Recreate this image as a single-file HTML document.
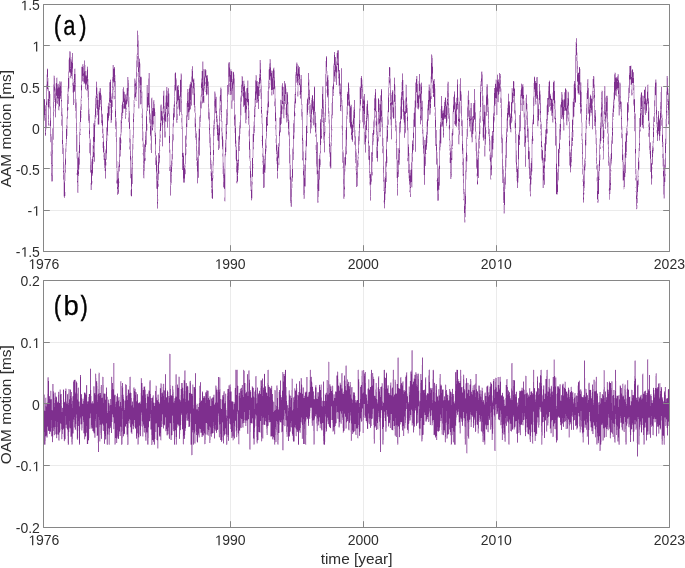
<!DOCTYPE html>
<html><head><meta charset="utf-8"><style>
html,body{margin:0;padding:0;background:#fff;width:685px;height:568px;overflow:hidden}
svg{display:block;will-change:transform}
text{font-family:"Liberation Sans",sans-serif;fill:#2e2e2e}
</style></head><body>
<svg width="685" height="568" viewBox="0 0 685 568">
<rect width="685" height="568" fill="#fff"/>
<line x1="43.7" y1="45.5" x2="669.4" y2="45.5" stroke="#ebebeb" stroke-width="1"/>
<line x1="43.7" y1="86.5" x2="669.4" y2="86.5" stroke="#ebebeb" stroke-width="1"/>
<line x1="43.7" y1="127.5" x2="669.4" y2="127.5" stroke="#ebebeb" stroke-width="1"/>
<line x1="43.7" y1="168.5" x2="669.4" y2="168.5" stroke="#ebebeb" stroke-width="1"/>
<line x1="43.7" y1="210.5" x2="669.4" y2="210.5" stroke="#ebebeb" stroke-width="1"/>
<line x1="230.5" y1="4.6" x2="230.5" y2="251.1" stroke="#ebebeb" stroke-width="1"/>
<line x1="363.5" y1="4.6" x2="363.5" y2="251.1" stroke="#ebebeb" stroke-width="1"/>
<line x1="496.5" y1="4.6" x2="496.5" y2="251.1" stroke="#ebebeb" stroke-width="1"/>
<line x1="43.7" y1="342.5" x2="669.4" y2="342.5" stroke="#ebebeb" stroke-width="1"/>
<line x1="43.7" y1="403.5" x2="669.4" y2="403.5" stroke="#ebebeb" stroke-width="1"/>
<line x1="43.7" y1="465.5" x2="669.4" y2="465.5" stroke="#ebebeb" stroke-width="1"/>
<line x1="230.5" y1="280.6" x2="230.5" y2="527.2" stroke="#ebebeb" stroke-width="1"/>
<line x1="363.5" y1="280.6" x2="363.5" y2="527.2" stroke="#ebebeb" stroke-width="1"/>
<line x1="496.5" y1="280.6" x2="496.5" y2="527.2" stroke="#ebebeb" stroke-width="1"/>
<path d="M46.5 74v1M46.5 129v1M47.5 105v2M49.5 123v1M50.5 142v1M50.5 151v1M53.5 75v1M53.5 143v2M54.5 75v1M54.5 105v1M54.5 109v1M54.5 111v1M55.5 83v1M56.5 77v1M56.5 105v1M57.5 77v1M58.5 83v1M58.5 110v1M59.5 110v1M63.5 144v1M63.5 196v1M64.5 164v1M67.5 87v1M68.5 59v1M69.5 88v1M70.5 78v1M71.5 78v1M72.5 92v1M74.5 68v1M75.5 68v1M75.5 111v2M75.5 118v1M76.5 152v1M76.5 158v1M77.5 134v1M79.5 169v1M80.5 98v1M81.5 66v1M81.5 113v1M87.5 97v1M89.5 108v1M89.5 153v1M90.5 138v1M92.5 183v1M95.5 95v1M95.5 126v1M96.5 110v1M96.5 117v1M97.5 87v1M97.5 115v1M97.5 124v1M98.5 91v1M99.5 124v1M100.5 105v1M101.5 94v1M102.5 113v1M103.5 128v1M106.5 165v1M108.5 102v1M108.5 121v1M108.5 134v2M110.5 113v1M111.5 93v1M113.5 99v1M114.5 99v1M115.5 129v1M119.5 181v1M121.5 135v1M121.5 139v1M121.5 143v1M122.5 119v1M124.5 91v1M127.5 103v1M128.5 122v1M130.5 129v1M130.5 178v1M130.5 195v1M131.5 157v1M133.5 143v1M133.5 149v1M134.5 113v4M135.5 78v1M136.5 54v1M137.5 67v1M137.5 76v1M139.5 108v1M140.5 63v1M141.5 76v1M141.5 108v1M141.5 113v1M141.5 115v1M142.5 91v1M142.5 142v2M142.5 154v1M143.5 131v1M143.5 178v1M144.5 178v1M145.5 130v1M147.5 130v1M149.5 123v1M150.5 140v1M150.5 143v1M151.5 97v1M152.5 97v1M153.5 127v1M154.5 136v1M158.5 199v2M159.5 129v1M159.5 164v1M159.5 170v1M160.5 104v1M160.5 144v2M160.5 150v1M161.5 126v1M162.5 107v1M163.5 90v1M164.5 90v1M165.5 95v1M166.5 86v1M167.5 86v1M168.5 117v1M168.5 121v1M169.5 93v1M170.5 149v1M172.5 123v1M172.5 166v1M173.5 104v1M173.5 141v1M174.5 73v1M175.5 91v1M177.5 120v1M178.5 109v1M179.5 94v1M180.5 73v1M183.5 152v1M184.5 163v1M185.5 174v1M186.5 148v1M186.5 154v1M189.5 119v1M190.5 81v1M194.5 78v1M194.5 117v1M197.5 150v1M198.5 128v1M199.5 115v1M200.5 95v1M200.5 122v1M200.5 127v1M203.5 61v1M204.5 91v1M204.5 95v1M208.5 120v1M209.5 108v1M209.5 147v1M210.5 169v1M212.5 161v1M213.5 120v1M213.5 173v1M213.5 178v1M215.5 91v1M215.5 113v1M216.5 96v1M219.5 96v1M220.5 119v1M221.5 87v1M221.5 139v1M223.5 139v1M224.5 201v1M225.5 201v1M232.5 71v1M233.5 71v1M234.5 74v1M235.5 159v1M236.5 140v1M236.5 183v1M237.5 159v1M237.5 183v1M240.5 95v1M241.5 115v1M242.5 96v1M243.5 80v1M244.5 80v1M245.5 123v1M246.5 120v1M246.5 123v1M247.5 105v1M248.5 80v1M248.5 130v1M248.5 136v1M249.5 110v1M252.5 198v1M253.5 121v1M253.5 165v2M253.5 168v1M254.5 98v1M254.5 133v1M254.5 135v1M261.5 79v1M261.5 136v1M262.5 113v1M262.5 167v1M264.5 155v1M265.5 138v1M266.5 110v1M266.5 151v1M268.5 69v1M269.5 89v1M270.5 85v1M272.5 70v1M272.5 95v1M273.5 67v1M274.5 67v1M274.5 106v1M275.5 138v1M280.5 99v1M281.5 85v1M283.5 86v1M283.5 118v1M284.5 118v1M285.5 107v1M286.5 88v1M287.5 122v1M288.5 136v1M289.5 120v1M289.5 179v1M290.5 154v1M290.5 206v1M292.5 147v1M292.5 183v1M294.5 138v1M297.5 62v1M298.5 96v1M305.5 140v1M306.5 103v1M306.5 160v1M307.5 97v1M308.5 105v1M309.5 79v1M312.5 117v1M314.5 127v1M315.5 111v1M316.5 174v1M321.5 108v1M321.5 141v2M322.5 122v1M324.5 112v1M325.5 133v1M326.5 86v1M326.5 89v1M328.5 123v1M329.5 161v1M329.5 166v1M332.5 118v1M332.5 130v1M333.5 63v1M337.5 72v1M341.5 111v1M341.5 125v1M341.5 128v1M342.5 166v1M342.5 168v1M345.5 171v1M346.5 106v1M346.5 158v1M347.5 91v1M350.5 104v1M351.5 104v1M352.5 120v1M355.5 163v1M355.5 170v1M357.5 186v1M359.5 86v1M359.5 144v1M360.5 111v1M360.5 123v1M362.5 79v1M362.5 122v1M367.5 129v2M368.5 110v1M369.5 185v1M371.5 184v1M373.5 119v1M375.5 120v1M375.5 125v1M376.5 98v1M377.5 118v1M379.5 136v1M382.5 100v1M382.5 153v1M383.5 200v1M383.5 202v1M386.5 125v1M387.5 110v1M387.5 156v1M389.5 95v1M389.5 100v2M390.5 67v1M390.5 125v1M393.5 90v1M394.5 118v1M395.5 85v1M395.5 131v1M395.5 141v1M400.5 98v1M400.5 133v1M402.5 104v1M403.5 120v3M404.5 100v1M405.5 84v1M405.5 133v1M406.5 84v1M406.5 118v1M407.5 103v1M407.5 161v1M408.5 178v1M409.5 192v1M410.5 169v1M411.5 187v1M412.5 187v1M413.5 150v1M414.5 100v1M414.5 127v1M416.5 107v1M419.5 107v1M420.5 83v1M422.5 100v1M423.5 129v1M425.5 168v1M426.5 121v1M427.5 104v1M428.5 84v1M430.5 76v1M432.5 55v1M434.5 107v1M434.5 109v1M434.5 112v1M435.5 88v1M436.5 181v1M438.5 166v1M440.5 150v1M441.5 143v1M443.5 108v1M446.5 100v1M446.5 126v1M447.5 81v1M447.5 121v1M448.5 81v1M448.5 126v1M448.5 128v1M449.5 152v1M449.5 157v1M450.5 140v1M452.5 111v1M452.5 149v2M453.5 96v1M454.5 124v1M456.5 97v1M458.5 97v1M458.5 144v1M459.5 144v1M460.5 101v1M460.5 113v1M461.5 91v1M462.5 119v1M463.5 200v1M465.5 217v1M465.5 219v1M465.5 222v1M466.5 179v1M467.5 95v1M467.5 144v1M467.5 161v1M469.5 130v2M471.5 142v1M472.5 142v1M476.5 131v1M476.5 173v1M476.5 176v1M477.5 151v1M478.5 135v1M479.5 151v1M479.5 153v1M480.5 125v1M481.5 87v1M481.5 89v1M481.5 93v1M482.5 71v1M482.5 121v1M482.5 137v1M483.5 95v1M484.5 104v1M485.5 105v1M485.5 156v1M486.5 133v1M487.5 112v1M487.5 115v1M488.5 98v1M488.5 136v1M489.5 128v1M489.5 154v1M490.5 140v1M491.5 135v1M491.5 178v2M493.5 105v1M493.5 149v1M494.5 122v1M495.5 79v1M498.5 102v1M500.5 104v1M501.5 88v1M501.5 153v1M502.5 134v1M503.5 204v1M503.5 213v1M504.5 176v1M505.5 141v1M506.5 118v1M506.5 167v1M507.5 104v1M507.5 132v1M507.5 134v1M510.5 132v1M511.5 123v1M511.5 127v1M511.5 132v1M512.5 111v1M512.5 116v1M512.5 121v1M513.5 103v1M514.5 81v1M514.5 114v1M514.5 120v1M514.5 128v1M515.5 162v1M518.5 132v1M518.5 182v1M520.5 131v1M523.5 117v1M524.5 100v1M526.5 135v1M528.5 126v1M528.5 168v1M529.5 183v1M529.5 191v1M531.5 184v1M532.5 119v1M532.5 171v1M533.5 138v1M536.5 100v1M536.5 104v1M537.5 126v1M538.5 126v1M540.5 90v1M540.5 129v1M540.5 133v1M540.5 135v1M541.5 121v1M541.5 160v1M543.5 157v1M546.5 105v1M550.5 93v1M552.5 92v1M553.5 80v1M553.5 122v1M554.5 80v1M554.5 119v1M555.5 100v1M557.5 168v1M558.5 148v1M558.5 181v1M559.5 166v1M560.5 148v1M562.5 119v1M564.5 122v1M564.5 130v1M566.5 89v1M566.5 125v1M567.5 91v1M567.5 125v1M568.5 91v1M568.5 126v1M568.5 128v1M568.5 136v2M569.5 112v1M570.5 149v1M571.5 166v1M572.5 101v1M573.5 84v1M574.5 116v1M577.5 52v1M577.5 93v1M581.5 82v1M581.5 140v1M582.5 122v1M582.5 185v1M584.5 192v1M584.5 194v1M585.5 120v1M585.5 170v1M586.5 141v1M586.5 145v1M587.5 114v1M588.5 117v1M589.5 97v1M590.5 116v1M591.5 115v1M593.5 101v1M594.5 76v1M596.5 177v1M596.5 181v1M599.5 138v1M600.5 113v1M600.5 154v1M601.5 90v1M602.5 90v1M602.5 138v1M602.5 158v2M604.5 137v1M606.5 95v1M606.5 122v1M607.5 95v1M607.5 136v1M607.5 144v1M608.5 189v2M609.5 156v1M611.5 136v1M611.5 165v1M611.5 171v1M612.5 108v1M613.5 92v1M613.5 118v1M614.5 72v1M614.5 103v1M614.5 108v1M615.5 72v1M616.5 96v1M617.5 90v1M617.5 95v2M618.5 115v1M620.5 82v1M620.5 111v1M621.5 101v1M621.5 138v1M622.5 126v1M622.5 180v1M623.5 154v1M623.5 189v1M626.5 125v1M627.5 141v1M628.5 85v1M628.5 120v1M630.5 65v1M631.5 65v1M632.5 95v1M634.5 131v1M636.5 168v1M636.5 209v1M637.5 170v1M637.5 203v1M637.5 208v1M639.5 157v1M639.5 160v1M639.5 169v1M640.5 94v1M643.5 95v1M644.5 113v1M646.5 98v1M647.5 84v1M647.5 105v1M648.5 84v1M649.5 107v1M652.5 169v1M652.5 178v1M653.5 153v1M654.5 86v1M654.5 126v1M655.5 106v1M655.5 112v1M656.5 79v1M658.5 134v1M662.5 114v1M662.5 166v1M663.5 198v1M664.5 159v1M667.5 106v1M667.5 110v1M667.5 113v1M667.5 115v1M668.5 88v1" stroke="#f0e6f1" stroke-width="1" fill="none"/>
<path d="M46.5 75v9M46.5 127v2M47.5 68v1M47.5 90v1M47.5 99v6M48.5 78v10M49.5 108v1M49.5 124v2M50.5 94v12M50.5 152v4M51.5 134v2M51.5 181v1M52.5 181v1M53.5 76v8M54.5 100v1M54.5 110v1M55.5 84v4M55.5 117v1M56.5 103v2M57.5 78v6M59.5 107v3M60.5 81v1M61.5 81v1M61.5 116v3M62.5 108v6M63.5 145v3M63.5 180v16M64.5 165v8M65.5 143v5M65.5 173v8M65.5 192v4M66.5 117v8M66.5 146v6M67.5 88v6M67.5 119v7M67.5 128v8M68.5 60v11M68.5 92v4M68.5 107v3M69.5 76v12M70.5 51v1M71.5 57v2M71.5 76v2M72.5 79v4M72.5 86v6M73.5 79v3M74.5 99v4M75.5 69v5M75.5 113v5M76.5 99v3M76.5 153v5M76.5 173v2M77.5 135v17M78.5 151v5M78.5 176v9M78.5 186v7M79.5 122v10M79.5 165v4M80.5 99v7M80.5 122v7M80.5 131v3M81.5 99v1M81.5 101v3M81.5 111v2M81.5 114v4M82.5 81v1M83.5 64v2M83.5 82v2M85.5 65v6M85.5 89v1M86.5 71v4M86.5 85v4M86.5 90v1M87.5 66v1M87.5 91v6M88.5 79v6M88.5 121v2M89.5 109v5M89.5 139v4M90.5 183v7M91.5 159v2M92.5 145v11M92.5 181v2M93.5 158v2M93.5 161v3M94.5 115v5M95.5 96v2M95.5 119v2M95.5 122v4M96.5 81v1M96.5 108v1M96.5 111v6M97.5 88v6M97.5 118v6M98.5 92v8M99.5 88v3M99.5 110v14M100.5 104v1M100.5 106v1M101.5 123v2M102.5 134v2M102.5 142v6M103.5 129v5M103.5 153v2M103.5 157v3M104.5 146v7M104.5 168v3M105.5 149v1M106.5 162v3M107.5 106v7M107.5 136v5M110.5 79v1M110.5 103v1M110.5 108v5M110.5 114v9M111.5 94v2M112.5 65v12M112.5 99v1M112.5 110v3M113.5 83v3M113.5 90v6M113.5 97v2M114.5 87v4M114.5 92v4M115.5 75v6M115.5 132v5M116.5 118v3M116.5 168v12M116.5 183v1M117.5 161v10M118.5 162v4M119.5 171v1M119.5 182v1M120.5 120v14M120.5 156v1M121.5 105v7M121.5 133v2M121.5 140v3M122.5 89v12M122.5 116v1M122.5 118v1M123.5 103v1M123.5 109v4M126.5 88v5M126.5 105v3M126.5 110v1M126.5 113v2M127.5 102v1M128.5 77v3M128.5 107v10M129.5 97v14M129.5 129v9M129.5 143v3M129.5 149v1M130.5 130v9M130.5 190v5M131.5 158v9M131.5 196v1M132.5 135v9M133.5 100v13M133.5 138v5M133.5 144v5M134.5 78v1M134.5 100v2M134.5 103v1M134.5 107v6M135.5 79v1M135.5 98v3M136.5 55v5M136.5 94v6M137.5 30v1M137.5 55v1M137.5 73v3M138.5 35v5M138.5 108v1M139.5 58v1M139.5 88v20M140.5 64v12M140.5 104v1M141.5 104v4M141.5 114v1M141.5 116v2M142.5 92v16M142.5 141v1M142.5 144v3M142.5 153v1M143.5 132v10M144.5 171v7M145.5 131v1M145.5 152v6M146.5 85v26M147.5 124v6M148.5 73v5M148.5 107v1M150.5 113v1M150.5 136v4M150.5 144v6M152.5 98v10M153.5 125v2M154.5 100v4M154.5 116v15M154.5 132v4M155.5 112v20M155.5 156v1M157.5 165v8M158.5 180v4M159.5 130v9M159.5 163v1M159.5 171v3M160.5 131v3M160.5 138v2M161.5 104v1M161.5 121v5M162.5 108v3M162.5 146v1M163.5 114v4M163.5 120v3M164.5 91v15M164.5 137v1M165.5 96v6M165.5 122v9M165.5 137v1M166.5 109v13M167.5 87v4M168.5 114v2M168.5 118v3M169.5 94v19M169.5 153v14M170.5 150v15M171.5 154v6M171.5 183v2M172.5 124v10M172.5 160v3M172.5 164v2M173.5 105v3M173.5 128v6M173.5 140v1M174.5 74v11M174.5 117v1M176.5 78v1M177.5 85v1M177.5 103v3M177.5 109v5M177.5 121v2M178.5 108v1M179.5 95v1M180.5 74v5M181.5 73v1M181.5 115v3M181.5 123v5M182.5 114v12M184.5 164v1M185.5 135v1M185.5 164v2M185.5 167v2M186.5 103v12M186.5 140v3M186.5 149v5M187.5 117v10M188.5 89v3M189.5 84v1M189.5 112v7M190.5 109v1M191.5 69v7M192.5 83v3M192.5 94v1M193.5 78v1M193.5 95v10M194.5 79v4M194.5 112v1M194.5 118v9M195.5 106v7M195.5 138v2M196.5 131v2M196.5 162v4M197.5 151v6M197.5 183v1M198.5 129v8M199.5 116v1M200.5 96v4M200.5 123v4M201.5 71v7M201.5 97v4M201.5 108v1M202.5 61v1M202.5 103v1M203.5 62v7M204.5 90v1M204.5 96v7M205.5 78v4M205.5 84v7M206.5 70v5M206.5 95v1M207.5 94v1M208.5 81v1M208.5 119v1M209.5 109v3M209.5 143v4M210.5 134v3M210.5 171v5M211.5 160v4M211.5 188v1M211.5 193v5M212.5 162v9M213.5 121v4M213.5 166v7M213.5 175v3M214.5 91v1M214.5 130v6M215.5 92v1M216.5 122v7M217.5 115v4M217.5 140v1M219.5 97v11M219.5 148v1M220.5 87v1M220.5 103v2M220.5 111v4M220.5 120v1M221.5 88v1M221.5 122v5M221.5 132v7M222.5 121v11M222.5 150v3M222.5 157v17M223.5 140v22M223.5 187v1M224.5 154v14M224.5 189v8M225.5 124v16M225.5 157v44M226.5 140v12M228.5 62v1M228.5 94v1M229.5 82v1M229.5 87v8M231.5 69v2M231.5 95v5M232.5 72v7M232.5 102v7M233.5 100v1M234.5 75v3M234.5 126v7M235.5 114v1M235.5 147v12M236.5 141v5M236.5 173v8M237.5 182v1M238.5 170v3M239.5 122v3M239.5 145v1M240.5 96v1M240.5 129v5M241.5 76v8M241.5 102v13M244.5 81v3M244.5 106v7M245.5 91v1M246.5 121v2M247.5 80v1M247.5 103v2M248.5 81v12M248.5 131v5M249.5 111v14M249.5 159v2M249.5 166v3M250.5 149v12M250.5 187v3M251.5 174v7M251.5 200v1M252.5 134v24M252.5 177v5M252.5 185v13M253.5 122v4M253.5 150v8M253.5 164v1M253.5 167v1M254.5 99v7M254.5 134v1M255.5 75v5M255.5 107v1M255.5 109v8M259.5 60v14M259.5 88v2M260.5 84v5M260.5 93v6M261.5 80v5M261.5 114v1M261.5 118v6M261.5 140v1M262.5 114v9M262.5 148v5M262.5 157v4M262.5 163v2M262.5 168v6M263.5 148v7M264.5 156v3M264.5 187v1M265.5 170v3M266.5 111v6M266.5 139v6M266.5 148v3M267.5 91v12M268.5 70v10M268.5 108v5M269.5 59v4M269.5 80v3M269.5 88v1M270.5 81v4M271.5 70v1M271.5 95v1M272.5 90v5M273.5 94v1M274.5 68v2M274.5 90v11M275.5 86v12M275.5 122v3M275.5 130v6M275.5 139v4M276.5 118v17M276.5 154v3M276.5 161v3M277.5 145v5M278.5 159v3M278.5 165v3M279.5 117v1M279.5 147v18M280.5 132v1M281.5 86v14M282.5 104v2M282.5 110v4M284.5 110v8M285.5 108v7M286.5 89v3M286.5 122v1M287.5 121v1M288.5 102v12M288.5 135v1M289.5 121v11M289.5 164v15M290.5 155v10M290.5 203v3M291.5 176v2M292.5 148v1M292.5 184v4M293.5 120v3M294.5 94v7M294.5 133v5M295.5 72v2M295.5 104v4M295.5 113v3M296.5 62v1M297.5 63v1M297.5 85v6M297.5 96v1M298.5 65v1M298.5 83v13M299.5 85v2M299.5 91v4M300.5 75v4M301.5 105v4M301.5 117v3M302.5 104v8M302.5 160v1M303.5 140v11M303.5 195v4M304.5 164v1M305.5 141v9M305.5 186v1M306.5 104v21M306.5 147v13M307.5 115v16M308.5 106v4M309.5 80v9M309.5 104v1M309.5 114v3M310.5 103v2M310.5 133v1M311.5 98v2M311.5 128v1M312.5 110v2M312.5 118v5M313.5 99v2M313.5 125v1M314.5 125v2M315.5 133v2M315.5 145v5M316.5 123v11M316.5 167v7M318.5 159v11M318.5 197v4M318.5 202v1M319.5 153v2M319.5 180v11M320.5 154v5M320.5 165v2M322.5 117v3M323.5 86v13M323.5 140v3M324.5 113v5M324.5 152v1M325.5 61v13M325.5 126v7M326.5 74v7M326.5 90v3M327.5 71v4M327.5 97v1M328.5 75v5M328.5 114v1M328.5 117v6M328.5 137v1M329.5 111v8M329.5 154v3M329.5 162v4M330.5 142v3M331.5 103v11M331.5 146v22M332.5 116v1M332.5 129v1M333.5 64v1M335.5 79v3M336.5 53v8M337.5 65v7M338.5 79v7M339.5 94v2M340.5 83v1M341.5 106v5M341.5 126v2M342.5 100v5M342.5 150v1M342.5 167v1M343.5 150v2M344.5 197v2M345.5 130v16M345.5 166v5M346.5 107v9M346.5 154v1M347.5 115v4M349.5 88v6M350.5 105v1M350.5 128v1M351.5 139v1M352.5 121v3M353.5 107v3M353.5 128v3M354.5 138v3M355.5 130v6M355.5 166v4M356.5 149v3M357.5 155v5M358.5 131v5M358.5 155v2M358.5 159v4M358.5 165v2M359.5 87v21M359.5 141v3M360.5 78v8M360.5 106v3M360.5 110v1M360.5 120v3M362.5 80v4M364.5 125v7M364.5 144v1M365.5 121v4M366.5 104v2M366.5 130v5M366.5 138v1M367.5 119v2M368.5 111v3M369.5 145v1M369.5 178v4M369.5 184v1M370.5 172v2M371.5 182v2M372.5 162v10M372.5 175v1M373.5 120v1M373.5 142v3M374.5 95v3M374.5 128v6M375.5 112v3M375.5 117v1M375.5 121v4M376.5 99v12M376.5 135v2M376.5 138v9M377.5 119v12M378.5 125v12M378.5 141v1M379.5 100v4M379.5 132v4M380.5 132v3M380.5 136v1M381.5 123v4M382.5 101v16M382.5 147v1M383.5 138v8M383.5 182v8M383.5 201v1M384.5 177v2M384.5 208v1M385.5 161v1M385.5 194v6M386.5 126v10M386.5 167v5M387.5 111v5M387.5 157v6M388.5 77v10M388.5 113v6M389.5 85v3M389.5 93v2M390.5 68v10M390.5 120v5M391.5 93v2M391.5 139v1M392.5 113v4M393.5 91v9M394.5 77v1M394.5 102v16M395.5 86v9M395.5 142v1M396.5 121v4M396.5 160v18M397.5 148v12M400.5 99v7M400.5 132v1M401.5 82v10M401.5 119v1M402.5 100v4M402.5 109v3M403.5 80v11M404.5 101v10M405.5 85v13M407.5 104v4M407.5 131v27M408.5 128v16M408.5 173v5M409.5 153v11M409.5 185v5M411.5 153v9M412.5 162v25M413.5 113v6M414.5 101v6M415.5 82v1M416.5 93v1M416.5 95v12M417.5 76v8M418.5 81v14M418.5 109v1M419.5 99v8M420.5 124v1M421.5 82v1M421.5 120v1M422.5 134v11M423.5 130v6M423.5 154v21M425.5 138v2M426.5 122v10M426.5 153v1M427.5 105v3M427.5 135v1M427.5 138v5M428.5 85v5M429.5 84v1M430.5 77v11M430.5 114v1M431.5 83v13M432.5 56v2M432.5 81v4M432.5 89v4M433.5 79v1M434.5 108v1M434.5 113v3M435.5 89v18M436.5 180v1M437.5 152v6M438.5 167v1M439.5 129v11M439.5 186v4M440.5 109v13M440.5 147v3M441.5 127v16M442.5 106v4M443.5 109v1M444.5 100v2M446.5 101v3M447.5 82v1M447.5 115v6M448.5 127v1M449.5 108v5M449.5 141v4M449.5 146v3M449.5 150v1M449.5 153v2M449.5 158v5M450.5 141v7M451.5 133v11M451.5 177v2M452.5 112v17M452.5 146v2M452.5 151v9M453.5 114v21M454.5 110v11M457.5 109v1M458.5 98v6M458.5 130v4M459.5 84v17M459.5 135v9M460.5 102v11M461.5 92v2M461.5 126v10M462.5 154v8M462.5 165v11M463.5 148v10M463.5 194v5M464.5 189v3M464.5 222v1M465.5 157v13M465.5 220v2M466.5 129v8M466.5 172v7M467.5 96v10M467.5 137v1M467.5 145v1M467.5 155v6M468.5 90v1M468.5 117v2M469.5 100v10M469.5 127v1M470.5 103v5M470.5 131v1M471.5 138v4M473.5 131v3M475.5 100v12M475.5 132v3M475.5 139v12M476.5 132v10M476.5 174v2M477.5 152v5M478.5 136v2M479.5 111v7M479.5 140v1M479.5 148v1M479.5 152v1M480.5 81v3M480.5 112v4M480.5 126v8M481.5 71v1M481.5 86v1M481.5 88v1M481.5 90v3M482.5 72v2M482.5 128v9M483.5 96v9M484.5 128v6M484.5 139v7M484.5 156v1M485.5 106v6M485.5 145v11M486.5 84v2M486.5 130v3M487.5 114v1M488.5 99v8M488.5 134v2M489.5 151v1M489.5 155v5M490.5 141v11M490.5 179v1M491.5 175v1M492.5 157v1M493.5 106v7M493.5 143v6M494.5 116v1M494.5 121v1M495.5 80v3M495.5 104v2M496.5 79v1M497.5 74v1M497.5 102v13M499.5 92v2M500.5 92v5M500.5 105v3M501.5 89v9M501.5 143v10M502.5 135v3M503.5 166v3M503.5 205v8M504.5 213v1M505.5 142v13M505.5 185v4M506.5 119v9M506.5 158v9M507.5 105v3M507.5 135v2M508.5 93v1M508.5 117v1M509.5 118v1M509.5 126v2M510.5 113v1M511.5 88v14M511.5 128v4M512.5 104v7M512.5 117v4M513.5 98v1M513.5 102v1M514.5 82v6M514.5 121v7M515.5 103v7M515.5 143v19M516.5 134v16M516.5 172v4M516.5 177v4M517.5 166v1M518.5 133v1M518.5 178v4M520.5 90v4M521.5 83v1M521.5 98v5M521.5 105v6M523.5 84v2M523.5 105v12M524.5 101v11M525.5 98v22M526.5 94v1M526.5 112v3M526.5 120v5M526.5 136v2M527.5 104v7M527.5 138v4M528.5 127v1M528.5 160v8M529.5 147v4M529.5 184v7M530.5 163v5M530.5 196v1M531.5 139v19M531.5 176v1M531.5 180v4M532.5 120v2M532.5 144v27M533.5 83v13M533.5 124v1M533.5 139v2M534.5 76v1M534.5 92v4M534.5 97v9M535.5 104v1M536.5 101v3M538.5 98v5M538.5 121v5M539.5 104v1M539.5 109v6M540.5 91v3M540.5 122v2M540.5 131v2M540.5 134v1M541.5 122v2M541.5 148v1M541.5 159v1M542.5 146v4M542.5 163v25M545.5 129v1M545.5 161v1M546.5 106v13M546.5 144v1M547.5 121v1M547.5 124v5M547.5 133v1M548.5 82v4M548.5 112v3M549.5 80v1M550.5 106v1M551.5 98v1M552.5 93v6M552.5 122v1M553.5 81v1M553.5 101v3M553.5 106v16M554.5 109v7M555.5 101v8M555.5 168v1M556.5 123v13M556.5 194v1M557.5 169v3M557.5 194v1M558.5 180v1M559.5 124v5M559.5 153v12M560.5 104v1M562.5 92v2M562.5 118v1M563.5 99v1M563.5 130v1M564.5 111v4M564.5 123v7M567.5 92v6M567.5 119v6M568.5 115v2M568.5 121v1M568.5 127v1M569.5 113v9M569.5 165v1M570.5 150v2M570.5 172v1M571.5 132v5M571.5 163v2M572.5 102v17M572.5 141v1M573.5 85v13M573.5 118v7M573.5 130v7M574.5 107v9M575.5 42v13M576.5 56v1M576.5 61v12M577.5 53v8M577.5 82v3M577.5 91v2M578.5 72v1M578.5 94v1M579.5 103v1M580.5 69v13M581.5 83v9M581.5 123v10M581.5 136v4M581.5 143v1M582.5 123v16M582.5 167v1M582.5 174v1M582.5 179v3M583.5 165v9M584.5 158v1M584.5 188v3M584.5 193v1M585.5 121v12M585.5 159v2M585.5 167v3M586.5 93v11M586.5 129v12M586.5 142v3M587.5 99v15M588.5 79v9M588.5 118v6M589.5 98v5M590.5 94v1M590.5 113v3M591.5 96v2M591.5 113v2M592.5 79v12M592.5 129v1M593.5 89v2M593.5 92v1M593.5 99v2M594.5 77v7M595.5 135v9M596.5 130v8M596.5 164v1M596.5 169v1M596.5 178v3M597.5 164v1M597.5 200v1M598.5 164v7M598.5 194v5M598.5 202v1M599.5 139v5M599.5 171v8M600.5 114v8M600.5 144v3M600.5 155v5M601.5 91v1M601.5 129v12M602.5 127v10M602.5 146v2M603.5 111v12M603.5 159v1M604.5 115v4M604.5 121v3M604.5 130v7M605.5 86v11M606.5 118v4M607.5 133v1M607.5 137v7M608.5 122v11M609.5 157v5M610.5 154v4M610.5 190v4M611.5 137v3M611.5 164v1M611.5 170v1M612.5 109v4M613.5 93v6M613.5 119v1M614.5 73v1M614.5 101v2M614.5 104v4M615.5 95v1M617.5 74v2M618.5 102v3M618.5 107v8M619.5 82v1M619.5 115v1M620.5 109v2M621.5 130v2M622.5 127v7M622.5 162v18M623.5 155v7M623.5 181v5M623.5 187v2M624.5 153v11M624.5 187v2M625.5 133v8M625.5 173v4M626.5 126v2M626.5 152v1M626.5 155v3M627.5 127v4M627.5 135v1M628.5 86v2M628.5 112v1M628.5 118v2M629.5 93v5M630.5 80v5M631.5 66v4M631.5 85v4M631.5 95v1M632.5 83v10M633.5 91v1M633.5 93v6M633.5 105v1M634.5 85v14M635.5 113v1M635.5 174v4M635.5 180v1M635.5 187v1M635.5 191v1M636.5 169v6M637.5 171v9M637.5 197v1M637.5 205v3M638.5 148v9M638.5 171v5M638.5 177v2M638.5 185v2M639.5 151v6M639.5 161v8M640.5 95v2M640.5 127v2M640.5 131v1M641.5 109v1M641.5 115v10M642.5 95v1M644.5 89v1M644.5 110v3M645.5 86v1M647.5 104v1M648.5 85v13M648.5 121v3M648.5 127v6M649.5 108v14M649.5 150v4M651.5 159v4M652.5 141v5M652.5 167v2M652.5 175v3M653.5 116v1M653.5 143v4M653.5 151v2M654.5 87v13M654.5 125v1M655.5 79v1M655.5 96v10M656.5 80v2M656.5 124v3M656.5 130v3M657.5 117v5M659.5 118v1M660.5 92v10M660.5 131v5M661.5 86v1M661.5 118v2M662.5 115v3M662.5 147v7M662.5 158v8M663.5 142v11M663.5 195v3M664.5 160v4M664.5 198v1M665.5 119v19M665.5 168v6M665.5 176v6M666.5 76v15M666.5 127v17M667.5 95v4M667.5 102v1M667.5 107v1M667.5 111v2M667.5 114v1M668.5 89v4M668.5 124v1" stroke="#dfcbe3" stroke-width="1" fill="none"/>
<path d="M44.5 120v1M45.5 105v1M46.5 84v1M47.5 89v1M48.5 125v1M49.5 107v1M50.5 106v1M51.5 136v1M52.5 128v1M53.5 84v1M53.5 139v1M54.5 101v1M55.5 88v1M56.5 96v1M58.5 105v1M59.5 81v1M61.5 119v1M61.5 125v1M62.5 114v1M65.5 148v1M66.5 142v1M66.5 144v2M67.5 126v1M68.5 71v1M69.5 51v1M69.5 72v1M71.5 59v1M72.5 85v1M76.5 102v1M77.5 152v1M77.5 192v1M78.5 156v1M78.5 185v1M80.5 106v1M80.5 130v1M81.5 83v1M81.5 98v1M82.5 64v1M84.5 60v1M84.5 83v1M89.5 138v1M90.5 139v1M90.5 156v1M90.5 172v1M91.5 161v1M92.5 175v1M93.5 123v1M93.5 157v1M93.5 160v1M94.5 120v1M95.5 121v1M101.5 95v1M102.5 133v1M103.5 155v2M105.5 150v1M105.5 178v1M106.5 127v1M106.5 159v1M107.5 135v1M108.5 120v1M109.5 82v1M109.5 115v1M110.5 106v1M111.5 96v1M111.5 122v1M112.5 88v1M112.5 100v1M113.5 86v1M113.5 96v1M115.5 99v1M116.5 121v1M116.5 180v1M119.5 137v1M121.5 112v1M121.5 132v1M122.5 101v1M123.5 102v1M125.5 94v1M126.5 93v1M126.5 109v1M126.5 111v1M127.5 101v1M128.5 117v1M129.5 142v1M129.5 146v1M131.5 167v1M134.5 99v1M134.5 102v1M135.5 80v1M135.5 97v1M136.5 60v1M136.5 93v1M136.5 100v1M138.5 40v1M140.5 76v1M142.5 108v1M143.5 142v1M144.5 144v1M145.5 160v1M146.5 144v1M148.5 78v1M149.5 122v1M150.5 114v1M152.5 130v1M153.5 100v1M153.5 124v1M154.5 131v1M155.5 132v1M155.5 155v1M155.5 157v1M156.5 155v1M156.5 188v1M157.5 208v1M158.5 186v1M160.5 105v1M160.5 134v1M160.5 140v2M162.5 111v1M163.5 113v1M163.5 119v1M165.5 102v1M165.5 131v1M169.5 113v1M170.5 195v1M171.5 160v1M172.5 159v1M172.5 163v1M173.5 127v1M173.5 134v1M174.5 96v1M175.5 72v1M176.5 79v1M176.5 122v1M177.5 102v1M177.5 106v1M178.5 107v1M180.5 79v1M181.5 98v1M181.5 122v1M181.5 128v1M182.5 126v1M183.5 182v1M184.5 182v1M185.5 166v1M185.5 169v1M186.5 139v1M186.5 143v1M189.5 85v1M191.5 76v1M191.5 105v1M192.5 82v1M192.5 93v1M194.5 108v1M194.5 111v1M196.5 160v1M198.5 137v1M199.5 155v1M200.5 100v1M201.5 78v1M201.5 101v1M204.5 69v1M204.5 89v1M205.5 91v1M209.5 112v1M210.5 137v1M213.5 165v1M214.5 124v1M214.5 126v1M214.5 129v1M215.5 93v1M218.5 125v1M219.5 108v1M220.5 102v1M220.5 110v1M221.5 127v1M221.5 131v1M222.5 132v1M222.5 149v1M222.5 153v1M222.5 156v1M223.5 162v1M224.5 168v1M224.5 197v1M225.5 156v1M226.5 109v1M226.5 139v1M227.5 124v1M230.5 69v1M231.5 100v1M231.5 108v1M232.5 101v1M234.5 78v1M234.5 102v1M236.5 146v1M236.5 172v1M238.5 136v1M239.5 125v1M240.5 97v1M240.5 128v1M241.5 84v1M242.5 76v1M246.5 88v1M246.5 119v1M247.5 102v1M248.5 124v1M249.5 158v1M250.5 186v1M250.5 190v1M252.5 184v1M253.5 126v1M253.5 149v1M254.5 106v1M255.5 108v1M256.5 75v1M257.5 102v1M260.5 83v1M260.5 92v1M261.5 85v1M261.5 115v1M261.5 117v1M262.5 123v1M262.5 153v1M262.5 162v1M263.5 155v1M264.5 173v1M265.5 139v1M265.5 169v1M266.5 138v1M266.5 145v1M267.5 103v1M268.5 80v1M268.5 107v1M269.5 63v1M269.5 84v2M270.5 59v1M270.5 80v1M271.5 90v2M274.5 70v1M274.5 89v1M274.5 101v1M275.5 98v1M275.5 121v1M275.5 129v1M276.5 157v1M277.5 150v1M277.5 178v1M278.5 143v1M278.5 158v1M278.5 162v1M279.5 146v1M281.5 123v1M282.5 106v1M282.5 109v1M284.5 109v1M285.5 83v1M288.5 114v1M289.5 163v1M291.5 178v1M292.5 181v1M294.5 101v1M294.5 132v1M295.5 74v1M295.5 87v1M296.5 82v1M297.5 91v1M300.5 98v1M301.5 116v1M303.5 151v1M303.5 166v1M304.5 198v1M305.5 150v1M306.5 125v1M307.5 98v1M307.5 131v1M309.5 89v1M309.5 105v1M309.5 113v1M314.5 86v1M314.5 124v1M315.5 136v1M316.5 166v1M317.5 202v1M318.5 170v1M318.5 201v1M320.5 153v1M320.5 159v1M322.5 86v1M322.5 120v1M323.5 99v1M323.5 139v1M325.5 87v1M325.5 120v1M326.5 73v1M326.5 81v1M328.5 106v1M328.5 116v1M329.5 119v1M329.5 153v1M330.5 145v1M330.5 168v1M331.5 114v1M331.5 141v2M332.5 86v1M332.5 115v1M332.5 117v1M333.5 65v1M333.5 93v1M334.5 81v1M335.5 78v1M336.5 61v1M337.5 50v1M338.5 78v1M341.5 104v1M342.5 105v1M342.5 149v1M342.5 151v1M342.5 162v1M343.5 152v1M343.5 198v1M344.5 157v1M345.5 146v1M348.5 82v1M348.5 105v1M349.5 94v1M349.5 122v1M353.5 110v1M353.5 131v1M354.5 137v1M354.5 141v1M354.5 144v1M356.5 152v1M358.5 154v1M358.5 158v1M358.5 163v2M359.5 108v1M360.5 109v1M361.5 98v1M362.5 84v1M363.5 96v1M363.5 128v1M365.5 152v1M366.5 106v1M366.5 135v1M367.5 100v1M367.5 118v1M368.5 159v1M369.5 173v1M369.5 182v2M370.5 200v1M373.5 121v1M373.5 137v1M373.5 141v1M374.5 127v1M375.5 115v1M376.5 137v1M377.5 131v1M377.5 161v1M378.5 124v1M380.5 95v1M381.5 122v1M382.5 146v1M382.5 148v1M383.5 190v1M384.5 179v1M386.5 136v1M387.5 116v1M388.5 87v1M388.5 112v1M388.5 119v1M388.5 124v1M389.5 84v1M390.5 78v1M390.5 119v1M392.5 105v2M392.5 112v1M393.5 100v1M395.5 128v1M395.5 130v1M396.5 125v1M396.5 159v1M397.5 195v1M398.5 148v1M399.5 122v1M399.5 164v1M400.5 106v1M402.5 73v1M403.5 119v1M405.5 98v1M407.5 130v1M409.5 190v1M412.5 140v1M413.5 119v1M414.5 107v1M416.5 94v1M417.5 108v1M420.5 84v1M422.5 127v1M423.5 136v1M427.5 108v1M427.5 136v2M428.5 90v1M428.5 120v1M429.5 114v1M430.5 88v1M430.5 113v1M431.5 54v1M432.5 80v1M432.5 88v1M435.5 107v1M436.5 164v1M437.5 158v1M437.5 200v1M438.5 168v1M438.5 200v1M439.5 140v1M442.5 110v1M442.5 126v1M443.5 137v1M445.5 97v1M446.5 104v1M447.5 83v1M448.5 118v1M449.5 113v1M449.5 140v1M449.5 149v1M451.5 144v1M453.5 112v2M454.5 91v1M455.5 102v1M457.5 79v1M458.5 134v1M459.5 101v1M461.5 94v1M461.5 118v1M462.5 120v1M465.5 170v1M466.5 137v1M467.5 106v1M467.5 138v1M469.5 126v1M471.5 137v1M472.5 116v1M473.5 130v1M475.5 135v1M476.5 142v1M476.5 168v1M477.5 157v1M477.5 184v1M478.5 138v1M479.5 118v1M480.5 84v1M480.5 122v1M482.5 74v1M483.5 140v1M484.5 127v1M484.5 134v1M486.5 86v1M487.5 84v1M490.5 152v1M494.5 120v1M495.5 83v1M496.5 99v1M498.5 79v1M500.5 85v1M500.5 97v1M501.5 98v1M503.5 169v1M504.5 177v1M506.5 128v1M508.5 115v2M509.5 101v1M509.5 117v1M509.5 119v1M509.5 125v1M512.5 88v1M512.5 103v1M513.5 99v1M514.5 113v1M515.5 110v1M516.5 150v1M516.5 176v1M517.5 167v1M518.5 134v1M518.5 169v1M520.5 94v1M521.5 103v1M522.5 84v1M523.5 86v1M524.5 112v1M526.5 111v1M526.5 115v1M526.5 119v1M527.5 111v1M528.5 128v1M528.5 159v1M531.5 175v1M531.5 177v1M531.5 179v1M532.5 122v1M533.5 96v1M534.5 96v1M536.5 77v1M538.5 103v1M540.5 94v1M540.5 124v1M541.5 147v1M541.5 158v1M544.5 143v1M547.5 123v1M550.5 110v1M551.5 115v1M553.5 100v1M553.5 104v1M554.5 116v1M555.5 109v1M555.5 145v1M559.5 165v1M560.5 118v1M560.5 139v1M562.5 94v1M562.5 117v1M564.5 92v1M567.5 118v1M568.5 117v1M571.5 137v1M571.5 162v1M571.5 165v1M573.5 98v1M573.5 117v1M577.5 90v1M579.5 94v1M580.5 113v1M581.5 102v1M581.5 122v1M581.5 133v1M582.5 165v2M582.5 168v1M583.5 174v1M583.5 202v1M584.5 159v1M585.5 162v1M585.5 166v1M587.5 79v1M588.5 113v1M592.5 104v1M593.5 88v1M593.5 93v3M594.5 84v1M595.5 134v1M596.5 156v1M596.5 165v1M597.5 202v1M598.5 199v1M598.5 201v1M599.5 144v1M600.5 122v1M601.5 128v1M603.5 123v1M604.5 119v1M605.5 97v1M606.5 117v1M607.5 128v1M608.5 133v1M608.5 165v1M609.5 162v1M609.5 199v1M610.5 158v1M611.5 140v1M611.5 163v1M613.5 99v1M614.5 100v1M618.5 74v1M618.5 101v1M618.5 105v2M620.5 83v1M621.5 132v1M623.5 186v1M624.5 164v1M626.5 153v1M627.5 126v1M628.5 103v1M631.5 70v1M631.5 89v1M632.5 94v1M633.5 90v1M633.5 92v1M633.5 99v1M633.5 104v1M635.5 168v1M636.5 175v1M637.5 196v1M638.5 157v1M638.5 170v1M638.5 179v1M640.5 97v1M640.5 129v1M642.5 127v1M643.5 128v1M644.5 109v1M646.5 99v1M648.5 124v1M648.5 136v1M649.5 122v1M650.5 142v1M651.5 184v1M652.5 164v1M653.5 147v1M654.5 112v1M655.5 95v1M656.5 82v1M659.5 140v1M661.5 125v1M663.5 153v1M663.5 194v1M664.5 164v1M665.5 138v1M666.5 91v1M667.5 103v1" stroke="#cbacd2" stroke-width="1" fill="none"/>
<path d="M44.5 118v2M45.5 106v3M45.5 111v3M45.5 115v3M45.5 135v1M46.5 85v16M46.5 105v22M48.5 88v11M48.5 108v7M48.5 119v2M48.5 122v1M49.5 101v1M49.5 103v4M50.5 107v11M50.5 126v8M50.5 136v6M51.5 137v17M51.5 164v9M51.5 176v5M52.5 129v21M52.5 154v11M52.5 166v9M53.5 85v17M53.5 108v4M53.5 116v23M54.5 76v2M54.5 92v2M54.5 98v2M55.5 89v4M56.5 78v5M56.5 97v6M57.5 84v1M57.5 99v2M57.5 103v1M58.5 84v2M58.5 101v4M58.5 106v4M59.5 82v3M59.5 106v1M60.5 82v1M60.5 98v1M61.5 82v9M61.5 93v7M61.5 102v10M61.5 120v5M62.5 115v16M62.5 144v10M63.5 148v14M63.5 169v1M63.5 173v2M63.5 179v1M64.5 173v8M64.5 197v1M65.5 149v9M65.5 165v5M65.5 172v1M66.5 125v4M66.5 139v3M66.5 143v1M67.5 94v6M67.5 111v5M67.5 118v1M67.5 127v1M68.5 72v6M68.5 91v1M68.5 96v8M69.5 52v5M70.5 52v7M70.5 73v3M70.5 77v1M71.5 60v1M72.5 72v7M72.5 83v2M73.5 82v1M74.5 69v5M74.5 91v1M75.5 74v9M75.5 84v1M75.5 87v16M75.5 108v3M76.5 103v20M76.5 131v1M76.5 133v2M76.5 151v1M77.5 153v5M77.5 183v9M79.5 132v10M79.5 153v6M79.5 164v1M80.5 107v3M80.5 129v1M80.5 134v1M81.5 67v16M81.5 84v1M81.5 91v5M81.5 100v1M81.5 104v6M82.5 65v2M83.5 66v2M83.5 77v1M83.5 81v1M86.5 75v1M86.5 84v1M86.5 89v1M87.5 90v1M88.5 85v6M88.5 97v1M88.5 100v10M88.5 120v1M89.5 114v2M89.5 123v5M89.5 143v10M90.5 140v3M90.5 155v1M90.5 157v8M91.5 162v8M91.5 185v5M92.5 156v1M92.5 174v1M93.5 124v13M94.5 121v2M94.5 142v11M94.5 161v1M95.5 98v6M95.5 117v2M96.5 98v2M96.5 105v3M97.5 94v3M97.5 112v3M98.5 100v5M98.5 124v1M99.5 91v1M99.5 109v1M100.5 88v1M100.5 100v4M101.5 96v4M101.5 117v3M102.5 114v1M102.5 126v3M102.5 136v2M103.5 134v7M103.5 152v1M104.5 165v3M105.5 151v8M106.5 128v10M106.5 154v5M108.5 103v3M109.5 83v9M109.5 102v2M109.5 105v2M109.5 109v6M110.5 104v2M110.5 107v1M111.5 97v3M111.5 120v2M112.5 77v2M112.5 81v5M112.5 89v4M112.5 98v1M112.5 101v6M113.5 65v3M113.5 82v1M113.5 87v3M114.5 86v1M114.5 91v1M114.5 96v3M115.5 81v18M115.5 100v9M115.5 117v3M115.5 126v3M116.5 122v16M116.5 142v26M116.5 181v2M117.5 171v2M117.5 189v3M117.5 194v1M118.5 166v12M118.5 193v1M119.5 138v16M119.5 157v3M119.5 167v4M120.5 134v3M120.5 150v6M121.5 129v3M122.5 113v3M122.5 117v1M123.5 87v1M123.5 104v2M123.5 108v1M124.5 92v2M125.5 109v8M125.5 118v1M126.5 94v3M126.5 104v1M126.5 108v1M127.5 77v11M128.5 80v3M128.5 91v10M128.5 118v4M129.5 111v2M129.5 138v4M129.5 147v2M130.5 139v12M130.5 161v17M131.5 168v6M132.5 144v12M132.5 158v5M132.5 164v4M132.5 169v15M133.5 113v1M133.5 122v5M133.5 130v8M134.5 79v5M134.5 87v7M134.5 98v1M134.5 104v3M135.5 81v2M136.5 61v11M136.5 77v5M136.5 90v3M137.5 47v6M137.5 59v8M138.5 41v15M138.5 59v3M138.5 72v6M138.5 82v26M139.5 77v3M139.5 83v5M141.5 77v1M141.5 85v7M141.5 93v3M141.5 98v6M142.5 109v6M142.5 118v6M142.5 126v1M142.5 129v9M142.5 140v1M143.5 143v6M143.5 156v5M143.5 163v2M143.5 168v1M143.5 175v3M144.5 164v7M145.5 132v4M145.5 147v5M145.5 158v2M146.5 111v5M146.5 131v13M147.5 85v8M147.5 108v1M148.5 79v14M148.5 105v2M149.5 73v30M149.5 115v2M149.5 120v2M150.5 115v4M150.5 124v2M151.5 98v1M151.5 108v12M151.5 124v12M153.5 101v1M153.5 117v4M154.5 104v4M155.5 145v6M155.5 154v1M155.5 158v7M156.5 173v3M156.5 179v9M157.5 173v1M158.5 174v6M158.5 184v2M159.5 139v7M159.5 151v4M159.5 162v1M160.5 106v17M160.5 135v3M161.5 105v6M162.5 112v4M163.5 91v4M163.5 109v2M163.5 118v1M164.5 106v8M164.5 128v9M165.5 103v6M165.5 132v5M166.5 87v3M167.5 91v5M167.5 127v1M168.5 88v1M168.5 107v4M169.5 114v22M169.5 143v7M169.5 152v1M169.5 167v4M170.5 165v4M170.5 171v1M170.5 182v4M171.5 172v3M171.5 176v7M172.5 134v6M172.5 151v3M173.5 108v5M173.5 120v3M173.5 126v1M173.5 135v5M174.5 85v11M174.5 97v4M174.5 107v1M175.5 90v1M176.5 80v21M176.5 104v15M176.5 120v2M177.5 101v1M177.5 107v2M177.5 114v6M178.5 85v5M178.5 100v7M179.5 115v1M180.5 97v15M181.5 74v1M181.5 92v6M181.5 99v2M181.5 103v12M181.5 118v4M182.5 127v26M182.5 157v2M183.5 153v2M184.5 165v3M185.5 156v8M185.5 170v4M186.5 115v1M186.5 127v12M186.5 144v3M187.5 89v4M187.5 116v1M188.5 92v8M188.5 113v6M189.5 86v2M189.5 111v1M190.5 82v2M191.5 77v5M192.5 66v1M192.5 86v7M193.5 89v6M194.5 83v5M194.5 107v1M194.5 109v2M195.5 113v6M195.5 131v5M195.5 137v1M196.5 133v1M196.5 144v2M196.5 151v8M197.5 157v1M198.5 138v9M198.5 154v5M198.5 177v1M199.5 117v12M200.5 101v1M200.5 108v7M200.5 118v4M201.5 79v3M201.5 88v6M201.5 96v1M201.5 102v6M202.5 62v9M202.5 95v2M203.5 69v16M203.5 102v1M204.5 70v6M204.5 86v1M204.5 88v1M205.5 69v1M205.5 77v1M205.5 82v2M206.5 75v1M207.5 75v1M207.5 88v6M208.5 82v5M208.5 95v9M208.5 107v5M208.5 118v1M209.5 113v4M209.5 120v4M209.5 134v9M210.5 138v8M210.5 155v3M210.5 165v4M211.5 164v8M211.5 181v5M211.5 187v1M211.5 189v4M212.5 171v7M213.5 125v3M213.5 136v7M213.5 145v5M213.5 155v2M213.5 161v4M214.5 92v9M214.5 106v13M214.5 125v1M214.5 127v2M215.5 94v3M216.5 97v14M217.5 119v5M217.5 135v5M218.5 126v3M218.5 141v4M219.5 109v7M219.5 121v2M219.5 136v12M220.5 88v2M220.5 101v1M220.5 105v5M221.5 89v11M221.5 112v2M221.5 118v4M221.5 128v3M222.5 133v3M222.5 154v2M223.5 163v3M223.5 178v4M224.5 169v4M224.5 198v3M225.5 140v3M225.5 155v1M226.5 110v8M227.5 96v4M227.5 102v11M227.5 116v8M228.5 63v1M228.5 77v7M228.5 92v2M229.5 62v1M229.5 81v1M229.5 83v4M230.5 70v1M231.5 82v6M231.5 94v1M231.5 101v7M232.5 79v2M232.5 91v10M233.5 85v15M234.5 79v23M234.5 103v12M234.5 125v1M235.5 115v11M235.5 144v1M235.5 146v1M236.5 147v3M236.5 161v5M236.5 181v2M237.5 160v3M238.5 137v5M238.5 151v8M238.5 166v4M239.5 126v2M239.5 142v3M239.5 146v5M240.5 98v6M240.5 115v5M241.5 93v3M241.5 101v1M242.5 89v7M243.5 81v5M243.5 106v1M244.5 84v2M244.5 105v1M245.5 92v1M245.5 113v10M246.5 89v9M246.5 110v9M247.5 81v7M248.5 93v6M248.5 118v6M249.5 125v4M249.5 136v3M249.5 150v6M249.5 157v1M250.5 161v7M250.5 178v8M251.5 181v8M252.5 182v2M253.5 127v7M253.5 142v5M254.5 107v2M254.5 117v8M254.5 128v1M254.5 131v2M255.5 80v1M255.5 100v5M256.5 76v5M256.5 95v8M257.5 81v5M258.5 82v4M259.5 74v4M259.5 84v4M259.5 90v6M260.5 60v3M260.5 89v3M261.5 86v7M261.5 99v8M261.5 116v1M262.5 124v11M262.5 154v3M262.5 161v1M264.5 159v4M264.5 174v13M265.5 140v3M265.5 160v9M266.5 132v1M266.5 136v2M266.5 146v2M267.5 104v6M267.5 125v1M268.5 81v6M268.5 89v2M269.5 64v3M269.5 83v1M269.5 86v2M270.5 60v3M270.5 77v3M271.5 71v2M271.5 92v3M272.5 71v6M273.5 68v1M274.5 71v6M274.5 102v4M275.5 99v8M275.5 125v4M276.5 135v9M276.5 152v1M276.5 158v3M277.5 151v1M277.5 171v2M278.5 144v3M278.5 163v2M279.5 118v12M279.5 136v10M280.5 100v11M280.5 125v2M281.5 100v5M281.5 119v4M282.5 83v1M282.5 107v2M283.5 87v15M283.5 109v9M284.5 101v1M284.5 106v3M285.5 94v10M286.5 92v12M286.5 118v4M287.5 92v1M287.5 105v8M287.5 116v5M288.5 115v4M288.5 129v2M288.5 134v1M289.5 132v7M289.5 146v2M290.5 165v5M290.5 201v2M291.5 179v10M291.5 197v3M291.5 206v1M292.5 149v20M292.5 178v3M293.5 123v1M293.5 139v13M293.5 154v6M294.5 102v3M294.5 117v15M295.5 75v12M295.5 88v4M295.5 103v1M296.5 63v1M296.5 76v1M296.5 78v4M297.5 64v9M297.5 92v4M298.5 77v2M298.5 80v3M300.5 79v5M300.5 95v1M301.5 75v4M301.5 92v13M301.5 109v7M302.5 112v23M302.5 141v1M302.5 144v14M303.5 152v14M303.5 167v2M303.5 176v19M304.5 165v10M304.5 187v3M304.5 193v5M305.5 151v2M305.5 160v5M305.5 171v15M306.5 146v1M307.5 132v1M308.5 99v6M309.5 103v1M309.5 106v7M310.5 105v10M310.5 123v1M311.5 100v4M311.5 119v2M311.5 122v6M313.5 101v1M313.5 115v4M314.5 113v11M315.5 112v4M315.5 132v1M315.5 135v1M316.5 134v11M316.5 164v2M317.5 142v1M317.5 174v10M317.5 189v13M318.5 191v6M319.5 155v3M319.5 179v1M320.5 119v1M320.5 145v6M320.5 160v5M321.5 109v6M321.5 122v7M321.5 138v1M322.5 87v7M322.5 109v1M322.5 114v3M322.5 121v1M323.5 100v7M323.5 114v4M323.5 123v1M323.5 126v7M323.5 134v5M324.5 118v14M324.5 137v4M325.5 74v13M325.5 88v14M325.5 103v1M325.5 116v4M325.5 121v1M326.5 56v1M326.5 71v2M327.5 75v1M328.5 80v9M328.5 95v11M328.5 107v1M328.5 113v1M328.5 115v1M329.5 120v13M329.5 147v1M329.5 152v1M330.5 146v6M331.5 115v10M331.5 130v5M331.5 137v4M331.5 143v3M332.5 87v11M333.5 66v17M333.5 90v2M333.5 94v2M334.5 65v5M334.5 77v4M335.5 72v6M336.5 62v4M338.5 50v1M338.5 72v5M339.5 86v6M339.5 93v1M340.5 84v5M341.5 68v1M341.5 94v1M341.5 96v2M341.5 102v2M341.5 105v1M342.5 106v20M342.5 131v2M342.5 135v14M342.5 152v10M343.5 153v8M343.5 168v11M343.5 184v14M344.5 158v11M344.5 175v11M344.5 190v4M344.5 196v1M345.5 147v6M345.5 165v1M346.5 116v11M346.5 146v5M347.5 92v2M347.5 106v6M347.5 114v1M348.5 100v2M349.5 95v5M349.5 107v4M349.5 117v5M350.5 127v1M351.5 105v2M351.5 135v4M352.5 124v1M352.5 141v1M353.5 111v4M353.5 127v1M354.5 118v19M354.5 142v2M355.5 136v1M355.5 146v5M355.5 157v2M355.5 160v3M356.5 153v16M356.5 170v1M357.5 160v1M357.5 167v5M357.5 178v8M358.5 136v1M358.5 145v3M358.5 153v1M358.5 157v1M359.5 109v11M359.5 133v8M360.5 86v1M360.5 105v1M361.5 88v1M361.5 90v8M362.5 85v4M362.5 92v7M362.5 108v14M363.5 97v2M364.5 114v1M364.5 124v1M364.5 132v12M365.5 125v1M366.5 107v9M366.5 136v2M367.5 117v1M368.5 114v15M368.5 130v1M368.5 132v8M368.5 144v6M368.5 151v8M369.5 165v6M369.5 174v4M370.5 185v5M370.5 196v1M371.5 152v1M371.5 175v4M371.5 181v1M372.5 133v8M372.5 145v7M372.5 156v1M372.5 161v1M372.5 172v3M373.5 122v8M373.5 135v2M373.5 138v3M374.5 98v1M374.5 110v7M374.5 118v9M375.5 111v1M375.5 116v1M376.5 132v3M376.5 147v11M377.5 132v3M378.5 98v1M378.5 112v6M378.5 137v4M379.5 104v4M379.5 110v5M379.5 124v7M380.5 96v8M380.5 122v6M380.5 131v1M380.5 135v1M381.5 117v1M382.5 117v7M382.5 127v11M382.5 149v4M383.5 146v20M383.5 173v7M383.5 181v1M384.5 180v7M385.5 162v14M385.5 193v1M386.5 137v12M386.5 166v1M386.5 172v10M387.5 117v9M387.5 141v1M388.5 88v7M388.5 120v4M389.5 83v1M390.5 79v11M390.5 101v2M390.5 110v7M391.5 95v7M391.5 125v4M392.5 90v1M392.5 107v5M393.5 101v6M393.5 118v1M395.5 95v8M395.5 104v2M395.5 118v1M395.5 123v2M395.5 127v1M395.5 129v1M396.5 126v13M396.5 143v1M396.5 145v3M397.5 160v1M397.5 182v2M397.5 188v1M398.5 149v5M398.5 165v5M398.5 174v3M399.5 123v4M399.5 133v15M399.5 160v4M400.5 107v9M400.5 120v1M400.5 128v4M403.5 91v8M403.5 116v3M404.5 125v2M404.5 128v1M404.5 137v1M405.5 99v7M405.5 108v1M405.5 114v2M405.5 132v1M406.5 85v12M407.5 108v8M407.5 158v3M408.5 144v1M408.5 161v9M409.5 164v6M409.5 184v1M409.5 191v1M410.5 170v3M410.5 188v6M411.5 162v1M411.5 182v5M412.5 154v3M412.5 161v1M413.5 120v12M413.5 138v7M413.5 146v4M414.5 108v4M415.5 83v9M415.5 151v1M416.5 76v3M416.5 92v1M417.5 103v5M419.5 91v3M419.5 98v1M420.5 85v8M420.5 111v4M421.5 94v7M422.5 101v6M422.5 111v14M422.5 126v1M422.5 128v2M422.5 131v1M422.5 133v1M423.5 153v1M424.5 140v14M424.5 184v1M425.5 140v4M425.5 154v3M425.5 164v2M426.5 132v3M426.5 149v1M427.5 109v10M427.5 134v1M428.5 91v9M428.5 111v9M429.5 85v2M429.5 106v8M430.5 89v4M430.5 108v5M431.5 82v1M431.5 96v3M432.5 58v8M432.5 79v1M432.5 85v3M433.5 80v1M434.5 79v5M435.5 108v9M435.5 138v8M436.5 130v14M437.5 159v19M437.5 191v9M438.5 169v8M438.5 190v4M439.5 141v6M439.5 150v15M439.5 185v1M440.5 144v3M441.5 118v5M441.5 126v1M443.5 110v1M444.5 118v1M445.5 118v1M446.5 105v1M446.5 123v3M447.5 84v7M447.5 97v2M447.5 105v10M448.5 82v11M448.5 97v6M448.5 106v2M448.5 113v5M449.5 114v2M449.5 130v9M449.5 145v1M450.5 148v3M450.5 163v9M450.5 173v6M451.5 145v6M451.5 160v14M451.5 175v2M452.5 129v2M452.5 136v4M452.5 148v1M453.5 97v7M454.5 109v1M454.5 121v3M455.5 103v6M455.5 125v1M456.5 98v5M456.5 126v1M458.5 104v13M458.5 121v2M458.5 126v4M458.5 135v9M459.5 113v5M459.5 122v9M459.5 134v1M460.5 78v1M461.5 95v11M461.5 116v2M461.5 119v2M462.5 121v9M462.5 136v5M462.5 162v3M463.5 158v1M463.5 176v3M463.5 183v6M463.5 190v4M463.5 199v1M464.5 192v12M464.5 213v9M465.5 171v23M465.5 209v8M466.5 138v14M466.5 162v10M467.5 107v1M467.5 117v1M467.5 120v9M467.5 136v1M468.5 116v1M469.5 110v1M470.5 108v8M470.5 124v7M471.5 103v5M471.5 120v10M472.5 134v8M473.5 103v2M473.5 126v4M474.5 119v1M475.5 112v1M475.5 122v1M475.5 131v1M475.5 136v3M476.5 156v3M476.5 167v1M477.5 158v1M477.5 176v4M478.5 139v11M478.5 153v2M478.5 157v1M479.5 119v4M479.5 139v1M479.5 141v7M480.5 85v7M480.5 107v3M480.5 116v6M482.5 75v12M482.5 91v5M482.5 101v2M482.5 105v16M483.5 105v12M484.5 105v6M484.5 126v1M484.5 135v4M484.5 146v10M485.5 112v15M485.5 144v1M486.5 87v8M486.5 115v1M487.5 85v1M487.5 105v7M488.5 107v4M488.5 119v2M488.5 123v3M488.5 127v5M489.5 129v6M489.5 136v1M489.5 145v4M490.5 153v2M490.5 162v6M490.5 170v9M491.5 136v19M491.5 159v6M492.5 150v7M493.5 113v1M493.5 132v7M493.5 140v3M494.5 106v6M494.5 115v1M494.5 117v3M495.5 98v6M496.5 80v6M496.5 100v15M497.5 92v10M498.5 95v7M499.5 91v1M500.5 74v2M500.5 78v2M500.5 84v1M500.5 86v1M500.5 91v1M500.5 98v5M501.5 99v10M501.5 117v20M501.5 139v4M502.5 138v1M502.5 153v6M502.5 174v9M503.5 170v9M503.5 183v4M503.5 191v1M503.5 200v3M504.5 178v4M504.5 205v8M505.5 155v5M505.5 167v1M505.5 171v2M505.5 184v1M506.5 129v3M507.5 108v5M507.5 131v1M509.5 120v5M510.5 114v2M510.5 129v3M511.5 122v1M512.5 89v3M513.5 96v2M513.5 100v2M514.5 88v1M514.5 96v14M515.5 111v8M515.5 128v3M515.5 134v9M516.5 151v4M517.5 168v1M518.5 160v8M518.5 170v8M519.5 115v12M519.5 140v2M520.5 95v5M520.5 105v7M520.5 128v3M521.5 96v2M521.5 104v1M522.5 99v12M523.5 87v8M523.5 99v2M524.5 113v1M524.5 117v10M524.5 130v12M524.5 146v1M525.5 120v14M525.5 143v12M525.5 166v1M526.5 110v1M526.5 116v3M527.5 112v6M527.5 125v1M527.5 137v1M528.5 129v11M528.5 142v5M529.5 151v1M529.5 175v2M529.5 178v1M530.5 168v3M530.5 191v3M531.5 158v3M531.5 178v1M532.5 123v9M533.5 97v1M533.5 106v8M534.5 90v2M535.5 102v2M536.5 78v5M536.5 98v1M537.5 77v14M537.5 100v16M537.5 117v9M538.5 104v1M539.5 103v1M540.5 95v8M540.5 115v3M540.5 125v4M541.5 124v9M541.5 135v6M541.5 149v9M542.5 161v2M543.5 158v7M543.5 181v7M544.5 144v11M544.5 169v3M544.5 184v1M545.5 130v5M545.5 151v3M545.5 157v4M546.5 134v2M546.5 139v5M547.5 120v1M547.5 122v1M547.5 129v4M548.5 86v5M549.5 106v1M550.5 94v1M550.5 100v3M550.5 107v3M551.5 111v4M552.5 99v1M552.5 116v3M552.5 120v2M553.5 105v1M554.5 81v10M554.5 104v5M554.5 117v2M555.5 110v8M556.5 136v27M557.5 172v1M557.5 192v2M558.5 167v2M558.5 172v8M559.5 129v14M559.5 149v4M560.5 105v13M560.5 119v5M560.5 135v4M561.5 92v6M561.5 108v7M562.5 95v4M563.5 100v1M563.5 120v10M564.5 93v6M565.5 88v1M565.5 110v1M566.5 90v18M566.5 121v4M567.5 98v5M567.5 115v3M568.5 92v1M568.5 106v5M568.5 114v1M568.5 118v3M569.5 122v14M569.5 137v3M569.5 146v6M569.5 156v9M570.5 152v1M571.5 138v6M571.5 156v1M571.5 158v1M572.5 119v1M572.5 142v4M573.5 99v3M575.5 55v29M575.5 102v1M576.5 38v1M576.5 55v1M576.5 57v4M577.5 61v5M577.5 69v4M577.5 85v5M578.5 93v1M579.5 85v9M580.5 82v1M580.5 107v2M581.5 92v10M581.5 103v2M581.5 107v2M581.5 112v10M581.5 134v2M582.5 139v5M582.5 154v3M582.5 159v6M582.5 169v5M583.5 175v1M584.5 160v4M584.5 171v10M584.5 184v4M585.5 146v13M585.5 161v1M585.5 163v3M586.5 104v4M586.5 114v1M586.5 120v6M586.5 128v1M587.5 80v3M588.5 98v9M589.5 103v2M589.5 124v2M590.5 112v1M591.5 98v1M592.5 91v8M592.5 103v1M592.5 105v1M593.5 91v1M593.5 96v3M594.5 85v4M594.5 98v8M594.5 107v8M594.5 118v1M594.5 121v5M595.5 110v3M595.5 126v8M596.5 138v6M596.5 145v3M596.5 153v3M596.5 157v1M596.5 161v1M596.5 163v1M596.5 166v3M597.5 165v12M597.5 181v1M597.5 199v1M597.5 201v1M598.5 171v1M598.5 200v1M599.5 145v10M599.5 179v1M600.5 123v3M600.5 143v1M600.5 147v2M601.5 92v6M601.5 99v3M601.5 117v11M602.5 91v13M602.5 109v11M602.5 124v1M602.5 126v1M602.5 137v1M603.5 143v1M603.5 151v8M604.5 86v5M604.5 104v1M604.5 114v1M604.5 120v1M605.5 98v12M605.5 122v5M605.5 128v1M606.5 116v1M607.5 96v2M607.5 111v2M607.5 119v4M607.5 127v1M607.5 129v4M608.5 134v7M608.5 144v3M608.5 149v3M608.5 157v4M608.5 163v2M609.5 163v17M609.5 194v5M610.5 159v10M610.5 171v2M610.5 176v1M611.5 141v3M611.5 161v2M612.5 113v9M612.5 143v1M613.5 100v2M613.5 112v5M614.5 74v1M615.5 73v4M616.5 77v1M616.5 91v5M617.5 76v1M617.5 89v1M618.5 75v5M618.5 94v7M619.5 83v12M619.5 105v1M619.5 109v6M620.5 84v12M620.5 98v3M620.5 107v2M621.5 102v7M621.5 112v4M621.5 129v1M621.5 133v5M622.5 134v11M622.5 147v2M622.5 160v2M623.5 162v6M623.5 180v1M625.5 141v1M625.5 158v4M626.5 128v5M626.5 154v1M627.5 102v1M627.5 122v4M627.5 131v4M628.5 88v9M628.5 101v2M628.5 104v1M628.5 110v2M629.5 66v7M630.5 79v1M631.5 71v6M631.5 90v5M632.5 69v1M632.5 93v1M633.5 72v1M633.5 83v5M633.5 100v4M634.5 112v4M634.5 119v12M635.5 114v35M635.5 154v14M635.5 169v5M635.5 178v2M636.5 176v16M636.5 206v2M637.5 180v1M637.5 192v4M637.5 198v5M638.5 176v1M638.5 180v5M639.5 118v12M639.5 138v5M640.5 98v10M640.5 111v2M640.5 130v1M641.5 92v1M641.5 110v5M642.5 96v5M642.5 125v2M643.5 96v11M643.5 123v2M644.5 104v5M646.5 100v1M646.5 111v2M647.5 85v6M647.5 103v1M648.5 98v1M648.5 125v2M648.5 133v3M649.5 137v9M649.5 148v2M650.5 159v13M652.5 146v2M653.5 117v7M653.5 126v1M653.5 137v6M653.5 148v3M654.5 100v1M654.5 106v6M654.5 114v4M655.5 80v2M656.5 83v24M656.5 118v6M657.5 122v1M658.5 131v3M659.5 119v1M660.5 102v4M660.5 109v2M660.5 129v2M661.5 109v7M661.5 117v1M661.5 120v5M662.5 118v16M662.5 144v1M662.5 154v4M663.5 154v5M663.5 166v5M663.5 177v8M663.5 186v8M664.5 186v12M665.5 153v5M665.5 167v1M665.5 174v2M666.5 92v13M666.5 119v5M666.5 126v1M667.5 76v2M667.5 99v3M667.5 104v1M668.5 93v6M668.5 115v2M668.5 118v3" stroke="#b88dc1" stroke-width="1" fill="none"/>
<path d="M44.5 115v3M45.5 109v2M45.5 114v1M45.5 118v12M45.5 131v2M46.5 101v1M47.5 77v4M48.5 107v1M48.5 115v4M48.5 121v1M48.5 123v2M49.5 99v1M49.5 102v1M50.5 118v2M50.5 134v2M51.5 154v9M51.5 173v3M52.5 150v4M52.5 175v6M53.5 102v6M53.5 112v4M54.5 78v8M54.5 91v1M54.5 94v4M55.5 93v5M55.5 109v8M57.5 85v3M57.5 98v1M57.5 101v2M58.5 86v1M58.5 99v2M59.5 85v2M60.5 83v3M60.5 96v2M61.5 91v2M61.5 101v1M61.5 112v4M62.5 131v9M63.5 162v7M63.5 170v1M63.5 172v1M63.5 175v4M64.5 181v1M64.5 196v1M65.5 158v1M65.5 170v2M67.5 100v7M67.5 116v2M68.5 89v2M69.5 57v1M70.5 59v8M70.5 68v1M70.5 76v1M71.5 61v1M72.5 53v10M72.5 69v3M73.5 83v2M73.5 93v12M74.5 83v2M75.5 83v1M75.5 85v2M75.5 103v5M76.5 123v8M76.5 132v1M76.5 135v16M77.5 158v12M77.5 175v6M77.5 182v1M78.5 157v1M78.5 170v1M78.5 174v2M79.5 142v3M79.5 159v5M80.5 110v1M81.5 90v1M81.5 96v2M82.5 76v5M83.5 68v5M83.5 76v1M83.5 78v3M84.5 61v10M85.5 71v4M85.5 85v4M87.5 67v2M87.5 82v2M87.5 89v1M88.5 91v6M88.5 98v2M88.5 110v10M89.5 116v7M89.5 128v2M89.5 134v4M90.5 143v12M90.5 165v7M92.5 157v2M92.5 173v1M93.5 142v4M93.5 149v3M94.5 123v2M94.5 153v8M95.5 104v4M96.5 82v5M96.5 95v1M96.5 100v5M97.5 97v3M97.5 109v3M98.5 105v2M99.5 92v1M99.5 107v2M100.5 89v4M101.5 100v6M101.5 111v6M101.5 120v3M102.5 115v5M102.5 129v4M103.5 141v1M104.5 153v5M104.5 160v5M105.5 166v2M105.5 171v7M106.5 138v3M106.5 153v1M107.5 132v3M108.5 118v2M109.5 92v6M109.5 104v1M109.5 107v2M110.5 80v2M112.5 79v2M112.5 86v2M112.5 93v5M113.5 68v1M114.5 67v1M114.5 82v4M115.5 109v2M115.5 120v6M116.5 138v4M117.5 173v6M117.5 184v3M117.5 192v2M118.5 187v3M118.5 192v1M119.5 154v3M119.5 160v4M120.5 137v1M121.5 113v8M121.5 123v6M122.5 102v1M123.5 88v3M123.5 106v2M124.5 94v4M124.5 108v1M125.5 95v5M125.5 117v1M126.5 97v2M127.5 96v5M128.5 83v8M128.5 101v6M129.5 113v9M130.5 151v5M130.5 160v1M131.5 187v2M132.5 156v2M132.5 168v1M133.5 114v5M133.5 127v3M134.5 84v3M134.5 94v4M135.5 86v6M136.5 72v5M136.5 82v5M136.5 89v1M137.5 31v13M137.5 53v2M137.5 56v3M138.5 56v3M138.5 62v5M138.5 78v4M139.5 59v3M139.5 68v8M139.5 80v3M140.5 85v5M140.5 93v11M141.5 78v7M141.5 92v1M141.5 96v2M142.5 115v3M142.5 124v2M142.5 127v2M142.5 138v2M143.5 149v7M143.5 161v2M143.5 165v3M143.5 169v6M144.5 145v13M144.5 161v3M145.5 136v4M147.5 93v4M147.5 107v1M147.5 109v2M149.5 103v2M149.5 108v1M149.5 114v1M149.5 117v3M150.5 119v5M150.5 135v1M151.5 99v9M151.5 120v4M151.5 136v17M152.5 108v3M152.5 125v3M153.5 102v6M153.5 116v1M153.5 121v3M155.5 133v2M155.5 144v1M155.5 151v3M156.5 156v4M156.5 172v1M156.5 176v3M157.5 174v7M157.5 189v6M157.5 196v6M157.5 204v4M158.5 153v9M159.5 146v5M159.5 158v4M161.5 120v1M162.5 125v21M163.5 95v1M163.5 111v2M164.5 121v7M165.5 109v3M165.5 121v1M166.5 90v5M167.5 96v6M167.5 106v7M167.5 117v10M168.5 89v4M168.5 111v3M169.5 150v2M170.5 169v2M170.5 172v10M170.5 186v9M171.5 161v6M171.5 175v1M172.5 140v11M172.5 154v5M173.5 123v3M174.5 101v3M174.5 108v9M176.5 101v1M176.5 119v1M179.5 96v3M179.5 110v5M181.5 75v17M181.5 101v2M182.5 159v11M183.5 155v1M183.5 179v3M184.5 179v3M185.5 136v17M185.5 155v1M186.5 116v7M187.5 93v8M187.5 107v9M188.5 100v3M188.5 107v1M188.5 112v1M188.5 119v1M189.5 110v1M190.5 100v2M190.5 104v5M191.5 82v1M191.5 88v17M192.5 67v4M193.5 79v1M193.5 88v1M194.5 88v5M194.5 105v2M195.5 119v4M195.5 127v4M195.5 136v1M196.5 134v10M196.5 146v5M196.5 159v1M197.5 158v3M197.5 172v11M198.5 147v7M198.5 159v18M199.5 141v14M200.5 102v6M200.5 115v3M201.5 82v1M201.5 94v2M202.5 91v4M202.5 97v6M203.5 85v3M203.5 95v1M204.5 76v1M204.5 87v1M206.5 94v1M207.5 76v2M207.5 86v2M208.5 87v8M208.5 104v3M208.5 112v6M209.5 117v3M209.5 124v4M209.5 130v4M210.5 146v6M210.5 158v7M211.5 172v1M211.5 186v1M212.5 181v8M212.5 198v1M213.5 128v8M213.5 143v2M213.5 157v4M214.5 101v5M214.5 119v5M215.5 97v2M215.5 108v5M216.5 113v3M216.5 118v4M217.5 124v1M218.5 129v4M218.5 145v5M219.5 116v5M219.5 123v4M219.5 135v1M220.5 90v5M221.5 100v11M221.5 114v4M222.5 147v2M223.5 166v9M223.5 176v2M223.5 182v5M224.5 173v1M225.5 143v4M225.5 152v2M226.5 118v6M226.5 125v6M226.5 134v5M227.5 85v11M227.5 100v2M227.5 113v3M228.5 64v13M228.5 84v8M229.5 63v4M229.5 77v4M230.5 71v4M230.5 91v4M231.5 88v6M232.5 81v1M232.5 89v2M233.5 84v1M234.5 115v1M234.5 120v5M235.5 126v2M235.5 145v1M236.5 166v6M237.5 175v1M237.5 181v1M238.5 142v9M238.5 159v1M238.5 161v5M239.5 128v7M239.5 140v2M240.5 104v11M240.5 120v8M241.5 85v6M241.5 92v1M241.5 96v5M242.5 77v4M242.5 87v2M243.5 86v1M243.5 91v1M243.5 98v8M245.5 93v5M246.5 98v1M246.5 101v5M246.5 109v1M248.5 106v2M248.5 109v7M249.5 129v7M249.5 139v2M249.5 156v1M250.5 168v3M251.5 189v1M251.5 198v2M253.5 147v2M254.5 109v6M254.5 125v3M254.5 129v2M255.5 81v10M255.5 105v2M256.5 94v1M257.5 99v3M258.5 86v1M258.5 96v3M258.5 101v8M260.5 63v6M260.5 73v1M260.5 81v2M261.5 93v6M261.5 108v2M261.5 113v1M262.5 135v1M262.5 146v2M263.5 156v9M263.5 174v14M264.5 163v1M264.5 172v1M265.5 143v6M265.5 154v6M266.5 133v3M267.5 110v1M267.5 115v9M268.5 87v2M268.5 91v10M269.5 67v2M270.5 63v4M270.5 76v1M272.5 77v1M273.5 78v9M273.5 89v5M274.5 77v3M275.5 107v5M276.5 144v1M276.5 151v1M276.5 153v1M277.5 152v4M277.5 173v5M279.5 130v1M280.5 111v6M280.5 127v5M281.5 114v5M282.5 84v2M282.5 96v5M283.5 102v1M283.5 104v5M284.5 81v14M284.5 102v4M285.5 84v1M286.5 115v1M286.5 117v1M287.5 93v1M287.5 104v1M287.5 113v3M288.5 119v1M288.5 121v1M288.5 131v3M289.5 139v7M289.5 148v15M290.5 170v7M290.5 180v21M291.5 189v8M291.5 200v6M293.5 124v11M293.5 152v2M294.5 105v6M294.5 116v1M295.5 92v2M295.5 95v3M296.5 64v2M296.5 77v1M297.5 73v1M297.5 82v3M298.5 66v2M298.5 76v1M298.5 79v1M299.5 67v7M299.5 79v4M300.5 84v1M300.5 96v2M301.5 79v12M302.5 135v3M302.5 142v2M302.5 158v2M303.5 169v2M303.5 175v1M304.5 175v3M304.5 186v1M304.5 190v3M305.5 153v5M305.5 165v6M307.5 113v2M308.5 73v9M308.5 86v8M308.5 95v4M309.5 90v7M309.5 100v3M310.5 115v4M310.5 122v1M310.5 124v9M311.5 104v5M311.5 114v5M311.5 121v1M312.5 95v1M312.5 109v1M313.5 102v4M313.5 119v6M314.5 111v2M315.5 116v7M316.5 145v7M316.5 153v11M317.5 143v27M317.5 184v5M318.5 171v8M319.5 158v1M319.5 169v10M320.5 120v2M320.5 151v2M321.5 115v7M321.5 129v7M322.5 108v1M322.5 110v4M323.5 107v7M323.5 118v4M323.5 124v2M323.5 133v1M324.5 136v1M324.5 141v11M325.5 102v1M325.5 104v12M326.5 67v4M326.5 82v4M327.5 76v1M327.5 96v1M328.5 89v6M328.5 108v5M329.5 133v11M329.5 148v4M330.5 167v1M331.5 125v5M331.5 135v2M332.5 98v4M332.5 103v12M333.5 83v1M333.5 89v1M333.5 92v1M334.5 52v3M334.5 76v1M335.5 57v7M336.5 73v12M337.5 51v2M337.5 59v4M338.5 51v12M338.5 71v1M338.5 77v1M339.5 70v3M339.5 85v1M339.5 92v1M340.5 89v3M340.5 95v10M340.5 107v4M341.5 69v25M341.5 95v1M341.5 98v4M342.5 126v5M342.5 133v2M343.5 161v7M343.5 179v5M344.5 169v6M344.5 186v1M344.5 189v1M344.5 194v2M345.5 153v4M346.5 140v6M346.5 151v3M347.5 112v2M348.5 102v3M349.5 100v1M349.5 106v1M349.5 111v6M350.5 106v1M351.5 107v15M351.5 129v3M352.5 133v2M352.5 140v1M353.5 115v3M353.5 124v3M354.5 100v9M355.5 137v9M355.5 151v6M355.5 159v1M356.5 169v1M356.5 171v2M356.5 175v12M357.5 161v6M357.5 172v6M358.5 137v8M358.5 148v3M359.5 120v4M359.5 128v5M360.5 87v1M360.5 99v1M360.5 104v1M361.5 76v2M361.5 89v1M362.5 89v3M362.5 99v7M363.5 99v1M363.5 104v2M363.5 111v17M364.5 94v6M364.5 115v9M365.5 126v9M365.5 142v10M366.5 116v2M366.5 119v1M367.5 101v3M367.5 115v2M368.5 129v1M368.5 131v1M368.5 140v1M368.5 143v1M368.5 150v1M369.5 146v10M369.5 160v5M369.5 171v2M370.5 190v6M370.5 197v3M371.5 153v22M371.5 179v2M372.5 141v4M372.5 152v1M372.5 154v2M372.5 157v4M374.5 99v9M374.5 117v1M375.5 89v3M376.5 111v10M376.5 126v6M377.5 135v3M377.5 146v5M377.5 158v3M378.5 118v6M379.5 108v2M379.5 115v4M379.5 123v1M379.5 131v1M380.5 121v1M380.5 128v3M381.5 89v1M381.5 101v9M381.5 116v1M381.5 118v4M382.5 124v3M382.5 138v8M383.5 166v2M383.5 169v4M383.5 180v1M384.5 187v5M384.5 204v4M385.5 176v2M385.5 188v5M386.5 163v3M387.5 128v2M387.5 139v2M388.5 95v2M389.5 76v4M390.5 90v11M390.5 106v4M390.5 117v2M391.5 105v20M391.5 129v10M392.5 91v1M394.5 78v6M394.5 91v3M395.5 103v1M395.5 106v12M395.5 119v4M395.5 125v2M396.5 139v4M396.5 144v1M396.5 148v11M397.5 161v11M397.5 178v4M397.5 185v3M397.5 189v6M398.5 154v6M398.5 163v2M398.5 170v4M399.5 127v6M399.5 148v2M399.5 153v7M400.5 116v4M400.5 124v4M401.5 92v5M402.5 74v6M402.5 90v1M402.5 96v4M403.5 99v1M403.5 112v4M404.5 111v1M404.5 123v2M404.5 127v1M404.5 129v8M405.5 106v2M405.5 109v2M405.5 116v16M406.5 102v3M407.5 116v1M407.5 121v9M408.5 145v2M408.5 156v5M408.5 170v3M409.5 170v5M409.5 181v3M410.5 173v2M410.5 183v4M410.5 194v3M411.5 163v6M412.5 141v3M412.5 153v1M412.5 157v4M413.5 132v1M413.5 145v1M414.5 112v1M415.5 92v8M415.5 108v43M417.5 84v10M418.5 95v1M418.5 108v1M419.5 74v9M419.5 94v1M419.5 97v1M420.5 93v1M420.5 103v8M420.5 115v1M420.5 118v6M421.5 83v3M421.5 101v6M421.5 109v11M422.5 107v4M422.5 125v1M422.5 130v1M422.5 132v1M423.5 137v8M423.5 149v4M424.5 154v2M424.5 175v9M425.5 144v1M425.5 157v7M426.5 147v2M427.5 127v7M428.5 110v1M429.5 87v4M429.5 102v4M430.5 93v3M430.5 103v1M431.5 55v8M431.5 79v3M432.5 66v1M432.5 74v5M433.5 93v1M435.5 117v3M435.5 127v11M436.5 151v13M438.5 177v5M438.5 194v6M439.5 147v3M439.5 165v1M439.5 169v16M440.5 122v2M440.5 143v1M441.5 96v10M441.5 123v3M442.5 111v2M442.5 120v1M442.5 125v1M443.5 111v2M443.5 120v9M443.5 131v2M443.5 135v2M444.5 102v4M445.5 106v9M445.5 117v1M447.5 91v6M447.5 101v1M448.5 93v4M448.5 103v1M448.5 105v1M448.5 108v5M449.5 116v9M449.5 129v1M449.5 139v1M450.5 151v1M450.5 172v1M451.5 151v7M451.5 174v1M452.5 131v2M452.5 140v6M453.5 104v1M454.5 92v2M455.5 109v1M456.5 103v1M456.5 111v3M456.5 124v2M457.5 80v4M457.5 105v4M458.5 117v2M458.5 123v3M459.5 102v11M459.5 118v1M459.5 131v3M460.5 79v12M461.5 106v10M461.5 121v5M462.5 130v6M462.5 141v3M462.5 151v3M463.5 159v15M463.5 179v4M463.5 189v1M464.5 204v2M465.5 194v2M465.5 204v5M466.5 152v1M466.5 161v1M467.5 108v9M467.5 118v1M467.5 129v7M468.5 91v9M468.5 105v11M469.5 111v7M469.5 121v5M470.5 116v3M470.5 121v3M471.5 108v10M471.5 130v7M472.5 117v5M473.5 105v11M473.5 118v1M473.5 123v3M474.5 89v14M475.5 113v9M475.5 123v8M476.5 143v13M476.5 159v8M477.5 159v1M477.5 180v1M478.5 150v3M478.5 155v2M478.5 158v20M479.5 123v8M479.5 134v5M480.5 110v2M481.5 72v6M481.5 82v4M482.5 87v4M482.5 96v5M482.5 103v2M483.5 117v2M483.5 138v2M484.5 111v1M484.5 125v1M485.5 139v5M486.5 95v1M486.5 106v9M487.5 86v8M488.5 111v8M488.5 121v2M488.5 126v1M488.5 132v2M489.5 135v1M489.5 137v2M489.5 141v4M489.5 149v2M490.5 155v2M490.5 168v2M491.5 155v4M491.5 170v5M492.5 131v4M492.5 149v1M493.5 114v2M493.5 139v1M494.5 88v5M494.5 112v3M496.5 86v1M496.5 98v1M497.5 75v5M498.5 80v2M499.5 73v10M499.5 89v2M500.5 76v2M500.5 80v4M500.5 87v4M501.5 109v8M501.5 137v2M502.5 139v14M502.5 159v15M503.5 179v4M503.5 187v4M503.5 192v8M504.5 182v10M505.5 160v7M505.5 168v3M505.5 173v11M506.5 132v5M506.5 143v15M507.5 121v10M508.5 94v7M509.5 102v3M510.5 116v1M511.5 118v4M512.5 92v1M513.5 91v3M514.5 110v3M515.5 119v4M515.5 131v3M516.5 155v7M516.5 165v7M517.5 183v5M518.5 159v1M518.5 168v1M519.5 127v3M519.5 132v4M519.5 142v3M520.5 100v5M520.5 112v16M521.5 84v4M522.5 85v1M523.5 101v4M524.5 114v3M524.5 129v1M524.5 142v4M525.5 134v2M525.5 155v11M526.5 95v8M526.5 109v1M527.5 118v7M527.5 126v3M527.5 131v6M528.5 140v2M528.5 147v4M529.5 152v15M529.5 169v6M529.5 177v1M530.5 171v5M530.5 185v6M530.5 194v2M531.5 161v2M531.5 172v3M532.5 132v4M532.5 141v3M533.5 98v8M533.5 114v1M534.5 89v1M535.5 81v2M535.5 97v5M536.5 96v2M537.5 91v4M537.5 99v1M537.5 116v1M538.5 105v4M538.5 120v1M539.5 84v7M539.5 100v3M540.5 103v8M540.5 113v2M540.5 118v4M541.5 133v2M542.5 160v1M543.5 165v1M543.5 173v2M543.5 180v1M544.5 155v3M544.5 162v3M544.5 168v1M544.5 172v12M545.5 135v2M545.5 154v3M546.5 119v10M546.5 136v3M547.5 98v6M547.5 115v5M548.5 91v7M548.5 100v12M549.5 81v1M549.5 99v7M550.5 95v1M550.5 103v3M551.5 110v1M552.5 100v3M552.5 113v3M552.5 119v1M554.5 103v1M555.5 120v1M555.5 124v21M556.5 163v1M557.5 173v11M558.5 166v1M558.5 169v3M560.5 132v3M561.5 98v4M561.5 107v1M561.5 115v4M562.5 99v1M562.5 115v2M563.5 101v6M563.5 119v1M564.5 107v4M566.5 111v10M567.5 103v2M567.5 109v6M568.5 93v5M568.5 111v3M569.5 136v1M569.5 140v1M569.5 152v4M570.5 153v4M570.5 168v4M571.5 144v5M571.5 151v5M571.5 157v1M571.5 159v3M572.5 132v6M574.5 81v2M574.5 100v7M575.5 84v4M576.5 39v4M577.5 66v3M577.5 73v1M577.5 81v1M580.5 83v7M580.5 109v4M581.5 105v2M581.5 111v1M582.5 144v8M582.5 157v2M583.5 176v5M583.5 186v7M583.5 195v2M583.5 200v2M584.5 164v2M584.5 170v1M584.5 181v3M585.5 133v7M585.5 145v1M586.5 108v6M586.5 126v2M587.5 83v7M588.5 88v10M588.5 107v6M589.5 105v4M589.5 121v3M590.5 95v1M590.5 108v4M591.5 110v3M592.5 99v4M592.5 106v23M593.5 76v3M594.5 89v6M594.5 106v1M594.5 115v3M594.5 119v2M595.5 113v3M595.5 122v4M596.5 144v1M596.5 148v5M596.5 158v3M596.5 162v1M597.5 177v4M597.5 182v9M598.5 172v4M599.5 155v5M599.5 166v5M600.5 126v2M600.5 141v2M601.5 98v1M601.5 102v5M601.5 110v2M602.5 104v5M602.5 120v4M602.5 125v1M603.5 124v6M603.5 139v1M603.5 144v7M604.5 91v13M604.5 105v7M605.5 110v2M605.5 115v1M605.5 119v3M605.5 127v1M606.5 96v6M606.5 112v4M607.5 98v13M607.5 113v6M607.5 123v4M608.5 141v3M608.5 147v2M608.5 152v5M608.5 161v2M609.5 180v8M609.5 191v2M610.5 169v2M610.5 173v3M610.5 177v6M610.5 185v5M611.5 144v9M611.5 159v2M612.5 122v6M612.5 131v1M612.5 136v7M613.5 102v3M614.5 75v7M614.5 99v1M615.5 77v1M615.5 91v4M616.5 89v2M617.5 77v1M617.5 81v1M617.5 88v1M618.5 88v2M619.5 95v8M619.5 104v1M619.5 106v3M620.5 96v2M620.5 104v3M621.5 109v3M621.5 116v2M621.5 119v10M622.5 145v2M622.5 149v5M623.5 168v3M624.5 165v8M624.5 177v10M625.5 162v11M626.5 142v10M627.5 121v1M628.5 97v4M628.5 105v5M629.5 73v2M629.5 80v13M631.5 84v1M633.5 73v5M633.5 88v2M634.5 116v3M635.5 153v1M636.5 192v3M636.5 199v7M636.5 208v1M638.5 158v4M638.5 169v1M639.5 130v8M639.5 145v6M640.5 108v3M641.5 107v1M642.5 101v14M643.5 107v9M643.5 117v6M643.5 125v3M644.5 98v3M645.5 87v11M645.5 105v10M646.5 101v2M647.5 91v1M647.5 101v2M648.5 99v2M648.5 104v7M649.5 123v4M649.5 130v7M649.5 146v2M650.5 143v8M651.5 179v5M652.5 148v2M652.5 157v7M653.5 124v2M653.5 127v1M653.5 130v2M654.5 101v5M654.5 113v1M654.5 118v4M655.5 82v1M656.5 107v3M656.5 115v3M657.5 123v4M657.5 136v5M658.5 111v4M659.5 136v4M660.5 106v3M660.5 111v2M660.5 120v9M661.5 87v22M661.5 116v1M662.5 134v1M662.5 142v2M662.5 145v2M663.5 159v7M663.5 176v1M663.5 185v1M664.5 165v12M664.5 182v4M665.5 139v4M665.5 158v9M666.5 105v6M666.5 113v6M666.5 124v2M667.5 78v9M668.5 99v2M668.5 110v5M668.5 117v1M668.5 121v3" stroke="#a56db0" stroke-width="1" fill="none"/>
<path d="M44.5 99v1M45.5 130v1M45.5 134v1M46.5 102v1M47.5 69v1M47.5 81v1M49.5 91v1M49.5 98v1M49.5 100v1M50.5 120v1M51.5 163v1M52.5 165v1M54.5 86v1M54.5 90v1M55.5 98v1M55.5 108v1M56.5 95v1M57.5 88v1M58.5 87v1M58.5 96v1M58.5 98v1M59.5 87v1M64.5 182v1M65.5 159v1M65.5 164v1M67.5 107v1M67.5 110v1M68.5 88v1M69.5 71v1M70.5 67v1M70.5 72v1M71.5 74v2M72.5 68v1M73.5 92v1M74.5 80v1M74.5 82v1M74.5 90v1M78.5 169v1M78.5 171v1M81.5 85v1M83.5 73v1M83.5 75v1M84.5 71v1M84.5 82v1M85.5 75v1M85.5 84v1M86.5 76v1M86.5 83v1M87.5 69v1M87.5 78v1M87.5 81v1M87.5 84v1M89.5 130v1M91.5 184v1M93.5 141v1M93.5 148v1M95.5 108v1M95.5 115v2M96.5 87v1M96.5 94v1M98.5 107v1M101.5 106v1M101.5 110v1M102.5 120v1M102.5 125v1M104.5 158v1M105.5 165v1M105.5 168v1M107.5 113v1M107.5 131v1M108.5 106v1M109.5 98v2M109.5 101v1M110.5 102v1M113.5 81v1M114.5 68v1M114.5 77v1M117.5 179v1M117.5 183v1M118.5 178v1M118.5 190v2M119.5 164v1M120.5 143v2M121.5 121v1M122.5 103v1M123.5 91v1M124.5 98v1M125.5 100v1M125.5 108v1M126.5 99v1M127.5 95v1M129.5 122v1M129.5 128v1M130.5 159v1M131.5 186v1M132.5 163v1M135.5 83v1M135.5 92v1M136.5 87v2M137.5 44v1M137.5 46v1M138.5 67v1M139.5 67v1M139.5 76v1M140.5 92v1M144.5 158v1M146.5 116v1M146.5 130v1M149.5 105v1M149.5 107v1M149.5 109v1M149.5 113v1M150.5 134v1M152.5 124v1M154.5 108v1M155.5 136v2M156.5 160v1M156.5 171v1M157.5 195v1M157.5 203v1M158.5 173v1M159.5 155v1M162.5 116v1M163.5 108v1M164.5 114v1M164.5 120v1M166.5 95v1M167.5 102v1M167.5 113v1M168.5 93v1M173.5 113v1M174.5 104v1M174.5 106v1M176.5 102v1M177.5 86v1M177.5 100v1M179.5 109v1M180.5 96v1M183.5 165v1M183.5 178v1M184.5 178v1M185.5 153v1M186.5 123v1M188.5 108v1M189.5 88v1M190.5 84v1M190.5 102v2M191.5 87v1M192.5 81v1M194.5 93v1M195.5 123v1M197.5 171v1M199.5 140v1M201.5 83v1M202.5 80v2M202.5 87v1M202.5 90v1M203.5 88v1M203.5 101v1M204.5 77v1M204.5 85v1M205.5 70v1M205.5 76v1M206.5 88v1M207.5 78v1M212.5 180v1M212.5 189v1M215.5 107v1M216.5 116v1M217.5 131v1M219.5 127v1M222.5 136v1M222.5 146v1M223.5 175v1M224.5 174v1M224.5 188v1M225.5 147v1M225.5 154v1M226.5 131v1M229.5 67v1M229.5 76v1M231.5 71v1M232.5 82v1M232.5 88v1M233.5 72v1M233.5 83v1M234.5 116v1M234.5 119v1M235.5 143v1M239.5 135v1M239.5 139v1M242.5 86v1M243.5 92v1M243.5 97v1M245.5 112v1M246.5 100v1M248.5 105v1M248.5 108v1M248.5 116v1M249.5 141v1M249.5 149v1M250.5 177v1M252.5 176v1M255.5 91v1M256.5 81v1M256.5 93v1M258.5 99v1M260.5 69v1M260.5 74v1M260.5 76v1M260.5 80v1M261.5 112v1M262.5 145v1M264.5 164v1M266.5 131v1M268.5 101v1M269.5 79v1M270.5 67v1M272.5 78v1M272.5 89v1M273.5 69v1M273.5 87v1M274.5 80v1M274.5 88v1M275.5 112v1M276.5 150v1M277.5 156v1M278.5 157v1M279.5 131v1M280.5 117v1M281.5 105v1M282.5 86v1M282.5 90v2M283.5 103v1M285.5 85v1M286.5 116v1M287.5 94v1M288.5 120v1M288.5 128v1M290.5 179v1M292.5 177v1M293.5 135v1M294.5 111v1M295.5 98v1M296.5 66v1M296.5 75v1M297.5 81v1M298.5 68v1M300.5 85v1M300.5 94v1M301.5 91v1M302.5 140v1M307.5 99v1M307.5 112v1M308.5 82v1M308.5 85v1M308.5 94v1M310.5 119v1M311.5 109v1M312.5 108v1M313.5 106v1M313.5 114v1M314.5 87v1M315.5 128v2M315.5 131v1M317.5 170v1M318.5 179v1M319.5 167v1M320.5 122v1M321.5 137v1M323.5 122v1M324.5 133v1M324.5 135v1M326.5 57v1M327.5 77v1M327.5 95v1M329.5 146v1M330.5 152v1M330.5 166v1M332.5 102v1M333.5 84v1M334.5 70v2M335.5 64v1M335.5 71v1M336.5 66v1M336.5 72v1M337.5 58v1M337.5 63v1M338.5 63v1M339.5 73v1M340.5 94v1M344.5 187v1M345.5 164v1M346.5 127v1M346.5 139v1M347.5 105v1M348.5 83v1M348.5 99v1M349.5 101v1M350.5 107v1M350.5 126v1M351.5 128v1M351.5 132v1M352.5 135v1M353.5 118v1M354.5 109v1M354.5 111v1M356.5 174v1M358.5 151v2M363.5 100v1M364.5 100v1M366.5 120v1M368.5 141v1M370.5 174v1M370.5 184v1M372.5 153v1M374.5 108v1M375.5 92v1M376.5 121v1M376.5 125v1M377.5 138v1M380.5 104v1M380.5 120v1M381.5 90v1M381.5 110v1M383.5 168v1M384.5 202v2M386.5 149v1M387.5 127v1M387.5 138v1M388.5 97v1M389.5 67v1M389.5 80v1M389.5 82v1M390.5 105v1M391.5 102v1M391.5 104v1M392.5 104v1M393.5 107v1M394.5 90v1M394.5 101v1M397.5 184v1M398.5 160v1M398.5 162v1M400.5 123v1M401.5 118v1M402.5 95v1M403.5 100v1M404.5 122v1M405.5 111v1M406.5 97v1M406.5 101v1M406.5 112v1M409.5 175v1M409.5 178v1M410.5 175v1M410.5 182v1M411.5 169v1M412.5 152v1M414.5 126v1M415.5 100v1M415.5 107v1M417.5 94v1M418.5 107v1M419.5 83v1M419.5 95v2M420.5 116v1M421.5 86v1M421.5 90v1M421.5 93v1M421.5 107v1M423.5 145v1M423.5 148v1M424.5 156v1M426.5 135v1M426.5 146v1M427.5 119v1M427.5 126v1M429.5 101v1M430.5 96v1M430.5 102v1M432.5 73v1M433.5 94v1M433.5 96v1M434.5 106v1M436.5 144v1M436.5 146v1M436.5 150v1M437.5 178v1M437.5 181v1M437.5 190v1M438.5 189v1M440.5 124v1M442.5 113v1M442.5 121v1M442.5 124v1M443.5 129v2M443.5 133v2M444.5 117v1M446.5 106v1M447.5 100v1M447.5 104v1M448.5 104v1M449.5 128v1M450.5 152v1M452.5 135v1M453.5 105v1M454.5 94v1M455.5 110v1M455.5 124v1M456.5 110v1M456.5 114v1M456.5 123v1M457.5 84v1M457.5 101v1M460.5 100v1M462.5 150v1M463.5 175v1M468.5 104v1M469.5 119v1M470.5 120v1M471.5 118v2M472.5 122v1M473.5 117v1M473.5 122v1M477.5 181v1M479.5 131v1M481.5 78v1M481.5 81v1M483.5 119v1M483.5 137v1M484.5 124v1M485.5 127v1M486.5 96v1M486.5 105v1M487.5 94v1M487.5 104v1M489.5 139v2M490.5 157v1M490.5 161v1M491.5 165v1M491.5 169v1M492.5 135v1M493.5 116v1M494.5 105v1M496.5 87v1M497.5 80v1M497.5 91v1M498.5 94v1M499.5 83v1M499.5 88v1M506.5 142v1M507.5 120v1M508.5 101v1M508.5 114v1M509.5 105v1M509.5 116v1M510.5 117v1M511.5 102v1M512.5 102v1M513.5 81v1M513.5 94v2M516.5 162v1M516.5 164v1M517.5 182v1M519.5 130v2M519.5 139v1M521.5 88v1M522.5 86v1M522.5 98v1M523.5 98v1M524.5 127v1M525.5 142v1M527.5 129v1M529.5 167v2M530.5 184v1M531.5 171v1M534.5 77v1M535.5 96v1M536.5 95v1M537.5 98v1M539.5 91v1M541.5 141v1M541.5 143v2M542.5 150v1M544.5 161v1M544.5 165v1M546.5 133v1M547.5 104v1M548.5 99v1M549.5 98v1M551.5 109v1M553.5 82v1M555.5 119v1M555.5 121v1M555.5 123v1M556.5 169v1M557.5 184v1M558.5 149v1M559.5 143v1M560.5 128v2M560.5 131v1M564.5 99v1M566.5 108v1M567.5 105v1M567.5 108v1M568.5 98v1M568.5 105v1M570.5 167v1M571.5 149v2M573.5 116v1M574.5 83v1M574.5 99v1M576.5 43v1M576.5 47v1M577.5 74v1M578.5 85v1M579.5 67v1M579.5 74v1M579.5 84v1M580.5 90v1M581.5 109v2M582.5 152v2M583.5 181v1M583.5 194v1M583.5 197v1M583.5 199v1M584.5 166v1M586.5 115v3M586.5 119v1M587.5 90v1M589.5 109v1M593.5 87v1M594.5 97v1M595.5 116v1M598.5 176v1M599.5 160v1M601.5 107v1M601.5 109v1M601.5 112v1M601.5 116v1M603.5 130v1M603.5 142v1M604.5 112v2M605.5 112v1M605.5 116v1M605.5 118v1M606.5 111v1M609.5 190v1M609.5 193v1M612.5 130v1M612.5 135v1M613.5 105v1M613.5 108v2M615.5 90v1M616.5 78v1M617.5 78v1M618.5 80v1M618.5 90v1M619.5 103v1M620.5 101v1M622.5 154v1M625.5 157v1M626.5 133v1M627.5 103v1M627.5 120v1M629.5 79v1M632.5 77v1M634.5 99v1M636.5 195v1M639.5 143v1M640.5 113v1M640.5 126v1M641.5 106v1M643.5 116v1M644.5 101v1M645.5 98v1M645.5 104v1M646.5 110v1M648.5 101v1M648.5 103v1M648.5 111v1M648.5 120v1M650.5 158v1M651.5 163v1M651.5 178v1M652.5 153v1M656.5 114v1M657.5 135v1M658.5 115v1M659.5 120v1M660.5 119v1M664.5 177v1M665.5 143v1M665.5 145v1M666.5 112v1M667.5 87v1M667.5 94v1" stroke="#914e9f" stroke-width="1" fill="none"/>
<path d="M44.5 100v15M45.5 133v1M46.5 103v2M47.5 70v7M47.5 82v7M48.5 99v8M49.5 92v6M50.5 121v5M54.5 87v3M55.5 99v9M56.5 83v12M57.5 89v9M58.5 88v8M58.5 97v1M59.5 88v18M60.5 86v10M61.5 100v1M62.5 140v4M63.5 171v1M64.5 183v13M65.5 160v4M66.5 129v10M67.5 108v2M68.5 78v10M69.5 58v13M70.5 69v3M71.5 62v12M72.5 63v5M73.5 85v7M74.5 74v6M74.5 81v1M74.5 85v5M77.5 170v5M77.5 181v1M78.5 158v11M78.5 172v2M79.5 145v8M80.5 111v11M81.5 86v4M82.5 67v9M83.5 74v1M84.5 72v10M85.5 76v8M86.5 77v6M87.5 70v8M87.5 79v2M87.5 85v4M89.5 131v3M91.5 170v14M92.5 159v14M93.5 137v4M93.5 146v2M93.5 152v5M94.5 125v17M95.5 109v6M96.5 88v6M96.5 96v2M97.5 100v9M98.5 108v16M99.5 93v14M100.5 93v7M101.5 107v3M102.5 121v4M103.5 142v10M104.5 159v1M105.5 159v6M105.5 169v2M106.5 141v12M107.5 114v17M108.5 107v11M109.5 100v1M110.5 82v20M111.5 100v20M113.5 69v12M114.5 69v8M114.5 78v4M115.5 111v6M117.5 180v3M117.5 187v2M118.5 179v8M119.5 165v2M120.5 138v5M120.5 145v5M121.5 122v1M122.5 104v9M123.5 92v10M124.5 99v9M125.5 101v7M126.5 100v4M127.5 88v7M129.5 123v5M130.5 156v3M131.5 174v12M131.5 189v7M133.5 119v3M135.5 84v2M135.5 93v4M137.5 45v1M138.5 68v4M139.5 62v5M140.5 77v8M140.5 90v2M144.5 159v2M145.5 140v7M146.5 117v13M147.5 97v10M148.5 93v12M149.5 106v1M149.5 110v3M150.5 126v8M152.5 111v13M152.5 128v2M153.5 108v8M154.5 109v7M155.5 135v1M155.5 138v6M156.5 161v10M157.5 181v8M157.5 202v1M158.5 162v11M159.5 156v2M160.5 123v8M161.5 111v9M162.5 117v8M163.5 96v12M164.5 115v5M165.5 112v9M166.5 96v13M167.5 103v3M167.5 114v3M168.5 94v13M169.5 136v7M171.5 167v5M173.5 114v6M174.5 105v1M175.5 73v17M176.5 103v1M177.5 87v13M178.5 90v10M179.5 99v10M180.5 80v16M182.5 153v4M183.5 156v9M183.5 166v12M184.5 168v10M185.5 154v1M186.5 124v3M187.5 101v6M188.5 103v4M188.5 109v3M189.5 89v21M190.5 85v15M191.5 83v4M192.5 71v10M193.5 80v8M194.5 94v11M195.5 124v3M197.5 161v10M199.5 129v11M201.5 84v4M202.5 71v9M202.5 82v5M202.5 88v2M203.5 89v6M203.5 96v5M204.5 78v7M205.5 71v5M206.5 76v12M206.5 89v5M207.5 79v7M209.5 128v2M210.5 152v3M211.5 173v8M212.5 178v2M212.5 190v8M213.5 150v5M215.5 99v8M216.5 111v2M216.5 117v1M217.5 125v6M217.5 132v3M218.5 133v8M219.5 128v7M220.5 95v6M221.5 111v1M222.5 137v9M224.5 175v13M225.5 148v4M226.5 124v1M226.5 132v2M229.5 68v8M230.5 75v16M231.5 72v10M232.5 83v5M233.5 73v10M234.5 117v2M235.5 128v15M236.5 150v11M237.5 163v12M237.5 176v5M238.5 160v1M239.5 136v3M241.5 91v1M242.5 81v5M243.5 87v4M243.5 93v4M244.5 86v19M245.5 98v14M246.5 99v1M246.5 106v3M247.5 88v14M248.5 99v6M248.5 117v1M249.5 142v7M250.5 171v6M251.5 190v8M252.5 158v18M253.5 134v8M254.5 115v2M255.5 92v8M256.5 82v11M257.5 86v13M258.5 87v9M258.5 100v1M259.5 78v6M260.5 70v3M260.5 75v1M260.5 77v3M261.5 107v1M261.5 110v2M262.5 136v9M263.5 165v9M264.5 165v7M265.5 149v5M266.5 117v14M267.5 111v4M267.5 124v1M268.5 102v5M269.5 69v10M270.5 68v8M271.5 73v17M272.5 79v10M273.5 70v8M273.5 88v1M274.5 81v7M275.5 113v8M276.5 145v5M277.5 157v14M278.5 147v10M279.5 132v4M280.5 118v7M281.5 106v8M282.5 87v3M282.5 92v4M282.5 101v3M284.5 95v6M285.5 86v8M286.5 104v11M287.5 95v9M288.5 122v6M290.5 177v2M292.5 169v8M293.5 136v3M294.5 112v4M295.5 94v1M295.5 99v4M296.5 67v8M297.5 74v7M298.5 69v7M299.5 74v5M299.5 83v2M300.5 86v8M302.5 138v2M303.5 171v4M304.5 178v8M305.5 158v2M306.5 126v20M307.5 100v12M308.5 83v2M309.5 97v3M310.5 120v2M311.5 110v4M312.5 96v12M313.5 107v7M314.5 88v23M315.5 123v5M315.5 130v1M316.5 152v1M317.5 171v3M318.5 180v11M319.5 159v8M319.5 168v1M320.5 123v22M321.5 136v1M322.5 94v14M324.5 132v1M324.5 134v1M326.5 58v9M327.5 78v17M329.5 144v2M330.5 153v13M333.5 85v4M334.5 55v10M334.5 72v4M335.5 65v6M336.5 67v5M337.5 53v5M337.5 64v1M338.5 64v7M339.5 74v11M340.5 92v2M340.5 105v2M344.5 188v1M345.5 157v7M346.5 128v11M347.5 94v11M348.5 84v15M349.5 102v4M350.5 108v18M351.5 122v6M351.5 133v2M352.5 125v8M352.5 136v4M353.5 119v5M354.5 110v1M354.5 112v6M356.5 173v1M359.5 124v4M360.5 88v11M360.5 100v4M361.5 78v10M362.5 106v2M363.5 101v3M363.5 106v5M364.5 101v13M365.5 135v7M366.5 118v1M366.5 121v9M367.5 104v11M368.5 142v1M369.5 156v4M370.5 175v9M373.5 130v5M374.5 109v1M375.5 93v18M376.5 122v3M377.5 139v7M377.5 151v7M378.5 99v13M379.5 119v4M380.5 105v15M381.5 91v10M381.5 111v5M384.5 192v10M385.5 178v10M386.5 150v13M387.5 126v1M387.5 130v8M388.5 98v14M389.5 68v8M389.5 81v1M390.5 103v2M391.5 103v1M392.5 92v12M393.5 108v10M394.5 84v6M394.5 94v7M397.5 172v6M398.5 161v1M399.5 150v3M400.5 121v2M401.5 97v21M402.5 80v10M402.5 91v4M403.5 101v11M404.5 112v10M405.5 112v2M406.5 98v3M406.5 105v7M407.5 117v4M408.5 147v9M409.5 176v2M409.5 179v2M410.5 176v6M410.5 187v1M411.5 170v12M412.5 144v8M413.5 133v5M414.5 113v13M415.5 101v6M416.5 79v13M417.5 95v8M418.5 96v11M419.5 84v7M420.5 94v9M420.5 117v1M421.5 87v3M421.5 91v2M421.5 108v1M423.5 146v2M424.5 157v18M425.5 145v9M426.5 136v10M427.5 120v6M428.5 100v10M429.5 91v10M430.5 97v5M430.5 104v4M431.5 63v16M432.5 67v6M433.5 81v12M433.5 95v1M434.5 84v22M435.5 120v7M436.5 145v1M436.5 147v3M437.5 179v2M437.5 182v8M438.5 182v7M439.5 166v3M440.5 125v18M441.5 106v12M442.5 114v6M442.5 122v2M443.5 113v7M444.5 106v11M445.5 98v8M445.5 115v2M446.5 107v16M447.5 99v1M447.5 102v2M449.5 125v3M450.5 153v10M451.5 158v2M452.5 133v2M453.5 106v6M454.5 95v14M455.5 111v13M456.5 104v6M456.5 115v8M457.5 85v16M457.5 102v3M458.5 119v2M459.5 119v3M460.5 91v9M462.5 144v6M463.5 174v1M464.5 206v7M465.5 196v8M466.5 153v8M467.5 119v1M468.5 100v4M469.5 118v1M469.5 120v1M470.5 119v1M472.5 123v11M473.5 116v1M473.5 119v3M474.5 103v16M477.5 160v16M477.5 182v2M479.5 132v2M480.5 92v15M481.5 79v2M483.5 120v17M484.5 112v12M485.5 128v11M486.5 97v8M487.5 95v9M490.5 158v3M491.5 166v3M492.5 136v13M493.5 117v15M494.5 93v12M495.5 84v14M496.5 88v10M497.5 81v10M498.5 82v12M499.5 84v4M504.5 192v13M506.5 137v5M507.5 113v7M508.5 102v12M509.5 106v10M510.5 118v11M511.5 103v15M512.5 93v9M513.5 82v9M514.5 89v7M515.5 123v5M516.5 163v1M517.5 169v13M518.5 135v24M519.5 136v3M521.5 89v7M522.5 87v11M523.5 95v3M524.5 128v1M525.5 136v6M526.5 103v6M527.5 130v1M528.5 151v8M530.5 176v8M531.5 163v8M532.5 136v5M533.5 115v9M534.5 78v11M535.5 83v13M536.5 83v12M537.5 95v3M538.5 109v11M539.5 92v8M540.5 111v2M541.5 142v1M541.5 145v2M542.5 151v9M543.5 166v7M543.5 175v5M544.5 158v3M544.5 166v2M545.5 137v14M546.5 129v4M547.5 105v10M548.5 98v1M549.5 82v16M550.5 96v4M551.5 99v10M552.5 103v10M553.5 83v17M554.5 91v12M555.5 118v1M555.5 122v1M556.5 164v5M556.5 170v24M557.5 185v7M558.5 150v16M559.5 144v5M560.5 124v4M560.5 130v1M561.5 102v5M562.5 100v15M563.5 107v12M564.5 100v7M565.5 89v21M566.5 109v2M567.5 106v2M568.5 99v6M569.5 141v5M570.5 157v10M572.5 120v12M572.5 138v3M573.5 102v14M574.5 84v15M575.5 88v14M576.5 44v3M576.5 48v7M577.5 75v6M578.5 73v12M578.5 86v7M579.5 68v6M579.5 75v9M580.5 91v16M583.5 182v4M583.5 193v1M583.5 198v1M584.5 167v3M585.5 140v5M586.5 118v1M587.5 91v8M589.5 110v11M590.5 96v12M591.5 99v11M593.5 79v8M594.5 95v2M595.5 117v5M597.5 191v8M598.5 177v17M599.5 161v5M600.5 128v13M601.5 108v1M601.5 113v3M603.5 131v8M603.5 140v2M605.5 113v2M605.5 117v1M606.5 102v9M609.5 188v2M610.5 183v2M611.5 153v6M612.5 128v2M612.5 132v3M613.5 106v2M613.5 110v2M614.5 82v17M615.5 78v12M616.5 79v10M617.5 79v2M617.5 82v6M618.5 81v7M618.5 91v3M620.5 102v2M621.5 118v1M622.5 155v5M623.5 171v9M624.5 173v4M625.5 142v15M626.5 134v8M627.5 104v16M629.5 75v4M630.5 66v13M631.5 77v7M632.5 70v7M632.5 78v5M633.5 78v5M634.5 100v12M635.5 149v4M636.5 196v3M637.5 181v11M638.5 162v7M639.5 144v1M640.5 114v12M641.5 93v13M641.5 108v1M642.5 115v10M644.5 90v8M644.5 102v2M645.5 99v5M646.5 103v7M647.5 92v9M648.5 102v1M648.5 112v8M649.5 127v3M650.5 151v7M651.5 164v14M652.5 150v3M652.5 154v3M653.5 128v2M653.5 132v5M655.5 83v12M656.5 110v4M657.5 127v8M658.5 116v15M659.5 121v15M660.5 113v6M662.5 135v7M663.5 171v5M664.5 178v4M665.5 144v1M665.5 146v7M666.5 111v1M667.5 88v6M668.5 101v9" stroke="#7e2f8e" stroke-width="1" fill="none"/>
<path d="M45.5 397v1M46.5 397v1M50.5 390v1M50.5 432v2M52.5 442v1M53.5 435v2M54.5 392v1M54.5 435v1M55.5 434v1M56.5 438v1M57.5 435v3M58.5 391v1M59.5 389v1M60.5 431v1M61.5 439v1M62.5 407v1M63.5 437v4M64.5 399v2M64.5 441v1M65.5 439v1M66.5 388v1M66.5 428v1M67.5 443v2M74.5 379v1M74.5 428v2M75.5 379v1M76.5 431v8M78.5 431v7M80.5 425v4M82.5 398v1M82.5 430v1M83.5 397v1M83.5 433v1M85.5 392v1M85.5 437v2M86.5 436v8M87.5 385v16M88.5 394v3M88.5 441v3M89.5 429v9M91.5 390v6M93.5 433v1M96.5 374v4M97.5 381v2M97.5 436v7M98.5 372v1M99.5 372v1M100.5 385v2M100.5 441v1M102.5 376v1M102.5 430v1M105.5 393v1M106.5 444v1M107.5 396v1M108.5 444v1M109.5 399v4M110.5 428v2M111.5 376v1M112.5 377v6M113.5 429v1M115.5 394v1M117.5 439v4M122.5 444v1M123.5 387v7M124.5 434v1M126.5 384v1M127.5 389v4M130.5 376v1M130.5 432v1M133.5 429v1M134.5 427v1M135.5 388v1M138.5 402v1M139.5 437v1M140.5 378v15M140.5 436v1M141.5 426v1M143.5 386v1M143.5 436v1M145.5 386v3M147.5 393v1M152.5 395v1M153.5 442v3M154.5 402v1M155.5 385v1M156.5 385v1M157.5 394v1M158.5 448v1M159.5 388v14M160.5 440v1M161.5 440v1M162.5 384v3M163.5 383v1M164.5 384v6M165.5 431v1M166.5 394v3M166.5 435v1M168.5 435v3M169.5 353v1M172.5 385v1M173.5 386v3M173.5 431v1M175.5 439v6M178.5 376v1M178.5 426v1M179.5 376v1M180.5 431v3M181.5 421v4M182.5 430v14M185.5 431v4M186.5 421v4M187.5 385v1M188.5 386v1M190.5 380v1M191.5 455v1M193.5 384v1M196.5 441v1M198.5 437v1M199.5 385v1M204.5 444v1M207.5 435v1M208.5 390v1M213.5 394v1M214.5 394v1M216.5 385v1M217.5 387v2M218.5 432v5M220.5 377v1M225.5 434v1M226.5 394v14M227.5 444v1M229.5 384v1M230.5 429v3M232.5 440v1M233.5 401v1M233.5 440v1M234.5 388v2M235.5 369v1M235.5 431v1M236.5 369v1M236.5 437v1M237.5 369v1M237.5 435v2M238.5 444v1M239.5 389v3M239.5 444v1M240.5 429v2M241.5 385v2M243.5 369v1M244.5 370v1M246.5 384v7M251.5 386v6M253.5 387v1M255.5 426v1M256.5 443v1M262.5 439v2M263.5 384v3M263.5 438v1M264.5 373v1M268.5 369v1M269.5 386v1M270.5 387v1M271.5 385v1M272.5 386v8M275.5 443v2M281.5 395v2M281.5 432v1M282.5 450v1M283.5 450v1M284.5 372v2M284.5 426v1M285.5 369v1M287.5 404v1M288.5 390v1M291.5 378v1M291.5 428v5M292.5 378v1M292.5 436v4M295.5 388v1M296.5 436v1M297.5 388v6M301.5 424v15M302.5 385v2M304.5 392v3M305.5 391v1M306.5 435v10M307.5 419v1M309.5 370v10M310.5 369v1M310.5 413v6M311.5 376v1M311.5 423v3M312.5 382v1M313.5 389v2M314.5 395v1M317.5 431v1M319.5 384v1M320.5 384v1M320.5 428v1M322.5 400v1M322.5 430v1M324.5 394v7M325.5 434v8M328.5 361v1M328.5 425v1M329.5 427v1M330.5 428v1M333.5 386v8M335.5 426v8M336.5 423v1M338.5 372v7M338.5 427v1M339.5 382v1M340.5 382v1M342.5 428v5M343.5 381v10M345.5 365v1M347.5 421v1M348.5 381v1M348.5 430v1M349.5 430v1M350.5 432v9M353.5 433v1M357.5 438v1M358.5 369v1M358.5 438v1M359.5 379v3M360.5 385v1M361.5 370v1M363.5 369v1M363.5 433v1M364.5 370v2M367.5 388v1M368.5 424v5M369.5 379v1M369.5 424v1M370.5 374v13M371.5 369v1M373.5 373v3M373.5 439v5M377.5 387v1M377.5 429v1M378.5 429v1M379.5 376v13M379.5 428v12M381.5 413v5M384.5 369v1M384.5 418v3M385.5 377v1M389.5 424v4M391.5 382v1M392.5 370v9M392.5 430v1M393.5 369v1M393.5 430v1M394.5 379v1M394.5 435v1M395.5 379v1M395.5 436v1M397.5 357v1M398.5 444v1M399.5 437v1M401.5 423v4M404.5 429v7M405.5 375v1M405.5 428v1M406.5 418v10M407.5 372v21M407.5 433v1M408.5 386v1M409.5 381v5M409.5 423v1M411.5 425v1M413.5 378v1M414.5 374v1M414.5 427v3M417.5 373v1M418.5 423v5M419.5 390v1M420.5 435v1M421.5 365v9M422.5 441v1M426.5 377v17M427.5 419v1M429.5 422v3M430.5 387v1M431.5 425v1M432.5 425v1M433.5 369v1M434.5 382v1M434.5 435v1M435.5 384v1M437.5 395v1M437.5 432v8M440.5 423v4M441.5 384v1M441.5 434v1M443.5 435v1M444.5 433v9M446.5 385v5M447.5 393v1M449.5 430v4M450.5 389v1M450.5 436v9M452.5 388v1M452.5 435v7M454.5 394v7M456.5 369v1M456.5 420v6M457.5 369v1M458.5 422v1M459.5 433v1M460.5 369v1M461.5 370v6M463.5 420v1M464.5 375v5M464.5 439v6M466.5 453v1M467.5 382v1M467.5 453v1M469.5 384v1M469.5 429v10M471.5 379v2M472.5 385v1M474.5 425v1M476.5 425v6M477.5 433v1M480.5 422v9M481.5 387v1M482.5 387v1M483.5 442v1M484.5 392v1M485.5 444v1M488.5 385v1M488.5 432v1M489.5 386v1M491.5 382v1M492.5 385v10M493.5 429v5M495.5 377v1M496.5 377v1M499.5 420v1M500.5 376v1M500.5 425v1M501.5 429v11M502.5 392v1M507.5 422v1M510.5 395v1M513.5 429v1M515.5 392v2M515.5 427v1M519.5 390v1M519.5 433v2M520.5 390v1M520.5 435v1M521.5 387v1M522.5 387v1M522.5 425v1M523.5 425v1M524.5 389v1M524.5 420v10M525.5 375v1M525.5 436v1M529.5 440v2M530.5 388v3M531.5 432v1M532.5 391v2M533.5 369v1M533.5 432v12M534.5 370v18M535.5 391v3M537.5 425v9M539.5 425v3M541.5 369v1M542.5 389v5M542.5 444v1M544.5 385v1M547.5 369v1M547.5 426v6M548.5 425v1M549.5 378v1M549.5 417v12M550.5 386v2M550.5 433v1M551.5 385v1M551.5 433v1M553.5 359v1M555.5 376v1M555.5 430v8M556.5 377v1M560.5 425v1M562.5 383v1M562.5 424v2M563.5 383v1M564.5 381v1M564.5 422v1M565.5 381v1M567.5 391v1M568.5 437v1M569.5 389v1M570.5 424v1M571.5 386v1M572.5 391v1M572.5 417v7M574.5 420v1M577.5 385v1M577.5 429v1M578.5 381v1M578.5 417v7M579.5 432v1M581.5 389v1M582.5 442v1M584.5 428v4M585.5 378v10M586.5 430v7M588.5 382v1M589.5 382v1M590.5 389v1M590.5 427v1M591.5 390v3M591.5 431v1M593.5 379v1M594.5 379v1M595.5 377v4M596.5 376v1M598.5 443v1M601.5 394v4M601.5 444v1M606.5 382v15M607.5 430v1M608.5 383v6M608.5 430v1M609.5 429v9M615.5 369v1M616.5 381v14M619.5 385v1M621.5 428v2M622.5 383v1M623.5 383v1M624.5 384v1M626.5 389v3M627.5 424v2M628.5 380v9M628.5 427v1M629.5 396v1M629.5 428v4M630.5 396v1M631.5 389v1M631.5 430v5M633.5 392v3M634.5 360v1M636.5 430v13M637.5 384v1M638.5 384v1M639.5 396v1M640.5 427v1M641.5 394v1M642.5 373v1M642.5 425v5M643.5 373v1M648.5 359v30M653.5 387v1M653.5 435v1M654.5 422v1M655.5 373v1M655.5 422v1M659.5 433v1M661.5 444v1M663.5 397v4M663.5 444v1M664.5 387v4M667.5 390v8" stroke="#f0e6f1" stroke-width="1" fill="none"/>
<path d="M44.5 394v1M45.5 444v1M46.5 398v5M46.5 437v1M47.5 377v1M47.5 437v1M51.5 391v8M51.5 436v1M53.5 431v4M55.5 392v1M56.5 396v1M57.5 401v1M58.5 440v1M59.5 390v2M59.5 440v1M60.5 389v1M60.5 430v1M62.5 434v5M63.5 430v7M64.5 401v1M65.5 388v1M67.5 436v7M69.5 429v3M71.5 444v1M72.5 444v1M73.5 380v1M73.5 433v1M76.5 426v5M77.5 383v5M78.5 387v1M78.5 426v5M79.5 401v1M80.5 424v1M81.5 430v1M82.5 428v2M83.5 398v1M84.5 439v1M86.5 433v3M90.5 368v1M90.5 428v1M94.5 386v1M95.5 373v1M95.5 437v1M96.5 378v3M96.5 428v8M97.5 383v3M98.5 373v1M99.5 441v1M100.5 387v6M100.5 435v6M102.5 425v5M106.5 439v5M108.5 399v1M108.5 435v9M114.5 363v31M114.5 444v1M115.5 444v1M117.5 438v1M119.5 434v2M121.5 381v5M123.5 394v1M123.5 436v1M124.5 400v1M126.5 434v1M127.5 393v2M128.5 444v1M129.5 423v1M130.5 428v4M132.5 429v5M133.5 387v1M134.5 387v1M137.5 444v1M138.5 444v1M139.5 435v2M140.5 393v8M142.5 436v1M143.5 432v4M145.5 389v1M146.5 394v9M146.5 440v1M148.5 390v1M148.5 444v1M149.5 380v1M149.5 421v1M150.5 429v1M152.5 396v1M152.5 444v1M155.5 386v5M155.5 432v7M157.5 448v1M158.5 394v1M158.5 428v20M160.5 383v1M161.5 383v1M161.5 427v13M162.5 387v5M162.5 424v3M164.5 425v1M167.5 435v1M168.5 392v4M168.5 434v1M173.5 389v1M175.5 374v1M175.5 437v2M177.5 427v1M180.5 389v6M180.5 430v1M181.5 415v6M183.5 380v8M183.5 444v1M184.5 370v1M185.5 370v1M188.5 387v3M189.5 381v1M190.5 444v1M191.5 393v1M192.5 384v1M193.5 385v2M194.5 443v1M195.5 443v1M196.5 404v1M196.5 435v6M198.5 404v3M198.5 436v1M199.5 437v1M206.5 434v1M209.5 396v1M210.5 440v3M215.5 385v1M217.5 389v1M218.5 429v3M219.5 437v1M220.5 378v11M221.5 399v1M222.5 440v1M223.5 391v1M225.5 393v1M226.5 408v2M227.5 437v7M228.5 385v1M231.5 391v1M232.5 438v2M234.5 390v12M235.5 427v4M237.5 433v2M238.5 386v7M239.5 392v1M239.5 431v13M240.5 388v1M240.5 428v1M241.5 387v1M242.5 427v1M243.5 427v1M246.5 391v1M246.5 423v3M248.5 370v1M248.5 420v14M249.5 370v1M249.5 449v1M250.5 449v1M251.5 392v5M251.5 423v1M252.5 423v1M253.5 444v1M254.5 391v1M254.5 444v1M255.5 420v6M256.5 442v1M257.5 443v1M259.5 390v1M259.5 432v1M260.5 380v1M260.5 432v1M261.5 441v1M263.5 425v13M265.5 422v3M266.5 433v2M269.5 422v1M270.5 436v1M272.5 439v1M273.5 401v1M273.5 439v1M275.5 442v1M276.5 385v1M277.5 385v1M277.5 444v1M278.5 392v15M278.5 444v1M280.5 422v1M283.5 372v2M286.5 434v3M288.5 391v9M290.5 395v1M291.5 379v11M294.5 441v1M295.5 389v1M295.5 429v7M296.5 383v1M297.5 394v1M299.5 432v1M300.5 378v11M301.5 423v1M302.5 387v1M304.5 395v1M306.5 420v15M309.5 380v11M310.5 411v2M311.5 418v5M312.5 383v3M313.5 444v1M314.5 396v3M314.5 444v1M315.5 416v1M316.5 385v2M316.5 424v7M318.5 425v1M319.5 422v6M320.5 385v2M321.5 384v1M321.5 430v1M323.5 444v1M325.5 393v1M325.5 432v2M326.5 380v12M327.5 422v2M328.5 424v1M329.5 362v22M330.5 384v1M331.5 386v1M332.5 385v1M332.5 431v1M333.5 431v1M334.5 434v1M336.5 375v1M337.5 371v1M338.5 379v6M339.5 383v3M339.5 427v1M340.5 423v1M342.5 420v8M343.5 391v1M345.5 428v1M346.5 365v1M346.5 428v1M349.5 382v4M350.5 421v11M354.5 431v1M355.5 396v4M357.5 370v30M358.5 429v9M359.5 382v21M360.5 386v1M360.5 431v1M361.5 371v5M362.5 370v1M362.5 421v12M364.5 372v1M365.5 418v3M366.5 422v1M368.5 423v1M369.5 380v9M373.5 376v1M373.5 425v14M374.5 379v16M375.5 383v6M375.5 427v1M377.5 388v11M378.5 419v10M379.5 426v2M381.5 383v3M381.5 411v2M382.5 444v1M383.5 370v18M383.5 444v1M386.5 372v1M386.5 431v1M387.5 385v1M389.5 423v1M390.5 382v1M391.5 383v5M392.5 379v8M393.5 426v4M394.5 380v14M394.5 429v6M396.5 384v9M398.5 357v1M398.5 427v17M400.5 424v1M401.5 377v6M401.5 422v1M402.5 381v1M403.5 381v1M405.5 376v1M405.5 425v3M406.5 409v9M407.5 393v1M407.5 430v3M408.5 387v15M408.5 433v1M409.5 421v2M410.5 371v1M410.5 420v1M411.5 350v1M411.5 417v8M412.5 425v1M413.5 379v2M416.5 372v1M417.5 423v1M418.5 373v1M419.5 391v9M419.5 435v1M420.5 429v6M421.5 441v1M424.5 389v1M425.5 421v1M426.5 394v1M428.5 370v5M429.5 369v1M429.5 421v1M431.5 416v9M432.5 370v9M435.5 385v1M437.5 431v1M439.5 374v4M440.5 421v2M441.5 430v4M443.5 389v1M445.5 384v1M445.5 442v1M446.5 438v1M447.5 394v1M447.5 438v1M448.5 395v5M448.5 434v1M450.5 390v1M450.5 435v1M453.5 442v1M456.5 418v2M458.5 417v5M459.5 428v5M460.5 433v1M461.5 376v11M463.5 374v1M463.5 418v2M464.5 380v9M464.5 427v12M465.5 383v1M467.5 436v17M469.5 422v7M470.5 420v7M471.5 381v10M472.5 386v2M474.5 384v1M474.5 420v5M476.5 424v1M477.5 425v8M478.5 385v1M478.5 433v1M479.5 385v1M481.5 388v2M485.5 392v1M485.5 429v15M486.5 386v1M487.5 385v1M488.5 386v6M491.5 429v11M492.5 395v1M493.5 415v14M496.5 414v1M497.5 377v8M501.5 428v1M503.5 434v1M504.5 399v1M504.5 441v1M505.5 385v13M508.5 444v1M509.5 444v1M510.5 396v2M513.5 428v1M514.5 429v1M516.5 391v1M517.5 402v1M526.5 428v4M527.5 392v1M528.5 394v1M528.5 434v1M529.5 439v1M530.5 391v1M533.5 425v7M534.5 433v8M535.5 394v1M536.5 434v2M537.5 423v2M539.5 382v1M542.5 394v1M542.5 436v8M544.5 386v7M548.5 379v8M548.5 423v2M549.5 416v1M550.5 388v1M552.5 377v14M553.5 360v17M554.5 359v1M555.5 429v1M556.5 378v16M557.5 440v1M558.5 417v1M559.5 384v1M564.5 382v5M565.5 422v7M567.5 392v1M568.5 387v1M568.5 424v13M569.5 437v1M570.5 387v5M573.5 392v7M576.5 429v1M577.5 386v7M578.5 416v1M579.5 380v1M579.5 427v5M580.5 432v1M581.5 390v1M581.5 427v3M582.5 437v5M583.5 442v1M585.5 388v1M589.5 421v9M591.5 393v3M594.5 426v3M595.5 381v1M595.5 437v1M596.5 444v1M597.5 444v1M601.5 442v2M602.5 440v1M603.5 370v19M603.5 440v1M605.5 428v9M607.5 429v1M608.5 389v1M610.5 438v1M612.5 381v1M612.5 434v3M614.5 442v1M615.5 442v1M616.5 395v1M617.5 395v1M617.5 441v1M618.5 444v1M619.5 386v9M621.5 427v1M622.5 430v1M623.5 384v11M623.5 431v1M624.5 385v1M625.5 384v1M625.5 444v1M626.5 392v6M626.5 444v1M629.5 427v1M630.5 397v4M632.5 429v3M634.5 431v1M635.5 360v1M635.5 429v1M636.5 397v1M638.5 444v1M639.5 444v1M640.5 425v2M643.5 374v18M643.5 444v1M644.5 444v1M645.5 390v1M645.5 427v1M648.5 434v1M649.5 434v1M651.5 394v2M654.5 390v3M655.5 374v2M656.5 436v1M659.5 429v4M660.5 383v4M660.5 429v1M661.5 439v5M663.5 436v8M666.5 426v2" stroke="#dfcbe3" stroke-width="1" fill="none"/>
<path d="M45.5 441v3M47.5 378v16M48.5 377v1M53.5 384v7M54.5 393v5M57.5 434v1M59.5 392v11M59.5 433v7M60.5 424v6M63.5 389v1M63.5 429v1M66.5 389v12M67.5 430v6M68.5 389v4M69.5 389v1M69.5 428v1M70.5 389v1M70.5 436v1M71.5 442v2M72.5 396v1M74.5 427v1M76.5 381v1M76.5 424v2M77.5 388v5M82.5 399v4M82.5 424v4M84.5 392v1M88.5 440v1M90.5 418v10M91.5 396v6M91.5 428v1M93.5 386v1M93.5 432v1M94.5 387v6M94.5 437v1M95.5 428v9M97.5 386v8M98.5 374v15M100.5 433v2M102.5 424v1M103.5 377v8M104.5 393v1M105.5 439v1M106.5 387v1M106.5 431v8M108.5 434v1M109.5 403v1M109.5 444v1M112.5 417v5M114.5 394v1M114.5 429v15M116.5 396v1M117.5 393v1M118.5 397v1M119.5 397v3M119.5 432v2M120.5 381v1M122.5 438v6M126.5 428v6M128.5 389v1M128.5 428v16M129.5 377v9M130.5 427v1M131.5 393v5M131.5 433v1M132.5 401v1M132.5 426v3M134.5 388v1M134.5 423v4M136.5 392v1M137.5 434v10M139.5 434v1M140.5 401v1M141.5 421v5M142.5 383v5M143.5 387v3M143.5 426v6M144.5 386v1M144.5 432v1M145.5 440v1M146.5 434v6M147.5 444v1M148.5 391v1M148.5 438v6M149.5 381v1M150.5 380v1M152.5 440v4M153.5 395v1M156.5 432v8M157.5 395v5M158.5 427v1M159.5 402v1M159.5 436v1M160.5 384v4M163.5 428v1M166.5 431v4M167.5 390v1M170.5 354v31M170.5 424v16M172.5 430v5M173.5 390v2M174.5 398v1M175.5 375v10M175.5 431v6M176.5 374v1M176.5 444v1M177.5 384v1M177.5 425v2M178.5 377v10M180.5 395v5M182.5 429v1M183.5 388v3M185.5 371v12M186.5 420v1M188.5 390v10M189.5 382v11M190.5 422v22M192.5 433v22M195.5 431v12M197.5 442v1M198.5 435v1M200.5 432v1M201.5 400v1M201.5 433v4M202.5 391v1M203.5 396v1M203.5 435v1M205.5 392v1M205.5 440v4M206.5 390v1M206.5 423v11M207.5 390v1M208.5 435v1M209.5 397v2M210.5 396v1M210.5 436v4M211.5 398v1M212.5 397v1M212.5 433v1M214.5 395v9M214.5 438v1M215.5 430v1M216.5 386v2M218.5 422v7M219.5 377v1M220.5 389v10M221.5 400v9M222.5 437v3M223.5 392v1M223.5 443v1M224.5 391v1M224.5 435v1M228.5 386v3M229.5 423v1M230.5 384v1M234.5 438v1M235.5 421v6M237.5 428v5M238.5 393v3M243.5 423v4M244.5 420v3M245.5 383v7M246.5 421v2M248.5 419v1M249.5 371v8M250.5 432v17M252.5 386v1M253.5 439v5M255.5 376v1M255.5 419v1M256.5 376v18M256.5 437v5M257.5 387v1M258.5 393v1M258.5 432v8M260.5 381v7M260.5 421v11M262.5 378v1M262.5 438v1M263.5 387v1M265.5 421v1M266.5 392v1M266.5 429v4M267.5 370v13M268.5 425v1M271.5 436v1M273.5 438v1M274.5 390v12M274.5 444v1M275.5 390v1M276.5 432v10M277.5 386v2M278.5 407v2M278.5 440v4M279.5 425v8M280.5 380v1M283.5 425v25M285.5 420v6M286.5 387v8M286.5 432v2M287.5 436v1M288.5 400v5M289.5 390v1M289.5 436v1M290.5 431v1M291.5 390v6M291.5 427v1M293.5 397v1M294.5 388v1M295.5 428v1M299.5 431v1M300.5 389v3M300.5 432v1M301.5 422v1M302.5 388v5M303.5 387v1M305.5 444v1M306.5 419v1M307.5 377v19M308.5 392v1M309.5 391v1M310.5 408v3M311.5 408v10M312.5 386v1M313.5 431v13M315.5 385v1M316.5 387v1M316.5 423v1M317.5 392v1M319.5 421v1M320.5 387v3M322.5 423v7M323.5 381v1M325.5 428v4M326.5 392v1M326.5 431v1M327.5 421v1M330.5 385v1M331.5 387v4M332.5 423v8M333.5 394v1M334.5 394v1M335.5 391v1M337.5 418v1M338.5 419v8M339.5 386v1M340.5 422v1M341.5 373v1M341.5 423v1M342.5 373v15M343.5 432v1M344.5 375v1M344.5 430v1M345.5 366v15M345.5 417v11M347.5 379v1M349.5 423v7M350.5 420v1M352.5 387v12M353.5 432v1M354.5 392v1M355.5 434v1M356.5 400v1M356.5 429v6M358.5 427v2M360.5 420v11M361.5 376v9M362.5 409v12M364.5 415v3M366.5 394v1M366.5 421v1M367.5 389v11M368.5 379v1M368.5 422v1M372.5 418v1M374.5 395v1M374.5 443v1M375.5 389v1M377.5 399v1M378.5 376v1M378.5 417v2M379.5 422v4M381.5 410v1M382.5 383v1M383.5 388v14M383.5 440v4M384.5 415v3M385.5 431v1M386.5 428v3M387.5 386v2M388.5 385v1M388.5 426v1M391.5 388v1M391.5 429v1M394.5 426v3M397.5 358v26M397.5 444v1M399.5 388v1M400.5 377v1M402.5 430v1M403.5 382v8M404.5 428v1M405.5 423v2M406.5 372v1M407.5 394v2M409.5 386v1M411.5 351v19M411.5 415v2M412.5 350v1M413.5 432v1M415.5 372v1M415.5 410v1M416.5 373v1M418.5 422v1M419.5 400v1M421.5 374v6M422.5 357v1M422.5 439v2M423.5 434v1M424.5 415v10M425.5 377v1M426.5 421v1M428.5 375v1M429.5 413v8M431.5 415v1M432.5 379v9M433.5 422v13M435.5 386v7M435.5 437v1M438.5 389v1M439.5 378v11M441.5 421v9M442.5 389v1M442.5 434v1M444.5 432v1M446.5 425v13M449.5 429v1M451.5 392v1M451.5 444v1M454.5 401v1M455.5 444v1M456.5 417v1M458.5 379v2M458.5 412v5M459.5 381v2M459.5 423v5M461.5 421v1M462.5 387v5M464.5 426v1M465.5 384v6M465.5 444v1M468.5 383v6M468.5 438v1M469.5 385v5M469.5 420v2M470.5 419v1M471.5 391v1M472.5 388v2M473.5 385v1M475.5 374v9M476.5 422v2M479.5 420v2M480.5 390v1M481.5 390v1M481.5 431v1M482.5 436v6M484.5 393v1M484.5 444v1M485.5 426v3M486.5 429v1M487.5 426v6M489.5 387v2M490.5 429v1M491.5 383v1M491.5 427v2M492.5 396v4M493.5 410v5M494.5 379v10M494.5 450v1M495.5 420v31M497.5 385v6M498.5 419v1M499.5 377v8M501.5 425v3M503.5 396v1M504.5 438v3M505.5 441v1M506.5 379v1M507.5 379v8M508.5 390v1M509.5 424v20M511.5 363v1M511.5 431v1M512.5 363v17M513.5 417v11M515.5 426v1M516.5 433v1M519.5 432v1M521.5 388v2M523.5 381v1M523.5 420v5M524.5 419v1M526.5 376v14M526.5 427v1M527.5 433v1M529.5 435v4M531.5 425v7M532.5 443v1M533.5 422v3M534.5 432v1M536.5 391v1M537.5 376v1M537.5 422v1M538.5 427v1M539.5 422v3M540.5 370v5M540.5 411v1M541.5 444v1M542.5 435v1M543.5 385v1M544.5 393v1M545.5 420v1M546.5 370v6M546.5 431v1M547.5 425v1M548.5 417v6M549.5 412v4M550.5 429v4M552.5 420v17M553.5 436v1M554.5 424v5M555.5 377v1M556.5 442v1M559.5 385v2M560.5 384v1M564.5 387v1M565.5 421v1M566.5 391v1M567.5 393v1M568.5 420v4M569.5 390v5M574.5 393v1M575.5 393v3M576.5 395v1M577.5 428v1M579.5 426v1M580.5 389v1M582.5 434v3M583.5 395v1M584.5 360v1M584.5 427v1M585.5 427v1M586.5 389v3M587.5 436v1M588.5 383v1M589.5 416v5M590.5 423v4M591.5 396v2M592.5 384v1M593.5 380v9M593.5 426v8M595.5 382v9M597.5 393v1M597.5 443v1M598.5 402v1M599.5 392v4M599.5 437v14M600.5 450v1M601.5 425v17M602.5 425v15M603.5 389v1M604.5 370v1M605.5 391v1M609.5 381v1M611.5 381v1M611.5 432v1M612.5 382v13M614.5 390v8M615.5 424v18M618.5 395v1M618.5 442v2M619.5 444v1M620.5 385v1M620.5 422v1M623.5 395v1M623.5 424v7M624.5 386v3M625.5 442v2M626.5 398v1M627.5 423v1M628.5 389v1M630.5 401v4M631.5 429v1M632.5 390v5M632.5 425v4M633.5 441v1M634.5 361v15M634.5 425v6M635.5 425v4M636.5 429v1M637.5 456v1M638.5 385v12M639.5 397v1M639.5 436v8M640.5 395v1M641.5 432v1M643.5 392v1M643.5 435v9M646.5 393v2M646.5 440v1M647.5 359v1M648.5 431v3M650.5 394v1M652.5 400v1M652.5 426v9M654.5 393v1M654.5 419v3M655.5 376v12M656.5 373v1M658.5 383v1M658.5 433v1M659.5 383v1M659.5 426v3M660.5 387v4M661.5 421v18M662.5 397v1M662.5 444v1M664.5 444v1M666.5 398v1M666.5 425v1M667.5 435v1" stroke="#cbacd2" stroke-width="1" fill="none"/>
<path d="M44.5 395v15M44.5 444v1M45.5 398v5M45.5 437v4M46.5 403v1M46.5 436v1M47.5 394v8M47.5 427v10M48.5 378v3M50.5 391v8M52.5 384v26M54.5 398v5M55.5 393v3M55.5 427v7M58.5 435v5M60.5 390v4M61.5 394v6M61.5 429v10M65.5 389v2M65.5 428v11M66.5 401v1M66.5 425v3M68.5 393v10M68.5 444v1M69.5 390v9M70.5 429v7M71.5 437v5M72.5 397v4M72.5 439v5M73.5 381v1M73.5 422v11M75.5 380v12M75.5 429v1M76.5 418v6M77.5 393v1M77.5 439v1M79.5 402v4M79.5 444v1M80.5 419v5M81.5 425v5M82.5 403v1M82.5 417v7M83.5 399v2M83.5 422v11M85.5 393v1M85.5 436v1M87.5 401v1M88.5 397v4M89.5 419v10M91.5 402v1M92.5 401v1M92.5 429v2M93.5 387v16M94.5 434v3M95.5 427v1M96.5 427v1M97.5 394v1M98.5 389v4M99.5 373v20M99.5 427v14M100.5 425v8M102.5 377v20M103.5 385v8M105.5 394v5M106.5 424v7M107.5 397v14M107.5 444v1M108.5 429v5M109.5 404v1M109.5 435v9M112.5 415v2M113.5 363v26M113.5 418v11M114.5 424v5M115.5 395v7M115.5 438v6M116.5 397v4M117.5 437v1M118.5 398v2M119.5 400v6M120.5 382v20M120.5 427v9M121.5 386v9M121.5 444v1M122.5 431v7M123.5 395v2M124.5 401v7M125.5 384v1M125.5 426v1M126.5 424v4M127.5 395v1M127.5 437v8M128.5 423v5M129.5 386v7M129.5 420v3M130.5 377v15M132.5 425v1M133.5 388v10M134.5 420v3M135.5 389v3M135.5 428v1M136.5 393v8M136.5 438v1M137.5 433v1M138.5 438v6M139.5 402v1M139.5 426v8M140.5 402v1M141.5 378v1M141.5 415v6M142.5 388v2M142.5 427v9M145.5 390v4M145.5 437v3M146.5 433v1M148.5 392v4M148.5 428v10M149.5 382v8M150.5 381v13M150.5 421v8M151.5 435v10M152.5 397v1M153.5 396v6M154.5 403v3M154.5 444v1M156.5 386v11M156.5 424v8M157.5 441v7M158.5 395v4M160.5 437v3M161.5 384v9M162.5 392v1M162.5 415v9M164.5 390v1M165.5 418v13M168.5 431v3M169.5 354v42M170.5 385v4M170.5 423v1M171.5 395v1M171.5 436v4M172.5 416v14M173.5 392v4M174.5 399v2M174.5 444v1M175.5 385v11M175.5 430v1M176.5 375v21M178.5 387v1M178.5 425v1M179.5 377v22M182.5 383v4M183.5 391v3M184.5 371v9M185.5 383v8M185.5 429v2M186.5 418v2M187.5 420v1M188.5 421v6M190.5 414v8M191.5 445v10M192.5 385v9M192.5 432v1M193.5 387v18M193.5 444v1M194.5 434v9M195.5 424v7M196.5 405v4M197.5 404v5M199.5 386v12M199.5 429v8M200.5 429v3M202.5 436v1M203.5 397v1M204.5 434v10M205.5 435v5M206.5 391v1M207.5 434v1M208.5 391v7M208.5 432v3M209.5 399v1M209.5 430v13M210.5 397v9M210.5 434v2M211.5 436v1M213.5 395v2M213.5 428v5M215.5 386v16M216.5 388v1M217.5 390v2M218.5 416v6M219.5 378v11M222.5 395v1M222.5 423v14M223.5 393v2M224.5 392v11M225.5 429v5M226.5 410v5M226.5 444v1M227.5 389v4M227.5 435v2M229.5 385v1M229.5 419v4M230.5 385v2M230.5 425v4M231.5 392v9M231.5 432v6M232.5 401v1M232.5 437v1M233.5 402v2M233.5 437v3M234.5 402v1M235.5 370v18M237.5 370v15M237.5 414v14M238.5 396v14M238.5 436v8M241.5 419v9M242.5 424v3M244.5 371v12M245.5 390v3M245.5 423v3M247.5 433v1M248.5 371v20M249.5 379v1M249.5 415v34M250.5 390v1M250.5 425v7M251.5 397v1M252.5 419v4M254.5 392v5M254.5 439v5M255.5 377v11M255.5 418v1M256.5 394v4M256.5 426v11M257.5 441v2M260.5 388v6M261.5 380v1M263.5 424v1M265.5 386v1M266.5 427v2M267.5 383v10M267.5 428v7M268.5 370v15M268.5 422v3M270.5 422v14M273.5 437v1M274.5 402v8M275.5 391v14M275.5 435v7M276.5 386v20M276.5 430v2M277.5 388v10M277.5 435v9M278.5 433v7M279.5 422v3M281.5 423v9M282.5 372v18M282.5 432v18M284.5 374v2M284.5 416v10M286.5 395v1M287.5 427v9M288.5 405v3M289.5 391v3M291.5 396v2M292.5 379v31M292.5 435v1M293.5 441v1M294.5 389v7M294.5 428v13M295.5 390v1M296.5 432v4M298.5 392v3M300.5 392v1M300.5 428v4M301.5 378v1M302.5 393v1M302.5 438v1M306.5 377v14M306.5 417v2M307.5 396v1M308.5 393v2M309.5 418v1M312.5 425v1M313.5 391v1M313.5 421v10M314.5 420v24M315.5 386v1M316.5 388v10M316.5 417v6M317.5 393v6M317.5 426v5M318.5 392v1M319.5 418v3M320.5 424v4M321.5 385v12M323.5 441v3M325.5 394v1M325.5 417v11M327.5 380v8M327.5 418v3M328.5 362v19M329.5 384v1M331.5 407v13M332.5 420v3M333.5 395v5M334.5 395v3M336.5 376v15M336.5 413v10M337.5 412v6M338.5 385v1M339.5 387v3M339.5 426v1M340.5 383v1M340.5 412v10M341.5 374v11M341.5 414v9M342.5 388v1M342.5 418v2M343.5 392v2M344.5 414v16M345.5 381v5M346.5 366v24M346.5 423v5M348.5 429v1M350.5 382v3M350.5 416v4M351.5 387v1M351.5 440v1M352.5 399v1M353.5 392v1M355.5 431v3M357.5 429v9M358.5 370v9M358.5 425v2M360.5 419v1M361.5 421v1M362.5 371v11M363.5 420v13M364.5 373v1M364.5 404v11M367.5 400v1M368.5 380v8M368.5 418v4M369.5 389v1M371.5 419v7M373.5 377v2M373.5 409v16M375.5 390v6M375.5 426v1M376.5 383v9M377.5 400v2M377.5 423v6M380.5 387v8M381.5 386v1M382.5 384v17M382.5 429v15M383.5 402v1M383.5 427v13M384.5 412v3M385.5 421v10M386.5 415v13M387.5 416v1M388.5 386v7M389.5 393v1M390.5 383v2M391.5 389v6M391.5 414v15M392.5 387v1M393.5 421v5M394.5 394v1M395.5 380v2M395.5 435v1M396.5 393v1M397.5 443v1M398.5 358v30M398.5 426v1M400.5 422v2M402.5 382v1M404.5 390v1M408.5 431v2M409.5 420v1M410.5 372v9M410.5 415v5M411.5 370v1M411.5 410v5M412.5 351v33M412.5 423v2M413.5 381v1M414.5 375v3M414.5 426v1M415.5 373v2M417.5 374v2M418.5 407v15M419.5 429v6M420.5 374v9M420.5 428v1M421.5 418v23M422.5 435v4M423.5 425v9M425.5 415v6M427.5 417v2M428.5 376v17M429.5 412v1M431.5 388v1M431.5 411v4M432.5 423v2M433.5 420v2M435.5 393v8M437.5 396v1M438.5 390v6M438.5 431v1M439.5 389v6M439.5 430v1M440.5 374v10M441.5 385v1M442.5 424v10M443.5 390v10M444.5 396v1M444.5 431v1M446.5 423v2M447.5 435v3M450.5 391v1M450.5 432v3M451.5 393v1M452.5 428v7M454.5 402v1M454.5 444v1M455.5 426v18M456.5 370v2M456.5 413v4M459.5 422v1M460.5 419v14M461.5 419v2M463.5 412v6M464.5 419v7M465.5 390v8M466.5 416v37M467.5 383v10M467.5 423v13M468.5 389v1M470.5 415v4M471.5 422v5M472.5 416v1M473.5 386v4M474.5 419v1M475.5 383v1M476.5 374v15M476.5 413v9M478.5 386v7M478.5 429v4M479.5 418v2M480.5 391v3M480.5 421v1M481.5 391v3M482.5 388v3M482.5 433v3M483.5 440v2M484.5 394v9M484.5 442v2M485.5 393v3M485.5 425v1M486.5 387v9M487.5 425v1M488.5 392v1M488.5 425v7M489.5 389v3M490.5 382v1M491.5 425v2M492.5 400v1M492.5 434v6M493.5 379v2M493.5 409v1M494.5 389v1M494.5 417v33M495.5 378v4M495.5 410v10M496.5 378v9M497.5 391v1M497.5 413v1M498.5 377v8M499.5 385v3M500.5 377v4M500.5 417v8M501.5 395v1M503.5 428v6M504.5 400v4M504.5 435v3M505.5 398v7M505.5 424v17M506.5 380v5M507.5 421v1M508.5 433v11M509.5 421v3M510.5 424v7M511.5 364v24M512.5 380v10M512.5 429v1M514.5 428v1M515.5 422v4M516.5 421v12M517.5 442v1M518.5 423v10M519.5 430v2M522.5 388v2M522.5 422v3M524.5 390v4M524.5 417v2M525.5 376v18M526.5 390v3M526.5 423v4M527.5 428v5M529.5 388v1M529.5 430v5M530.5 392v3M531.5 391v1M533.5 412v10M535.5 395v4M535.5 436v5M537.5 418v4M539.5 410v12M540.5 408v3M541.5 370v6M541.5 432v12M542.5 395v1M542.5 423v12M543.5 417v5M544.5 394v5M545.5 379v14M546.5 376v3M547.5 370v21M548.5 387v4M549.5 379v8M550.5 389v4M551.5 422v11M552.5 391v1M553.5 427v9M554.5 360v16M556.5 394v12M557.5 386v1M558.5 386v1M559.5 387v1M560.5 385v15M562.5 384v1M562.5 423v1M563.5 384v3M565.5 382v7M566.5 422v7M567.5 428v1M569.5 395v2M569.5 426v11M570.5 423v1M571.5 387v4M572.5 392v1M572.5 416v1M573.5 399v3M574.5 394v3M575.5 396v1M576.5 426v3M577.5 393v3M578.5 413v3M580.5 429v3M581.5 391v1M581.5 426v1M582.5 433v1M583.5 396v1M583.5 433v9M584.5 421v6M585.5 389v7M585.5 425v2M586.5 392v1M586.5 429v1M588.5 384v14M588.5 444v1M589.5 383v7M589.5 412v4M590.5 422v1M591.5 428v3M592.5 431v3M593.5 389v11M593.5 423v3M594.5 380v11M596.5 427v17M597.5 437v6M599.5 396v6M599.5 436v1M600.5 392v6M600.5 445v5M603.5 390v2M603.5 429v11M604.5 371v16M604.5 437v1M605.5 427v1M606.5 429v8M608.5 418v12M609.5 428v1M611.5 382v6M612.5 395v1M613.5 390v5M613.5 424v13M614.5 439v3M615.5 419v5M616.5 396v2M617.5 430v11M618.5 441v1M619.5 395v4M619.5 429v15M620.5 418v4M621.5 423v4M622.5 384v11M624.5 389v10M624.5 417v15M625.5 385v5M625.5 429v13M626.5 399v5M626.5 426v18M627.5 380v1M627.5 419v4M628.5 419v8M629.5 425v2M631.5 390v11M634.5 376v5M634.5 424v1M635.5 361v17M635.5 424v1M636.5 428v1M637.5 385v1M638.5 419v25M639.5 430v6M640.5 424v1M641.5 395v3M642.5 374v1M642.5 419v6M643.5 393v1M644.5 391v1M644.5 428v16M645.5 423v4M647.5 434v1M648.5 389v1M648.5 418v13M649.5 418v16M651.5 426v1M652.5 401v2M653.5 427v8M654.5 394v1M655.5 419v3M656.5 374v14M657.5 387v1M657.5 426v1M658.5 427v6M659.5 384v13M659.5 425v1M661.5 420v1M662.5 441v3M663.5 401v1M664.5 391v1M664.5 438v6M665.5 422v4M666.5 420v5M668.5 422v4" stroke="#b88dc1" stroke-width="1" fill="none"/>
<path d="M44.5 410v1M45.5 403v3M45.5 436v1M46.5 404v2M47.5 402v1M49.5 396v1M49.5 431v3M50.5 431v1M51.5 399v1M51.5 428v8M53.5 391v1M53.5 428v3M54.5 429v6M55.5 396v1M56.5 435v3M57.5 402v1M57.5 427v7M58.5 392v3M59.5 432v1M60.5 423v1M61.5 400v6M62.5 430v4M64.5 440v1M65.5 425v3M66.5 402v1M67.5 394v1M67.5 429v1M69.5 427v1M70.5 428v1M71.5 392v6M72.5 434v5M73.5 420v2M74.5 420v7M75.5 392v1M76.5 415v3M77.5 394v5M78.5 388v13M80.5 418v1M81.5 394v1M81.5 424v1M82.5 416v1M84.5 434v5M86.5 385v1M86.5 432v1M89.5 418v1M90.5 414v4M91.5 427v1M92.5 402v1M92.5 428v1M93.5 431v1M94.5 433v1M95.5 374v19M95.5 421v6M97.5 395v5M97.5 435v1M98.5 393v1M99.5 425v2M101.5 385v13M101.5 438v1M102.5 397v1M103.5 393v1M103.5 426v5M104.5 443v1M105.5 399v1M106.5 423v1M107.5 411v2M107.5 435v9M108.5 400v3M108.5 428v1M109.5 405v1M109.5 432v3M110.5 399v6M110.5 427v1M111.5 377v13M112.5 414v1M113.5 417v1M114.5 423v1M115.5 402v2M116.5 401v1M116.5 439v4M117.5 436v1M118.5 400v1M119.5 431v1M121.5 395v11M121.5 432v12M122.5 419v12M123.5 397v2M124.5 408v2M125.5 385v15M126.5 385v11M127.5 396v4M127.5 435v2M128.5 421v2M129.5 419v1M130.5 392v1M131.5 398v7M131.5 432v1M132.5 424v1M133.5 398v9M133.5 426v3M134.5 389v2M137.5 394v1M138.5 437v1M140.5 403v1M141.5 379v4M141.5 413v2M142.5 390v5M142.5 422v5M143.5 425v1M144.5 428v4M145.5 394v1M145.5 428v9M146.5 403v5M146.5 432v1M147.5 394v2M147.5 433v11M148.5 396v1M148.5 427v1M149.5 390v1M150.5 418v3M151.5 398v3M151.5 430v5M153.5 402v1M153.5 441v1M155.5 424v8M156.5 397v1M156.5 423v1M157.5 440v1M158.5 399v3M159.5 403v1M160.5 436v1M162.5 414v1M163.5 384v6M165.5 374v1M165.5 417v1M166.5 397v1M166.5 429v2M167.5 434v1M168.5 396v6M168.5 428v3M169.5 438v1M171.5 435v1M172.5 386v8M173.5 396v6M173.5 429v2M175.5 396v1M176.5 396v1M176.5 437v7M177.5 424v1M179.5 438v1M180.5 400v1M181.5 383v6M181.5 414v1M182.5 387v1M183.5 394v4M183.5 439v5M184.5 438v1M185.5 391v8M185.5 428v1M186.5 383v3M186.5 415v3M188.5 400v1M189.5 426v1M190.5 381v2M193.5 405v3M194.5 433v1M195.5 373v1M198.5 434v1M199.5 398v5M200.5 382v1M202.5 435v1M204.5 396v1M204.5 433v1M205.5 393v5M205.5 434v1M207.5 429v5M208.5 430v2M209.5 427v3M210.5 428v6M211.5 434v2M213.5 426v2M214.5 404v1M215.5 402v1M215.5 429v1M216.5 389v1M216.5 432v1M217.5 392v10M218.5 414v2M219.5 389v1M219.5 425v12M220.5 434v6M221.5 441v1M222.5 396v3M222.5 422v1M225.5 394v7M225.5 428v1M226.5 415v1M226.5 435v9M227.5 393v3M227.5 421v14M228.5 440v1M229.5 386v6M230.5 387v4M230.5 424v1M232.5 436v1M233.5 404v5M233.5 436v1M234.5 403v1M236.5 370v25M236.5 431v6M237.5 385v1M237.5 412v2M238.5 434v2M239.5 430v1M240.5 389v2M240.5 427v1M242.5 385v5M242.5 423v1M243.5 370v27M244.5 412v8M245.5 421v2M246.5 420v1M247.5 374v1M247.5 421v12M248.5 391v1M249.5 410v5M250.5 391v1M250.5 423v2M252.5 418v1M253.5 388v8M253.5 438v1M254.5 397v1M254.5 432v7M255.5 388v2M255.5 415v3M256.5 398v5M256.5 416v10M257.5 440v1M261.5 437v4M262.5 425v13M263.5 418v6M266.5 426v1M267.5 393v3M267.5 426v2M268.5 420v2M270.5 388v1M271.5 386v2M272.5 436v3M273.5 402v10M274.5 410v1M274.5 440v4M275.5 405v5M275.5 429v6M276.5 421v9M277.5 424v11M278.5 409v1M279.5 421v1M281.5 397v1M281.5 422v1M282.5 390v1M283.5 374v7M283.5 420v5M284.5 410v6M285.5 414v6M286.5 396v5M286.5 421v11M287.5 405v1M289.5 394v1M290.5 396v4M290.5 427v4M292.5 434v1M293.5 398v4M294.5 396v1M294.5 427v1M295.5 427v1M296.5 430v2M297.5 395v5M297.5 431v1M298.5 444v1M299.5 381v1M299.5 430v1M301.5 379v5M301.5 418v4M302.5 425v13M303.5 388v10M304.5 396v2M304.5 429v15M305.5 392v1M305.5 422v22M306.5 391v1M307.5 418v1M308.5 395v1M308.5 425v1M309.5 417v1M310.5 370v7M311.5 377v4M312.5 421v4M313.5 420v1M314.5 419v1M316.5 398v1M316.5 415v2M317.5 419v7M318.5 393v3M318.5 422v3M319.5 417v1M321.5 397v1M321.5 429v1M322.5 401v5M323.5 436v5M324.5 444v1M325.5 416v1M327.5 388v6M328.5 381v13M329.5 385v8M330.5 386v1M331.5 406v1M332.5 386v4M333.5 400v1M333.5 430v1M334.5 427v7M335.5 424v2M336.5 391v1M336.5 412v1M337.5 372v3M338.5 413v6M339.5 390v1M339.5 422v4M340.5 384v1M340.5 411v1M341.5 385v3M342.5 389v4M342.5 417v1M343.5 431v1M346.5 422v1M347.5 380v4M348.5 421v8M349.5 386v1M350.5 385v9M350.5 415v1M351.5 388v10M351.5 424v16M352.5 431v3M354.5 424v7M355.5 400v2M355.5 424v7M356.5 401v1M356.5 428v1M357.5 428v1M359.5 435v1M360.5 418v1M362.5 382v11M362.5 408v1M363.5 370v22M363.5 417v3M365.5 372v11M365.5 417v1M367.5 401v3M368.5 414v4M369.5 419v5M370.5 427v1M372.5 373v12M372.5 414v4M374.5 428v15M376.5 392v7M377.5 402v1M378.5 377v1M378.5 413v4M379.5 389v2M379.5 421v1M380.5 395v2M382.5 401v1M386.5 410v5M387.5 388v1M389.5 394v1M390.5 385v1M390.5 420v8M393.5 370v26M395.5 382v11M395.5 425v10M396.5 426v11M397.5 427v16M400.5 378v7M402.5 383v2M403.5 390v1M403.5 426v10M404.5 391v1M404.5 417v11M405.5 377v14M405.5 420v3M406.5 373v2M408.5 402v1M408.5 424v7M409.5 387v5M409.5 418v2M411.5 371v1M414.5 378v1M416.5 374v10M416.5 425v1M417.5 376v9M417.5 415v8M418.5 374v5M418.5 406v1M419.5 401v1M420.5 383v10M420.5 421v7M424.5 413v2M425.5 378v1M426.5 395v1M426.5 420v1M427.5 393v1M428.5 393v1M428.5 417v5M429.5 370v12M429.5 411v1M430.5 388v1M430.5 416v9M431.5 389v1M431.5 410v1M432.5 388v12M432.5 421v2M433.5 370v1M435.5 401v1M436.5 384v2M436.5 436v4M438.5 396v4M439.5 428v2M440.5 384v1M440.5 415v6M441.5 418v3M442.5 423v1M444.5 430v1M445.5 385v6M445.5 437v5M446.5 422v1M448.5 400v1M449.5 389v7M449.5 419v10M451.5 394v3M453.5 394v2M453.5 432v10M455.5 372v1M456.5 372v9M456.5 411v2M457.5 414v1M458.5 411v1M460.5 370v11M460.5 418v1M462.5 392v1M462.5 425v1M463.5 375v4M464.5 389v1M464.5 418v1M465.5 427v17M466.5 378v1M466.5 414v2M467.5 421v2M468.5 437v1M469.5 390v6M470.5 379v5M470.5 414v1M471.5 415v7M472.5 390v4M473.5 427v1M474.5 385v5M474.5 418v1M475.5 384v9M475.5 431v1M476.5 411v2M477.5 391v1M478.5 393v5M478.5 428v1M479.5 386v4M479.5 415v3M480.5 394v2M481.5 394v3M482.5 432v1M483.5 400v1M483.5 434v6M484.5 403v1M484.5 441v1M488.5 393v3M489.5 392v3M489.5 419v1M490.5 383v3M490.5 413v16M491.5 417v8M492.5 401v1M494.5 416v1M495.5 382v5M495.5 405v5M496.5 387v1M496.5 408v6M497.5 412v1M499.5 388v1M500.5 381v1M500.5 411v6M501.5 422v3M502.5 433v7M503.5 425v3M504.5 404v2M504.5 434v1M505.5 405v1M505.5 423v1M506.5 425v1M508.5 423v10M509.5 392v1M509.5 420v1M510.5 398v1M511.5 388v1M512.5 390v1M513.5 380v6M513.5 416v1M514.5 380v1M514.5 427v1M515.5 394v1M515.5 421v1M517.5 403v3M518.5 398v1M518.5 420v3M519.5 391v2M519.5 427v3M520.5 425v10M521.5 390v1M521.5 424v1M522.5 390v1M524.5 416v1M526.5 419v4M527.5 393v1M527.5 427v1M528.5 395v1M529.5 389v7M530.5 436v6M531.5 424v1M532.5 393v1M532.5 437v6M533.5 370v12M535.5 399v1M537.5 417v1M538.5 388v1M538.5 418v9M539.5 383v6M539.5 409v1M540.5 407v1M541.5 376v7M541.5 426v6M542.5 396v5M542.5 422v1M543.5 386v3M545.5 393v1M546.5 415v16M547.5 391v1M547.5 418v7M548.5 391v1M549.5 387v1M550.5 393v1M550.5 428v1M551.5 386v1M551.5 421v1M553.5 426v1M554.5 423v1M555.5 378v8M555.5 423v6M557.5 418v22M558.5 416v1M559.5 388v1M559.5 417v1M560.5 400v1M560.5 422v3M561.5 395v1M563.5 387v8M563.5 426v1M564.5 421v1M566.5 420v2M567.5 394v3M568.5 419v1M569.5 425v1M570.5 422v1M571.5 429v1M572.5 415v1M573.5 402v1M573.5 429v1M574.5 397v1M575.5 397v6M575.5 425v1M576.5 425v1M579.5 381v9M579.5 417v9M580.5 390v4M580.5 420v9M581.5 392v4M581.5 421v5M583.5 432v1M585.5 396v1M586.5 425v4M587.5 395v1M587.5 423v13M588.5 398v2M590.5 421v1M591.5 427v1M593.5 400v3M593.5 422v1M594.5 425v1M595.5 430v7M596.5 377v13M597.5 436v1M598.5 403v2M598.5 441v2M600.5 398v5M602.5 394v1M602.5 424v1M603.5 392v3M603.5 428v1M604.5 387v11M606.5 397v1M607.5 382v7M607.5 427v2M608.5 390v2M608.5 417v1M609.5 427v1M610.5 435v3M611.5 388v2M612.5 433v1M614.5 398v7M614.5 427v12M616.5 430v5M617.5 427v3M618.5 396v11M618.5 438v3M621.5 388v5M622.5 395v1M622.5 429v1M625.5 390v5M625.5 422v7M627.5 381v7M628.5 418v1M629.5 424v1M632.5 424v1M635.5 378v1M636.5 422v6M638.5 397v4M639.5 429v1M640.5 396v1M640.5 422v2M641.5 398v1M642.5 375v23M642.5 418v1M647.5 360v33M647.5 432v2M650.5 395v1M650.5 437v1M651.5 396v4M651.5 424v2M653.5 419v8M654.5 395v2M654.5 418v1M659.5 397v1M660.5 428v1M661.5 387v1M661.5 416v4M662.5 398v1M662.5 436v5M664.5 418v20M665.5 387v8M665.5 418v4M666.5 419v1" stroke="#a56db0" stroke-width="1" fill="none"/>
<path d="M44.5 432v12M45.5 406v5M46.5 406v1M46.5 435v1M47.5 426v1M48.5 430v1M49.5 397v2M50.5 399v1M51.5 400v10M51.5 420v8M52.5 410v1M52.5 436v6M53.5 392v2M53.5 427v1M54.5 403v4M54.5 427v2M55.5 397v3M55.5 421v6M56.5 397v1M56.5 434v1M57.5 422v5M58.5 395v7M58.5 434v1M60.5 394v1M61.5 406v6M61.5 424v5M62.5 408v4M63.5 428v1M64.5 402v1M64.5 439v1M65.5 416v9M66.5 403v1M66.5 424v1M67.5 395v9M68.5 403v2M68.5 432v12M69.5 399v1M69.5 421v6M70.5 390v6M71.5 398v6M71.5 436v1M72.5 401v7M72.5 433v1M73.5 382v14M73.5 419v1M74.5 417v3M75.5 393v1M75.5 424v5M76.5 382v1M76.5 414v1M77.5 399v1M77.5 438v1M78.5 401v1M78.5 421v5M79.5 406v1M79.5 443v1M80.5 375v2M80.5 417v1M81.5 395v3M83.5 401v3M83.5 420v2M84.5 433v1M85.5 394v1M86.5 386v9M86.5 426v6M87.5 402v2M88.5 401v1M90.5 369v21M90.5 413v1M91.5 403v1M91.5 425v2M92.5 403v1M93.5 403v1M94.5 393v1M95.5 393v2M95.5 419v2M96.5 381v1M96.5 414v13M97.5 400v2M98.5 417v35M99.5 393v3M99.5 420v5M100.5 393v2M100.5 424v1M101.5 425v13M102.5 423v1M103.5 394v9M103.5 425v1M104.5 434v9M105.5 436v3M106.5 388v4M107.5 434v1M109.5 406v5M109.5 429v3M110.5 426v1M111.5 390v15M111.5 422v11M112.5 383v6M113.5 389v1M114.5 395v1M115.5 404v3M116.5 438v1M117.5 394v2M117.5 430v6M118.5 438v1M119.5 406v1M120.5 426v1M121.5 406v2M121.5 427v5M122.5 383v5M122.5 411v8M123.5 434v2M124.5 433v1M125.5 400v1M127.5 434v1M129.5 393v1M130.5 420v7M131.5 405v1M132.5 402v3M133.5 407v1M135.5 392v3M136.5 401v1M136.5 436v2M137.5 395v5M137.5 427v6M138.5 403v1M139.5 425v1M140.5 430v6M141.5 412v1M142.5 395v1M142.5 421v1M143.5 424v1M145.5 395v3M146.5 408v1M147.5 396v1M147.5 432v1M150.5 394v4M150.5 414v4M151.5 401v9M151.5 429v1M153.5 440v1M154.5 439v5M155.5 391v12M155.5 423v1M156.5 398v2M157.5 400v1M159.5 435v1M160.5 388v1M160.5 433v3M161.5 393v4M161.5 421v6M162.5 393v1M163.5 390v6M163.5 425v3M164.5 391v9M164.5 424v1M165.5 375v13M167.5 391v1M167.5 431v3M168.5 402v1M168.5 427v1M169.5 396v2M169.5 423v15M170.5 389v6M172.5 394v2M172.5 415v1M173.5 402v1M173.5 423v6M174.5 401v2M174.5 431v13M175.5 397v1M177.5 385v3M178.5 424v1M179.5 399v1M179.5 426v12M180.5 401v1M180.5 425v5M181.5 413v1M183.5 398v1M183.5 436v3M184.5 380v1M184.5 435v3M185.5 399v3M186.5 386v1M186.5 414v1M187.5 386v1M187.5 413v7M188.5 419v2M190.5 383v10M190.5 413v1M191.5 444v1M192.5 394v2M192.5 430v2M193.5 408v1M193.5 430v14M194.5 387v1M194.5 432v1M195.5 374v15M196.5 409v1M196.5 432v3M197.5 409v1M198.5 407v4M198.5 433v1M199.5 428v1M200.5 383v19M201.5 432v1M202.5 392v1M203.5 431v4M204.5 397v1M205.5 398v5M205.5 423v11M206.5 392v2M207.5 391v9M207.5 424v5M209.5 426v1M210.5 427v1M211.5 399v7M211.5 433v1M212.5 398v3M213.5 397v1M213.5 422v4M214.5 429v9M215.5 425v4M216.5 431v1M217.5 402v1M217.5 429v1M218.5 377v13M218.5 413v1M219.5 390v2M219.5 424v1M220.5 399v9M220.5 424v10M221.5 440v1M222.5 399v1M223.5 395v2M223.5 431v12M224.5 403v1M224.5 434v1M225.5 401v2M226.5 416v2M226.5 434v1M227.5 396v20M227.5 418v3M228.5 435v5M229.5 392v8M229.5 418v1M230.5 391v1M231.5 401v1M232.5 431v5M233.5 409v1M233.5 423v13M234.5 426v12M235.5 420v1M236.5 430v1M237.5 411v1M238.5 410v1M238.5 433v1M239.5 393v3M240.5 391v7M240.5 418v9M241.5 388v3M242.5 390v5M242.5 419v4M243.5 421v2M245.5 393v1M245.5 420v1M246.5 392v1M247.5 375v21M247.5 420v1M248.5 392v4M249.5 380v3M252.5 387v1M253.5 396v1M254.5 398v11M254.5 428v4M255.5 414v1M256.5 403v1M256.5 415v1M257.5 388v15M258.5 394v1M258.5 427v5M259.5 391v2M261.5 381v5M261.5 416v21M262.5 379v17M262.5 418v7M263.5 388v2M263.5 417v1M264.5 424v1M265.5 387v2M265.5 418v3M266.5 422v4M268.5 385v2M268.5 415v5M269.5 387v10M269.5 420v2M271.5 388v2M272.5 394v6M275.5 427v2M276.5 406v3M277.5 422v2M279.5 390v2M279.5 420v1M280.5 381v14M281.5 398v2M281.5 420v2M282.5 431v1M283.5 381v1M283.5 419v1M285.5 413v1M286.5 420v1M287.5 406v10M287.5 426v1M288.5 408v3M288.5 436v5M289.5 395v1M289.5 432v4M290.5 400v7M290.5 423v4M291.5 421v6M292.5 410v1M293.5 402v7M294.5 397v3M295.5 425v2M296.5 384v6M296.5 429v1M297.5 400v8M297.5 430v1M298.5 395v1M299.5 382v10M300.5 422v6M301.5 384v1M301.5 417v1M303.5 419v25M304.5 424v5M305.5 421v1M308.5 396v1M308.5 423v2M309.5 416v1M310.5 377v10M310.5 407v1M311.5 381v1M311.5 407v1M312.5 420v1M313.5 392v7M314.5 399v1M314.5 418v1M315.5 387v1M315.5 414v2M316.5 414v1M317.5 418v1M318.5 396v1M318.5 421v1M319.5 385v2M320.5 423v1M321.5 398v8M321.5 424v5M322.5 406v1M323.5 382v19M323.5 423v13M324.5 401v5M325.5 414v2M326.5 393v8M326.5 429v2M327.5 394v1M327.5 417v1M328.5 394v1M328.5 420v4M329.5 426v1M330.5 387v2M332.5 390v3M333.5 427v3M335.5 392v6M335.5 423v1M336.5 406v6M337.5 375v1M338.5 412v1M341.5 388v1M341.5 413v1M342.5 393v1M342.5 411v6M344.5 376v4M344.5 413v1M345.5 386v4M345.5 416v1M346.5 390v1M347.5 419v2M348.5 382v4M348.5 413v8M349.5 387v2M349.5 422v1M350.5 394v1M350.5 412v3M351.5 398v1M351.5 423v1M352.5 400v3M352.5 430v1M353.5 393v2M354.5 393v2M355.5 402v1M356.5 402v1M358.5 379v1M358.5 413v12M359.5 403v4M359.5 432v3M360.5 387v12M361.5 412v9M362.5 393v1M363.5 392v1M363.5 404v13M364.5 374v2M365.5 383v11M365.5 416v1M366.5 395v3M367.5 428v1M368.5 388v1M368.5 413v1M369.5 418v1M370.5 418v9M371.5 370v16M372.5 385v1M372.5 409v5M373.5 408v1M374.5 427v1M375.5 396v2M376.5 421v9M377.5 403v1M378.5 378v9M378.5 411v2M379.5 391v1M379.5 417v4M380.5 418v34M382.5 402v4M384.5 370v7M384.5 411v1M385.5 378v11M386.5 373v1M387.5 414v2M388.5 423v3M389.5 422v1M390.5 386v9M390.5 414v6M391.5 395v1M393.5 396v1M395.5 393v1M395.5 418v7M396.5 425v1M397.5 425v2M399.5 429v8M400.5 385v4M401.5 383v1M402.5 385v1M402.5 426v4M403.5 391v3M404.5 416v1M405.5 411v9M406.5 375v1M406.5 403v6M407.5 396v1M407.5 429v1M408.5 403v1M409.5 392v3M409.5 411v7M411.5 372v2M411.5 409v1M412.5 384v1M412.5 411v12M413.5 424v8M414.5 413v13M415.5 375v4M415.5 408v2M416.5 384v2M416.5 424v1M417.5 385v2M417.5 413v2M418.5 379v12M419.5 402v7M419.5 428v1M420.5 393v8M420.5 418v3M422.5 358v32M423.5 390v1M424.5 390v3M424.5 412v1M425.5 379v6M426.5 396v4M426.5 419v1M428.5 414v3M429.5 408v3M430.5 389v4M432.5 400v3M432.5 420v1M433.5 371v21M434.5 383v18M434.5 434v1M435.5 436v1M436.5 386v4M437.5 427v4M438.5 400v1M439.5 395v1M439.5 427v1M440.5 385v1M440.5 414v1M441.5 386v7M442.5 408v15M443.5 400v1M443.5 430v5M444.5 397v3M445.5 391v9M445.5 423v14M446.5 390v4M446.5 411v11M447.5 395v3M447.5 434v1M448.5 424v10M449.5 396v4M449.5 418v1M451.5 397v8M451.5 428v16M452.5 389v5M453.5 396v6M453.5 431v1M454.5 403v1M454.5 432v12M455.5 373v18M455.5 425v1M456.5 381v3M456.5 410v1M457.5 412v2M458.5 381v1M458.5 409v2M460.5 381v2M460.5 417v1M461.5 387v1M461.5 418v1M462.5 422v3M463.5 379v7M464.5 390v1M465.5 398v1M465.5 421v6M466.5 379v4M466.5 413v1M467.5 393v1M467.5 420v1M468.5 422v15M469.5 419v1M470.5 384v1M470.5 412v2M471.5 392v2M472.5 394v1M472.5 415v1M473.5 390v1M473.5 423v4M474.5 417v1M475.5 393v4M475.5 425v6M476.5 389v1M477.5 424v1M478.5 398v2M478.5 421v7M479.5 390v4M480.5 396v1M480.5 419v2M481.5 397v3M481.5 416v15M482.5 391v11M482.5 422v10M483.5 401v1M483.5 431v3M484.5 404v1M484.5 440v1M485.5 424v1M486.5 396v6M486.5 425v4M487.5 386v1M488.5 396v1M488.5 416v9M489.5 418v1M490.5 386v1M490.5 406v7M491.5 412v5M492.5 402v1M492.5 433v1M493.5 406v3M494.5 390v8M494.5 415v1M495.5 387v2M495.5 404v1M496.5 388v4M496.5 404v4M497.5 411v1M498.5 408v11M499.5 389v1M499.5 417v3M500.5 410v1M501.5 414v8M502.5 393v2M503.5 397v3M503.5 424v1M504.5 432v2M505.5 418v5M506.5 416v9M507.5 387v8M507.5 416v5M508.5 391v3M508.5 422v1M509.5 393v3M509.5 419v1M510.5 399v1M510.5 423v1M511.5 389v11M511.5 424v7M512.5 391v9M513.5 386v9M513.5 415v1M515.5 395v2M516.5 392v5M517.5 406v1M517.5 434v8M518.5 399v6M518.5 419v1M519.5 393v4M519.5 424v3M520.5 391v1M522.5 413v9M523.5 382v7M524.5 394v1M524.5 413v3M525.5 394v12M525.5 432v4M526.5 393v1M527.5 394v4M528.5 396v1M529.5 396v1M529.5 429v1M532.5 394v1M532.5 432v5M533.5 382v12M533.5 411v1M534.5 388v1M535.5 400v2M535.5 435v1M536.5 392v1M536.5 433v1M537.5 377v4M538.5 389v6M538.5 417v1M539.5 389v5M539.5 407v2M540.5 375v1M541.5 383v3M541.5 412v14M542.5 401v1M543.5 389v1M544.5 433v5M546.5 414v1M547.5 392v4M548.5 416v1M549.5 388v1M550.5 394v3M551.5 387v5M551.5 420v1M552.5 392v3M553.5 377v10M555.5 386v1M555.5 420v3M556.5 406v3M556.5 440v2M557.5 387v6M557.5 417v1M558.5 387v1M561.5 396v5M561.5 425v5M562.5 385v1M562.5 418v5M563.5 395v1M563.5 422v4M564.5 418v3M565.5 414v7M566.5 416v4M567.5 397v1M567.5 418v10M568.5 388v2M569.5 397v2M569.5 422v3M570.5 392v1M571.5 416v13M572.5 393v4M572.5 412v3M573.5 403v1M573.5 421v8M574.5 415v5M575.5 403v4M575.5 415v10M576.5 396v11M577.5 396v6M577.5 427v1M578.5 382v1M579.5 390v1M579.5 416v1M580.5 411v9M581.5 396v1M581.5 411v10M582.5 397v1M582.5 432v1M583.5 397v1M584.5 361v34M584.5 420v1M585.5 424v1M586.5 419v6M587.5 396v7M587.5 422v1M588.5 430v14M591.5 398v1M592.5 385v7M592.5 428v3M593.5 403v2M594.5 391v1M595.5 391v1M595.5 429v1M596.5 390v1M596.5 422v5M597.5 394v2M597.5 433v3M598.5 405v9M598.5 440v1M599.5 402v3M600.5 403v1M600.5 444v1M601.5 398v1M601.5 424v1M602.5 395v4M602.5 423v1M603.5 395v1M604.5 398v4M604.5 428v9M605.5 392v10M606.5 398v2M607.5 389v1M607.5 425v2M608.5 392v2M608.5 414v3M609.5 382v1M609.5 418v9M610.5 432v3M611.5 390v13M611.5 420v12M612.5 396v15M612.5 423v10M613.5 423v1M614.5 405v1M614.5 424v3M615.5 370v21M615.5 414v5M616.5 398v1M616.5 425v5M617.5 426v1M618.5 437v1M619.5 399v1M619.5 428v1M620.5 386v1M620.5 416v2M621.5 393v1M621.5 422v1M622.5 396v1M622.5 424v5M623.5 396v1M623.5 423v1M624.5 399v1M625.5 395v7M626.5 404v2M626.5 425v1M627.5 388v1M627.5 418v1M628.5 417v1M629.5 417v7M630.5 405v1M630.5 435v7M631.5 401v1M632.5 395v3M632.5 423v1M633.5 395v1M633.5 432v9M634.5 381v3M634.5 420v4M635.5 420v4M636.5 398v2M636.5 421v1M637.5 386v14M637.5 417v39M638.5 401v1M638.5 417v2M639.5 398v1M639.5 427v2M640.5 421v1M641.5 399v1M642.5 398v1M643.5 430v5M644.5 392v2M644.5 427v1M645.5 391v4M645.5 422v1M646.5 395v7M646.5 435v5M647.5 431v1M648.5 390v1M648.5 417v1M649.5 375v16M649.5 417v1M650.5 396v10M650.5 425v12M651.5 400v3M651.5 416v8M652.5 425v1M653.5 388v2M654.5 397v1M654.5 417v1M656.5 388v1M656.5 419v17M657.5 388v1M657.5 424v2M658.5 384v3M658.5 426v1M659.5 398v1M660.5 391v3M661.5 388v1M662.5 399v1M662.5 435v1M663.5 402v1M663.5 435v1M664.5 392v1M664.5 417v1M665.5 395v7M665.5 417v1M666.5 399v3M667.5 398v1M667.5 428v7M668.5 389v1M668.5 421v1" stroke="#914e9f" stroke-width="1" fill="none"/>
<path d="M44.5 411v21M45.5 411v25M46.5 407v28M47.5 403v23M48.5 381v49M49.5 399v32M50.5 400v31M51.5 410v10M52.5 411v25M53.5 394v33M54.5 407v20M55.5 400v21M56.5 398v36M57.5 403v19M58.5 402v32M59.5 403v29M60.5 395v28M61.5 412v12M62.5 412v18M63.5 390v38M64.5 403v36M65.5 391v25M66.5 404v20M67.5 404v25M68.5 405v27M69.5 400v21M70.5 396v32M71.5 404v32M72.5 408v25M73.5 396v23M74.5 380v37M75.5 394v30M76.5 383v31M77.5 400v38M78.5 402v19M79.5 407v36M80.5 377v40M81.5 398v26M82.5 404v12M83.5 404v16M84.5 393v40M85.5 395v41M86.5 395v31M87.5 404v40M88.5 402v38M89.5 394v24M90.5 390v23M91.5 404v21M92.5 404v24M93.5 404v27M94.5 394v39M95.5 395v24M96.5 382v32M97.5 402v33M98.5 394v23M99.5 396v24M100.5 395v29M101.5 398v27M102.5 398v25M103.5 403v22M104.5 394v40M105.5 400v36M106.5 392v31M107.5 413v21M108.5 403v25M109.5 411v18M110.5 405v21M111.5 405v17M112.5 389v25M113.5 390v27M114.5 396v27M115.5 407v31M116.5 402v36M117.5 396v34M118.5 401v37M119.5 407v24M120.5 402v24M121.5 408v19M122.5 388v23M123.5 399v35M124.5 410v23M125.5 401v25M126.5 396v28M127.5 400v34M128.5 390v31M129.5 394v25M130.5 393v27M131.5 406v26M132.5 405v19M133.5 408v18M134.5 391v29M135.5 395v33M136.5 402v34M137.5 400v27M138.5 404v33M139.5 403v22M140.5 404v26M141.5 383v29M142.5 396v25M143.5 390v34M144.5 387v41M145.5 398v30M146.5 409v23M147.5 397v35M148.5 397v30M149.5 391v30M150.5 398v16M151.5 410v19M152.5 398v42M153.5 403v37M154.5 406v33M155.5 403v20M156.5 400v23M157.5 401v39M158.5 402v25M159.5 404v31M160.5 389v44M161.5 397v24M162.5 394v20M163.5 396v29M164.5 400v24M165.5 388v29M166.5 398v31M167.5 392v39M168.5 403v24M169.5 398v25M170.5 395v28M171.5 396v39M172.5 396v19M173.5 403v20M174.5 403v28M175.5 398v32M176.5 397v40M177.5 388v36M178.5 388v36M179.5 400v26M180.5 402v23M181.5 389v24M182.5 388v41M183.5 399v37M184.5 381v54M185.5 402v26M186.5 387v27M187.5 387v26M188.5 401v18M189.5 393v33M190.5 393v20M191.5 394v50M192.5 396v34M193.5 409v21M194.5 388v44M195.5 389v35M196.5 410v22M197.5 410v32M198.5 411v22M199.5 403v25M200.5 402v27M201.5 401v31M202.5 393v42M203.5 398v33M204.5 398v35M205.5 403v20M206.5 394v29M207.5 400v24M208.5 398v32M209.5 400v26M210.5 406v21M211.5 406v27M212.5 401v32M213.5 398v24M214.5 405v24M215.5 403v22M216.5 390v41M217.5 403v26M218.5 390v23M219.5 392v32M220.5 408v16M221.5 409v31M222.5 400v22M223.5 397v34M224.5 404v30M225.5 403v25M226.5 418v16M227.5 416v2M228.5 389v46M229.5 400v18M230.5 392v32M231.5 402v30M232.5 402v29M233.5 410v13M234.5 404v22M235.5 388v32M236.5 395v35M237.5 386v25M238.5 411v22M239.5 396v34M240.5 398v20M241.5 391v28M242.5 395v24M243.5 397v24M244.5 383v29M245.5 394v26M246.5 393v27M247.5 396v24M248.5 396v23M249.5 383v27M250.5 392v31M251.5 398v25M252.5 388v30M253.5 397v41M254.5 409v19M255.5 390v24M256.5 404v11M257.5 403v37M258.5 395v32M259.5 393v39M260.5 394v27M261.5 386v30M262.5 396v22M263.5 390v27M264.5 374v50M265.5 389v29M266.5 393v29M267.5 396v30M268.5 387v28M269.5 397v23M270.5 389v33M271.5 390v46M272.5 400v36M273.5 412v25M274.5 411v29M275.5 410v17M276.5 409v12M277.5 398v24M278.5 410v23M279.5 392v28M280.5 395v27M281.5 400v20M282.5 391v40M283.5 382v37M284.5 376v34M285.5 370v43M286.5 401v19M287.5 416v10M288.5 411v25M289.5 396v36M290.5 407v16M291.5 398v23M292.5 411v23M293.5 409v32M294.5 400v27M295.5 391v34M296.5 390v39M297.5 408v22M298.5 396v48M299.5 392v38M300.5 393v29M301.5 385v32M302.5 394v31M303.5 398v21M304.5 398v26M305.5 393v28M306.5 392v25M307.5 397v21M308.5 397v26M309.5 392v24M310.5 387v20M311.5 382v25M312.5 387v33M313.5 399v21M314.5 400v18M315.5 388v26M316.5 399v15M317.5 399v19M318.5 397v24M319.5 387v30M320.5 390v33M321.5 406v18M322.5 407v16M323.5 401v22M324.5 406v38M325.5 395v19M326.5 401v28M327.5 395v22M328.5 395v25M329.5 393v33M330.5 389v39M331.5 391v15M332.5 393v27M333.5 401v26M334.5 398v29M335.5 398v25M336.5 392v14M337.5 376v36M338.5 386v26M339.5 391v31M340.5 385v26M341.5 389v24M342.5 394v17M343.5 394v37M344.5 380v33M345.5 390v26M346.5 391v31M347.5 384v35M348.5 386v27M349.5 389v33M350.5 395v17M351.5 399v24M352.5 403v27M353.5 395v37M354.5 395v29M355.5 403v21M356.5 403v25M357.5 400v28M358.5 380v33M359.5 407v25M360.5 399v19M361.5 385v27M362.5 394v14M363.5 393v11M364.5 376v28M365.5 394v22M366.5 398v23M367.5 404v24M368.5 389v24M369.5 390v28M370.5 387v31M371.5 386v33M372.5 386v23M373.5 379v29M374.5 396v31M375.5 398v28M376.5 399v22M377.5 404v19M378.5 387v24M379.5 392v25M380.5 397v21M381.5 387v23M382.5 406v23M383.5 403v24M384.5 377v34M385.5 389v32M386.5 374v36M387.5 389v25M388.5 393v30M389.5 395v27M390.5 395v19M391.5 396v18M392.5 388v42M393.5 397v24M394.5 395v31M395.5 394v24M396.5 394v31M397.5 384v41M398.5 388v38M399.5 389v40M400.5 389v33M401.5 384v38M402.5 386v40M403.5 394v32M404.5 392v24M405.5 391v20M406.5 376v27M407.5 397v32M408.5 404v20M409.5 395v16M410.5 381v34M411.5 374v35M412.5 385v26M413.5 382v42M414.5 379v34M415.5 379v29M416.5 386v38M417.5 387v26M418.5 391v15M419.5 409v19M420.5 401v17M421.5 380v38M422.5 390v45M423.5 391v34M424.5 393v19M425.5 385v30M426.5 400v19M427.5 394v23M428.5 394v20M429.5 382v26M430.5 393v23M431.5 390v20M432.5 403v17M433.5 392v28M434.5 401v33M435.5 402v34M436.5 390v46M437.5 397v30M438.5 401v30M439.5 396v31M440.5 386v28M441.5 393v25M442.5 390v18M443.5 401v29M444.5 400v30M445.5 400v23M446.5 394v17M447.5 398v36M448.5 401v23M449.5 400v18M450.5 392v40M451.5 405v23M452.5 394v34M453.5 402v29M454.5 404v28M455.5 391v34M456.5 384v26M457.5 370v42M458.5 382v27M459.5 383v39M460.5 383v34M461.5 388v30M462.5 393v29M463.5 386v26M464.5 391v27M465.5 399v22M466.5 383v30M467.5 394v26M468.5 390v32M469.5 396v23M470.5 385v27M471.5 394v21M472.5 395v20M473.5 391v32M474.5 390v27M475.5 397v28M476.5 390v21M477.5 392v32M478.5 400v21M479.5 394v21M480.5 397v22M481.5 400v16M482.5 402v20M483.5 402v29M484.5 405v35M485.5 396v28M486.5 402v23M487.5 387v38M488.5 397v19M489.5 395v23M490.5 387v19M491.5 384v28M492.5 403v30M493.5 381v25M494.5 398v17M495.5 389v15M496.5 392v12M497.5 392v19M498.5 385v23M499.5 390v27M500.5 382v28M501.5 396v18M502.5 395v38M503.5 400v24M504.5 406v26M505.5 406v12M506.5 385v31M507.5 395v21M508.5 394v28M509.5 396v23M510.5 400v23M511.5 400v24M512.5 400v29M513.5 395v20M514.5 381v46M515.5 397v24M516.5 397v24M517.5 407v27M518.5 405v14M519.5 397v27M520.5 392v33M521.5 391v33M522.5 391v22M523.5 389v31M524.5 395v18M525.5 406v26M526.5 394v25M527.5 398v29M528.5 397v37M529.5 397v32M530.5 395v41M531.5 392v32M532.5 395v37M533.5 394v17M534.5 389v43M535.5 402v33M536.5 393v40M537.5 381v36M538.5 395v22M539.5 394v13M540.5 376v31M541.5 386v26M542.5 402v20M543.5 390v27M544.5 399v34M545.5 394v26M546.5 379v35M547.5 396v22M548.5 392v24M549.5 389v23M550.5 397v31M551.5 392v28M552.5 395v25M553.5 387v39M554.5 376v47M555.5 387v33M556.5 409v31M557.5 393v24M558.5 388v28M559.5 389v28M560.5 401v21M561.5 401v24M562.5 386v32M563.5 396v26M564.5 388v30M565.5 389v25M566.5 392v24M567.5 398v20M568.5 390v29M569.5 399v23M570.5 393v29M571.5 391v25M572.5 397v15M573.5 404v17M574.5 398v17M575.5 407v8M576.5 407v18M577.5 402v25M578.5 383v30M579.5 391v25M580.5 394v17M581.5 397v14M582.5 398v34M583.5 398v34M584.5 395v25M585.5 397v27M586.5 393v26M587.5 403v19M588.5 400v30M589.5 390v22M590.5 390v31M591.5 399v28M592.5 392v36M593.5 405v17M594.5 392v33M595.5 392v37M596.5 391v31M597.5 396v37M598.5 414v26M599.5 405v31M600.5 404v40M601.5 399v25M602.5 399v24M603.5 396v32M604.5 402v26M605.5 402v25M606.5 400v29M607.5 390v35M608.5 394v20M609.5 383v35M610.5 383v49M611.5 403v17M612.5 411v12M613.5 395v28M614.5 406v18M615.5 391v23M616.5 399v26M617.5 396v30M618.5 407v30M619.5 400v28M620.5 387v29M621.5 394v28M622.5 397v27M623.5 397v26M624.5 400v17M625.5 402v20M626.5 406v19M627.5 389v29M628.5 390v27M629.5 397v20M630.5 406v29M631.5 402v27M632.5 398v25M633.5 396v36M634.5 384v36M635.5 379v41M636.5 400v21M637.5 400v17M638.5 402v15M639.5 399v28M640.5 397v24M641.5 400v32M642.5 399v19M643.5 394v36M644.5 394v33M645.5 395v27M646.5 402v33M647.5 393v38M648.5 391v26M649.5 391v26M650.5 406v19M651.5 403v13M652.5 403v22M653.5 390v29M654.5 398v19M655.5 388v31M656.5 389v30M657.5 389v35M658.5 387v39M659.5 399v26M660.5 394v34M661.5 389v27M662.5 400v35M663.5 403v32M664.5 393v24M665.5 402v15M666.5 402v17M667.5 399v29M668.5 390v31" stroke="#7e2f8e" stroke-width="1" fill="none"/>
<path d="M43.5 4.5H669.5V251.5H43.5Z" fill="none" stroke="#868686" stroke-width="1"/>
<path d="M43.5 4.5h6.3M669.5 4.5h-6.3" stroke="#868686" stroke-width="1"/>
<path d="M43.5 45.5h6.3M669.5 45.5h-6.3" stroke="#868686" stroke-width="1"/>
<path d="M43.5 86.5h6.3M669.5 86.5h-6.3" stroke="#868686" stroke-width="1"/>
<path d="M43.5 127.5h6.3M669.5 127.5h-6.3" stroke="#868686" stroke-width="1"/>
<path d="M43.5 168.5h6.3M669.5 168.5h-6.3" stroke="#868686" stroke-width="1"/>
<path d="M43.5 210.5h6.3M669.5 210.5h-6.3" stroke="#868686" stroke-width="1"/>
<path d="M43.5 251.5h6.3M669.5 251.5h-6.3" stroke="#868686" stroke-width="1"/>
<path d="M43.5 251.5v-6.3M43.5 4.5v6.3" stroke="#868686" stroke-width="1"/>
<path d="M230.5 251.5v-6.3M230.5 4.5v6.3" stroke="#868686" stroke-width="1"/>
<path d="M363.5 251.5v-6.3M363.5 4.5v6.3" stroke="#868686" stroke-width="1"/>
<path d="M496.5 251.5v-6.3M496.5 4.5v6.3" stroke="#868686" stroke-width="1"/>
<path d="M669.5 251.5v-6.3M669.5 4.5v6.3" stroke="#868686" stroke-width="1"/>
<path d="M575 0L575 1237L257 1010L257 1180L590 1409L756 1409L756 0Z" transform="translate(20.44,10.35) scale(0.00684,-0.00684)" fill="#2e2e2e"/><text x="28.22" y="10.35" font-size="14">.5</text>
<path d="M575 0L575 1237L257 1010L257 1180L590 1409L756 1409L756 0Z" transform="translate(32.11,51.43) scale(0.00684,-0.00684)" fill="#2e2e2e"/>
<text x="20.44" y="92.52" font-size="14">0.5</text>
<text x="32.11" y="133.60" font-size="14">0</text>
<text x="15.78" y="174.68" font-size="14">-0.5</text>
<text x="27.45" y="215.77" font-size="14">-</text><path d="M575 0L575 1237L257 1010L257 1180L590 1409L756 1409L756 0Z" transform="translate(32.11,215.77) scale(0.00684,-0.00684)" fill="#2e2e2e"/>
<text x="15.78" y="256.85" font-size="14">-</text><path d="M575 0L575 1237L257 1010L257 1180L590 1409L756 1409L756 0Z" transform="translate(20.44,256.85) scale(0.00684,-0.00684)" fill="#2e2e2e"/><text x="28.22" y="256.85" font-size="14">.5</text>
<path d="M575 0L575 1237L257 1010L257 1180L590 1409L756 1409L756 0Z" transform="translate(28.13,269.00) scale(0.00684,-0.00684)" fill="#2e2e2e"/><text x="35.91" y="269.00" font-size="14">976</text>
<path d="M575 0L575 1237L257 1010L257 1180L590 1409L756 1409L756 0Z" transform="translate(214.51,269.00) scale(0.00684,-0.00684)" fill="#2e2e2e"/><text x="222.29" y="269.00" font-size="14">990</text>
<text x="347.63" y="269.00" font-size="14">2000</text>
<text x="480.76" y="269.00" font-size="14">20</text><path d="M575 0L575 1237L257 1010L257 1180L590 1409L756 1409L756 0Z" transform="translate(496.33,269.00) scale(0.00684,-0.00684)" fill="#2e2e2e"/><text x="504.12" y="269.00" font-size="14">0</text>
<text x="653.83" y="269.00" font-size="14">2023</text>
<path d="M43.5 280.5H669.5V527.5H43.5Z" fill="none" stroke="#868686" stroke-width="1"/>
<path d="M43.5 280.5h6.3M669.5 280.5h-6.3" stroke="#868686" stroke-width="1"/>
<path d="M43.5 342.5h6.3M669.5 342.5h-6.3" stroke="#868686" stroke-width="1"/>
<path d="M43.5 403.5h6.3M669.5 403.5h-6.3" stroke="#868686" stroke-width="1"/>
<path d="M43.5 465.5h6.3M669.5 465.5h-6.3" stroke="#868686" stroke-width="1"/>
<path d="M43.5 527.5h6.3M669.5 527.5h-6.3" stroke="#868686" stroke-width="1"/>
<path d="M43.5 527.5v-6.3M43.5 280.5v6.3" stroke="#868686" stroke-width="1"/>
<path d="M230.5 527.5v-6.3M230.5 280.5v6.3" stroke="#868686" stroke-width="1"/>
<path d="M363.5 527.5v-6.3M363.5 280.5v6.3" stroke="#868686" stroke-width="1"/>
<path d="M496.5 527.5v-6.3M496.5 280.5v6.3" stroke="#868686" stroke-width="1"/>
<path d="M669.5 527.5v-6.3M669.5 280.5v6.3" stroke="#868686" stroke-width="1"/>
<text x="20.44" y="286.35" font-size="14">0.2</text>
<text x="20.44" y="348.00" font-size="14">0.</text><path d="M575 0L575 1237L257 1010L257 1180L590 1409L756 1409L756 0Z" transform="translate(32.11,348.00) scale(0.00684,-0.00684)" fill="#2e2e2e"/>
<text x="32.11" y="409.65" font-size="14">0</text>
<text x="15.78" y="471.30" font-size="14">-0.</text><path d="M575 0L575 1237L257 1010L257 1180L590 1409L756 1409L756 0Z" transform="translate(32.11,471.30) scale(0.00684,-0.00684)" fill="#2e2e2e"/>
<text x="15.78" y="532.95" font-size="14">-0.2</text>
<path d="M575 0L575 1237L257 1010L257 1180L590 1409L756 1409L756 0Z" transform="translate(28.13,545.20) scale(0.00684,-0.00684)" fill="#2e2e2e"/><text x="35.91" y="545.20" font-size="14">976</text>
<path d="M575 0L575 1237L257 1010L257 1180L590 1409L756 1409L756 0Z" transform="translate(214.51,545.20) scale(0.00684,-0.00684)" fill="#2e2e2e"/><text x="222.29" y="545.20" font-size="14">990</text>
<text x="347.63" y="545.20" font-size="14">2000</text>
<text x="480.76" y="545.20" font-size="14">20</text><path d="M575 0L575 1237L257 1010L257 1180L590 1409L756 1409L756 0Z" transform="translate(496.33,545.20) scale(0.00684,-0.00684)" fill="#2e2e2e"/><text x="504.12" y="545.20" font-size="14">0</text>
<text x="653.83" y="545.20" font-size="14">2023</text>
<text transform="translate(54.1,34.7) scale(0.75,1)" font-size="27.5" style="fill:#000;stroke:#000;stroke-width:0.6">(</text><text transform="translate(63.3,34.7) scale(0.8,1)" font-size="27.5" style="fill:#000;stroke:#000;stroke-width:0.25">a</text><text transform="translate(79.5,34.7) scale(0.75,1)" font-size="27.5" style="fill:#000;stroke:#000;stroke-width:0.6">)</text>
<text transform="translate(54.1,314.9) scale(0.75,1)" font-size="27.5" style="fill:#000;stroke:#000;stroke-width:0.6">(</text><text transform="translate(63.4,314.9) scale(1.0,1)" font-size="27.5" style="fill:#000;stroke:#000;stroke-width:0.25">b</text><text transform="translate(80.7,314.9) scale(0.75,1)" font-size="27.5" style="fill:#000;stroke:#000;stroke-width:0.6">)</text>
<text transform="translate(10.6,128.65) rotate(-90)" text-anchor="middle" font-size="15.4">AAM motion [ms]</text>
<text transform="translate(10.6,404.70) rotate(-90)" text-anchor="middle" font-size="15.4">OAM motion [ms]</text>
<text x="356.55" y="563.6" text-anchor="middle" font-size="15.4">time [year]</text>
</svg>
</body></html>
